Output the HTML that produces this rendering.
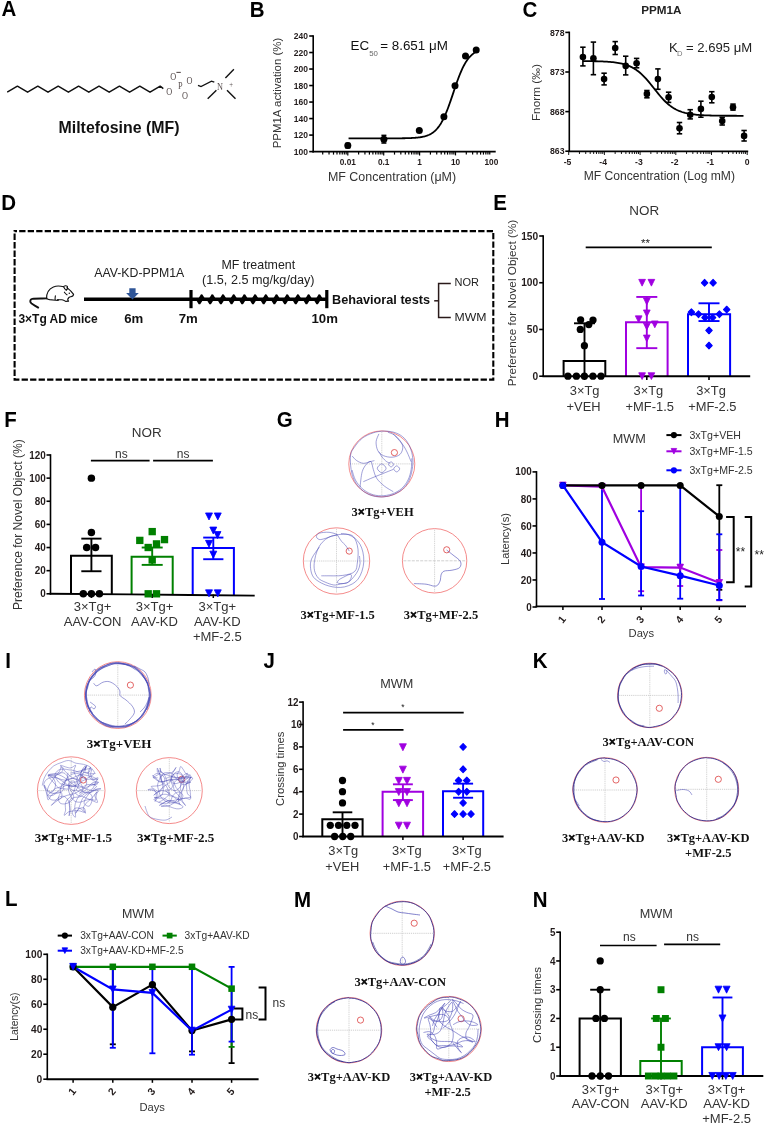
<!DOCTYPE html>
<html><head><meta charset="utf-8"><style>
html,body{margin:0;padding:0;background:#fff;width:765px;height:1124px;overflow:hidden}
svg{display:block;filter:blur(0.35px)}
</style></head><body>
<svg width="765" height="1124" viewBox="0 0 765 1124">
<rect width="765" height="1124" fill="#fff"/>
<text transform="translate(1.39 16.4) scale(0.92 1)" x="0" y="0" font-size="22.3" font-weight="bold" fill="#000" font-family='"Liberation Sans", sans-serif'>A</text>
<polyline points="7.2,92.2 17.4,86.2 27.6,92.2 37.8,86.2 48,92.2 58.2,86.2 68.4,92.2 78.6,86.2 88.8,92.2 99,86.2 109.2,92.2 119.4,86.2 129.6,92.2 139.8,86.2 150,92.2 160.2,86.2 163.3,88.6" stroke="#111" stroke-width="1.5" fill="none" stroke-linejoin="round"/>
<text transform="translate(169.2 94.6) scale(0.78 1)" x="0" y="0" font-size="10.6" font-weight="normal" text-anchor="middle" fill="#5a5050" font-family='"Liberation Serif", serif'>O</text>
<text transform="translate(173.2 79.8) scale(0.78 1)" x="0" y="0" font-size="10.6" font-weight="normal" text-anchor="middle" fill="#5a5050" font-family='"Liberation Serif", serif'>O</text>
<line x1="176.4" y1="72.4" x2="180.8" y2="72.4" stroke="#5a5050" stroke-width="1.1" />
<text transform="translate(180.2 88.8) scale(0.78 1)" x="0" y="0" font-size="10.6" font-weight="normal" text-anchor="middle" fill="#5a5050" font-family='"Liberation Serif", serif'>P</text>
<text transform="translate(189.4 83.9) scale(0.78 1)" x="0" y="0" font-size="10.6" font-weight="normal" text-anchor="middle" fill="#5a5050" font-family='"Liberation Serif", serif'>O</text>
<text transform="translate(185.1 98.6) scale(0.78 1)" x="0" y="0" font-size="10.6" font-weight="normal" text-anchor="middle" fill="#5a5050" font-family='"Liberation Serif", serif'>O</text>
<polyline points="198,85.3 201,86.6 211.5,81.2 214.3,82.2" stroke="#111" stroke-width="1.4" fill="none" />
<text transform="translate(220 89.6) scale(0.78 1)" x="0" y="0" font-size="10.6" font-weight="normal" text-anchor="middle" fill="#5a5050" font-family='"Liberation Serif", serif'>N</text>
<text transform="translate(231.2 86.5) scale(0.78 1)" x="0" y="0" font-size="8.5" font-weight="normal" text-anchor="middle" fill="#5a5050" font-family='"Liberation Serif", serif'>+</text>
<line x1="225.4" y1="78" x2="233.9" y2="69.3" stroke="#111" stroke-width="1.4" />
<line x1="216.4" y1="90.2" x2="207.7" y2="98.7" stroke="#111" stroke-width="1.4" />
<line x1="227" y1="90.2" x2="235.5" y2="98.7" stroke="#111" stroke-width="1.4" />
<text x="119" y="133.4" font-size="15.9" font-weight="bold" text-anchor="middle" fill="#111" font-family='"Liberation Sans", sans-serif' >Miltefosine (MF)</text>
<text transform="translate(249.63 17) scale(0.92 1)" x="0" y="0" font-size="22.3" font-weight="bold" fill="#000" font-family='"Liberation Sans", sans-serif'>B</text>
<line x1="313.2" y1="152.4" x2="313.2" y2="35.2" stroke="#000" stroke-width="1.6" />
<line x1="309.2" y1="151.6" x2="313.2" y2="151.6" stroke="#000" stroke-width="1.6" />
<text transform="translate(308 154.67) scale(0.9 1)" x="0" y="0" font-size="9.46" font-weight="bold" text-anchor="end" fill="#231c1c" font-family='"Liberation Sans", sans-serif'>100</text>
<line x1="309.2" y1="135.09" x2="313.2" y2="135.09" stroke="#000" stroke-width="1.6" />
<text transform="translate(308 138.16) scale(0.9 1)" x="0" y="0" font-size="9.46" font-weight="bold" text-anchor="end" fill="#231c1c" font-family='"Liberation Sans", sans-serif'>120</text>
<line x1="309.2" y1="118.57" x2="313.2" y2="118.57" stroke="#000" stroke-width="1.6" />
<text transform="translate(308 121.65) scale(0.9 1)" x="0" y="0" font-size="9.46" font-weight="bold" text-anchor="end" fill="#231c1c" font-family='"Liberation Sans", sans-serif'>140</text>
<line x1="309.2" y1="102.06" x2="313.2" y2="102.06" stroke="#000" stroke-width="1.6" />
<text transform="translate(308 105.13) scale(0.9 1)" x="0" y="0" font-size="9.46" font-weight="bold" text-anchor="end" fill="#231c1c" font-family='"Liberation Sans", sans-serif'>160</text>
<line x1="309.2" y1="85.54" x2="313.2" y2="85.54" stroke="#000" stroke-width="1.6" />
<text transform="translate(308 88.62) scale(0.9 1)" x="0" y="0" font-size="9.46" font-weight="bold" text-anchor="end" fill="#231c1c" font-family='"Liberation Sans", sans-serif'>180</text>
<line x1="309.2" y1="69.03" x2="313.2" y2="69.03" stroke="#000" stroke-width="1.6" />
<text transform="translate(308 72.1) scale(0.9 1)" x="0" y="0" font-size="9.46" font-weight="bold" text-anchor="end" fill="#231c1c" font-family='"Liberation Sans", sans-serif'>200</text>
<line x1="309.2" y1="52.52" x2="313.2" y2="52.52" stroke="#000" stroke-width="1.6" />
<text transform="translate(308 55.59) scale(0.9 1)" x="0" y="0" font-size="9.46" font-weight="bold" text-anchor="end" fill="#231c1c" font-family='"Liberation Sans", sans-serif'>220</text>
<line x1="309.2" y1="36" x2="313.2" y2="36" stroke="#000" stroke-width="1.6" />
<text transform="translate(308 39.08) scale(0.9 1)" x="0" y="0" font-size="9.46" font-weight="bold" text-anchor="end" fill="#231c1c" font-family='"Liberation Sans", sans-serif'>240</text>
<line x1="312.4" y1="151.6" x2="495.7" y2="151.6" stroke="#000" stroke-width="1.8" />
<line x1="322.71" y1="151.6" x2="322.71" y2="154.6" stroke="#000" stroke-width="1.2" />
<line x1="329.03" y1="151.6" x2="329.03" y2="154.6" stroke="#000" stroke-width="1.2" />
<line x1="333.51" y1="151.6" x2="333.51" y2="154.6" stroke="#000" stroke-width="1.2" />
<line x1="336.99" y1="151.6" x2="336.99" y2="154.6" stroke="#000" stroke-width="1.2" />
<line x1="339.84" y1="151.6" x2="339.84" y2="154.6" stroke="#000" stroke-width="1.2" />
<line x1="342.24" y1="151.6" x2="342.24" y2="154.6" stroke="#000" stroke-width="1.2" />
<line x1="344.32" y1="151.6" x2="344.32" y2="154.6" stroke="#000" stroke-width="1.2" />
<line x1="346.16" y1="151.6" x2="346.16" y2="154.6" stroke="#000" stroke-width="1.2" />
<line x1="347.8" y1="151.6" x2="347.8" y2="155.4" stroke="#000" stroke-width="1.2" />
<line x1="358.61" y1="151.6" x2="358.61" y2="154.6" stroke="#000" stroke-width="1.2" />
<line x1="364.93" y1="151.6" x2="364.93" y2="154.6" stroke="#000" stroke-width="1.2" />
<line x1="369.41" y1="151.6" x2="369.41" y2="154.6" stroke="#000" stroke-width="1.2" />
<line x1="372.89" y1="151.6" x2="372.89" y2="154.6" stroke="#000" stroke-width="1.2" />
<line x1="375.74" y1="151.6" x2="375.74" y2="154.6" stroke="#000" stroke-width="1.2" />
<line x1="378.14" y1="151.6" x2="378.14" y2="154.6" stroke="#000" stroke-width="1.2" />
<line x1="380.22" y1="151.6" x2="380.22" y2="154.6" stroke="#000" stroke-width="1.2" />
<line x1="382.06" y1="151.6" x2="382.06" y2="154.6" stroke="#000" stroke-width="1.2" />
<line x1="383.7" y1="151.6" x2="383.7" y2="155.4" stroke="#000" stroke-width="1.2" />
<line x1="394.51" y1="151.6" x2="394.51" y2="154.6" stroke="#000" stroke-width="1.2" />
<line x1="400.83" y1="151.6" x2="400.83" y2="154.6" stroke="#000" stroke-width="1.2" />
<line x1="405.31" y1="151.6" x2="405.31" y2="154.6" stroke="#000" stroke-width="1.2" />
<line x1="408.79" y1="151.6" x2="408.79" y2="154.6" stroke="#000" stroke-width="1.2" />
<line x1="411.64" y1="151.6" x2="411.64" y2="154.6" stroke="#000" stroke-width="1.2" />
<line x1="414.04" y1="151.6" x2="414.04" y2="154.6" stroke="#000" stroke-width="1.2" />
<line x1="416.12" y1="151.6" x2="416.12" y2="154.6" stroke="#000" stroke-width="1.2" />
<line x1="417.96" y1="151.6" x2="417.96" y2="154.6" stroke="#000" stroke-width="1.2" />
<line x1="419.6" y1="151.6" x2="419.6" y2="155.4" stroke="#000" stroke-width="1.2" />
<line x1="430.41" y1="151.6" x2="430.41" y2="154.6" stroke="#000" stroke-width="1.2" />
<line x1="436.73" y1="151.6" x2="436.73" y2="154.6" stroke="#000" stroke-width="1.2" />
<line x1="441.21" y1="151.6" x2="441.21" y2="154.6" stroke="#000" stroke-width="1.2" />
<line x1="444.69" y1="151.6" x2="444.69" y2="154.6" stroke="#000" stroke-width="1.2" />
<line x1="447.54" y1="151.6" x2="447.54" y2="154.6" stroke="#000" stroke-width="1.2" />
<line x1="449.94" y1="151.6" x2="449.94" y2="154.6" stroke="#000" stroke-width="1.2" />
<line x1="452.02" y1="151.6" x2="452.02" y2="154.6" stroke="#000" stroke-width="1.2" />
<line x1="453.86" y1="151.6" x2="453.86" y2="154.6" stroke="#000" stroke-width="1.2" />
<line x1="455.5" y1="151.6" x2="455.5" y2="155.4" stroke="#000" stroke-width="1.2" />
<line x1="466.31" y1="151.6" x2="466.31" y2="154.6" stroke="#000" stroke-width="1.2" />
<line x1="472.63" y1="151.6" x2="472.63" y2="154.6" stroke="#000" stroke-width="1.2" />
<line x1="477.11" y1="151.6" x2="477.11" y2="154.6" stroke="#000" stroke-width="1.2" />
<line x1="480.59" y1="151.6" x2="480.59" y2="154.6" stroke="#000" stroke-width="1.2" />
<line x1="483.44" y1="151.6" x2="483.44" y2="154.6" stroke="#000" stroke-width="1.2" />
<line x1="485.84" y1="151.6" x2="485.84" y2="154.6" stroke="#000" stroke-width="1.2" />
<line x1="487.92" y1="151.6" x2="487.92" y2="154.6" stroke="#000" stroke-width="1.2" />
<line x1="489.76" y1="151.6" x2="489.76" y2="154.6" stroke="#000" stroke-width="1.2" />
<text transform="translate(347.8 165.2) scale(0.9 1)" x="0" y="0" font-size="9.2" font-weight="bold" text-anchor="middle" fill="#231c1c" font-family='"Liberation Sans", sans-serif'>0.01</text>
<text transform="translate(383.7 165.2) scale(0.9 1)" x="0" y="0" font-size="9.2" font-weight="bold" text-anchor="middle" fill="#231c1c" font-family='"Liberation Sans", sans-serif'>0.1</text>
<text transform="translate(419.6 165.2) scale(0.9 1)" x="0" y="0" font-size="9.2" font-weight="bold" text-anchor="middle" fill="#231c1c" font-family='"Liberation Sans", sans-serif'>1</text>
<text transform="translate(455.5 165.2) scale(0.9 1)" x="0" y="0" font-size="9.2" font-weight="bold" text-anchor="middle" fill="#231c1c" font-family='"Liberation Sans", sans-serif'>10</text>
<text transform="translate(491.4 165.2) scale(0.9 1)" x="0" y="0" font-size="9.2" font-weight="bold" text-anchor="middle" fill="#231c1c" font-family='"Liberation Sans", sans-serif'>100</text>
<polyline points="348.56,138.39 349.32,138.39 350.08,138.39 350.84,138.39 351.6,138.39 352.36,138.39 353.12,138.39 353.89,138.39 354.65,138.39 355.41,138.39 356.17,138.39 356.93,138.39 357.69,138.39 358.45,138.39 359.21,138.39 359.97,138.39 360.73,138.39 361.49,138.39 362.25,138.39 363.01,138.39 363.77,138.39 364.54,138.39 365.3,138.39 366.06,138.39 366.82,138.39 367.58,138.39 368.34,138.39 369.1,138.39 369.86,138.39 370.62,138.39 371.38,138.39 372.14,138.39 372.9,138.39 373.66,138.39 374.42,138.39 375.19,138.39 375.95,138.39 376.71,138.38 377.47,138.38 378.23,138.38 378.99,138.38 379.75,138.38 380.51,138.38 381.27,138.38 382.03,138.38 382.79,138.38 383.55,138.38 384.31,138.38 385.07,138.38 385.83,138.38 386.6,138.37 387.36,138.37 388.12,138.37 388.88,138.37 389.64,138.37 390.4,138.37 391.16,138.36 391.92,138.36 392.68,138.36 393.44,138.35 394.2,138.35 394.96,138.35 395.72,138.34 396.48,138.34 397.25,138.33 398.01,138.33 398.77,138.32 399.53,138.31 400.29,138.3 401.05,138.29 401.81,138.28 402.57,138.27 403.33,138.26 404.09,138.25 404.85,138.23 405.61,138.22 406.37,138.2 407.13,138.18 407.89,138.16 408.66,138.13 409.42,138.1 410.18,138.07 410.94,138.04 411.7,138 412.46,137.96 413.22,137.92 413.98,137.87 414.74,137.82 415.5,137.76 416.26,137.69 417.02,137.62 417.78,137.54 418.54,137.45 419.31,137.35 420.07,137.25 420.83,137.13 421.59,137 422.35,136.85 423.11,136.69 423.87,136.52 424.63,136.33 425.39,136.11 426.15,135.88 426.91,135.63 427.67,135.34 428.43,135.04 429.19,134.7 429.96,134.33 430.72,133.92 431.48,133.48 432.24,132.99 433,132.46 433.76,131.88 434.52,131.25 435.28,130.56 436.04,129.82 436.8,129.01 437.56,128.13 438.32,127.19 439.08,126.17 439.84,125.07 440.6,123.9 441.37,122.64 442.13,121.29 442.89,119.86 443.65,118.34 444.41,116.73 445.17,115.04 445.93,113.26 446.69,111.41 447.45,109.47 448.21,107.47 448.97,105.39 449.73,103.27 450.49,101.09 451.25,98.87 452.02,96.63 452.78,94.36 453.54,92.09 454.3,89.83 455.06,87.57 455.82,85.35 456.58,83.16 457.34,81.02 458.1,78.94 458.86,76.92 459.62,74.97 460.38,73.09 461.14,71.3 461.9,69.59 462.67,67.96 463.43,66.42 464.19,64.97 464.95,63.61 465.71,62.33 466.47,61.13 467.23,60.02 467.99,58.98 468.75,58.02 469.51,57.13 470.27,56.31 471.03,55.55 471.79,54.85 472.55,54.2 473.31,53.61 474.08,53.07 474.84,52.58 475.6,52.12 476.36,51.71 477.12,51.33" stroke="#000" stroke-width="1.8" fill="none" />
<line x1="347.8" y1="143.4" x2="347.8" y2="147.8" stroke="#000" stroke-width="1.6" />
<line x1="345.3" y1="143.4" x2="350.3" y2="143.4" stroke="#000" stroke-width="1.6" />
<line x1="345.3" y1="147.8" x2="350.3" y2="147.8" stroke="#000" stroke-width="1.6" />
<circle cx="347.8" cy="145.6" r="3.5" fill="#000" stroke="none" stroke-width="0"/>
<line x1="383.9" y1="135.4" x2="383.9" y2="143" stroke="#000" stroke-width="1.6" />
<line x1="381.4" y1="135.4" x2="386.4" y2="135.4" stroke="#000" stroke-width="1.6" />
<line x1="381.4" y1="143" x2="386.4" y2="143" stroke="#000" stroke-width="1.6" />
<circle cx="383.9" cy="139.2" r="3.5" fill="#000" stroke="none" stroke-width="0"/>
<circle cx="419.3" cy="130.4" r="3.5" fill="#000" stroke="none" stroke-width="0"/>
<circle cx="443.9" cy="116.8" r="3.5" fill="#000" stroke="none" stroke-width="0"/>
<circle cx="455" cy="85.8" r="3.5" fill="#000" stroke="none" stroke-width="0"/>
<circle cx="465.5" cy="55.9" r="3.5" fill="#000" stroke="none" stroke-width="0"/>
<circle cx="476.2" cy="50.1" r="3.5" fill="#000" stroke="none" stroke-width="0"/>
<text transform="translate(276.5 93) rotate(-90)" x="0" y="4.01" font-size="11.45" font-weight="normal" text-anchor="middle" fill="#333" font-family='"Liberation Sans", sans-serif'>PPM1A activation (%)</text>
<text transform="translate(392 180.8) scale(1.03 1)" x="0" y="0" font-size="12.1" font-weight="normal" text-anchor="middle" fill="#333" font-family='"Liberation Sans", sans-serif'>MF Concentration (μM)</text>
<text x="350.6" y="50.4" font-size="13.4" font-weight="normal" text-anchor="start" fill="#111" font-family='"Liberation Sans", sans-serif' >EC</text>
<text x="369.2" y="55.8" font-size="7.8" font-weight="normal" text-anchor="start" fill="#666" font-family='"Liberation Sans", sans-serif' >50</text>
<text x="380.2" y="50.4" font-size="13.4" font-weight="normal" text-anchor="start" fill="#111" font-family='"Liberation Sans", sans-serif' >= 8.651 μM</text>
<text transform="translate(522.56 17.2) scale(0.92 1)" x="0" y="0" font-size="22.3" font-weight="bold" fill="#000" font-family='"Liberation Sans", sans-serif'>C</text>
<text x="661.3" y="14.2" font-size="11.7" font-weight="bold" text-anchor="middle" fill="#222" font-family='"Liberation Sans", sans-serif' >PPM1A</text>
<line x1="569.3" y1="152" x2="569.3" y2="31.6" stroke="#000" stroke-width="1.6" />
<line x1="565.3" y1="32.4" x2="569.3" y2="32.4" stroke="#000" stroke-width="1.6" />
<text transform="translate(564.5 35.55) scale(0.9 1)" x="0" y="0" font-size="9.68" font-weight="bold" text-anchor="end" fill="#231c1c" font-family='"Liberation Sans", sans-serif'>878</text>
<line x1="565.3" y1="72" x2="569.3" y2="72" stroke="#000" stroke-width="1.6" />
<text transform="translate(564.5 75.15) scale(0.9 1)" x="0" y="0" font-size="9.68" font-weight="bold" text-anchor="end" fill="#231c1c" font-family='"Liberation Sans", sans-serif'>873</text>
<line x1="565.3" y1="111.6" x2="569.3" y2="111.6" stroke="#000" stroke-width="1.6" />
<text transform="translate(564.5 114.75) scale(0.9 1)" x="0" y="0" font-size="9.68" font-weight="bold" text-anchor="end" fill="#231c1c" font-family='"Liberation Sans", sans-serif'>868</text>
<line x1="565.3" y1="151.2" x2="569.3" y2="151.2" stroke="#000" stroke-width="1.6" />
<text transform="translate(564.5 154.35) scale(0.9 1)" x="0" y="0" font-size="9.68" font-weight="bold" text-anchor="end" fill="#231c1c" font-family='"Liberation Sans", sans-serif'>863</text>
<line x1="568.5" y1="151.4" x2="748.2" y2="151.4" stroke="#000" stroke-width="1.8" />
<line x1="568.7" y1="151.4" x2="568.7" y2="155" stroke="#000" stroke-width="0.9" />
<line x1="579.45" y1="151.4" x2="579.45" y2="154" stroke="#000" stroke-width="0.9" />
<line x1="585.73" y1="151.4" x2="585.73" y2="154" stroke="#000" stroke-width="0.9" />
<line x1="590.19" y1="151.4" x2="590.19" y2="154" stroke="#000" stroke-width="0.9" />
<line x1="593.65" y1="151.4" x2="593.65" y2="154" stroke="#000" stroke-width="0.9" />
<line x1="596.48" y1="151.4" x2="596.48" y2="154" stroke="#000" stroke-width="0.9" />
<line x1="598.87" y1="151.4" x2="598.87" y2="154" stroke="#000" stroke-width="0.9" />
<line x1="600.94" y1="151.4" x2="600.94" y2="154" stroke="#000" stroke-width="0.9" />
<line x1="602.77" y1="151.4" x2="602.77" y2="154" stroke="#000" stroke-width="0.9" />
<line x1="604.4" y1="151.4" x2="604.4" y2="155" stroke="#000" stroke-width="0.9" />
<line x1="615.15" y1="151.4" x2="615.15" y2="154" stroke="#000" stroke-width="0.9" />
<line x1="621.43" y1="151.4" x2="621.43" y2="154" stroke="#000" stroke-width="0.9" />
<line x1="625.89" y1="151.4" x2="625.89" y2="154" stroke="#000" stroke-width="0.9" />
<line x1="629.35" y1="151.4" x2="629.35" y2="154" stroke="#000" stroke-width="0.9" />
<line x1="632.18" y1="151.4" x2="632.18" y2="154" stroke="#000" stroke-width="0.9" />
<line x1="634.57" y1="151.4" x2="634.57" y2="154" stroke="#000" stroke-width="0.9" />
<line x1="636.64" y1="151.4" x2="636.64" y2="154" stroke="#000" stroke-width="0.9" />
<line x1="638.47" y1="151.4" x2="638.47" y2="154" stroke="#000" stroke-width="0.9" />
<line x1="640.1" y1="151.4" x2="640.1" y2="155" stroke="#000" stroke-width="0.9" />
<line x1="650.85" y1="151.4" x2="650.85" y2="154" stroke="#000" stroke-width="0.9" />
<line x1="657.13" y1="151.4" x2="657.13" y2="154" stroke="#000" stroke-width="0.9" />
<line x1="661.59" y1="151.4" x2="661.59" y2="154" stroke="#000" stroke-width="0.9" />
<line x1="665.05" y1="151.4" x2="665.05" y2="154" stroke="#000" stroke-width="0.9" />
<line x1="667.88" y1="151.4" x2="667.88" y2="154" stroke="#000" stroke-width="0.9" />
<line x1="670.27" y1="151.4" x2="670.27" y2="154" stroke="#000" stroke-width="0.9" />
<line x1="672.34" y1="151.4" x2="672.34" y2="154" stroke="#000" stroke-width="0.9" />
<line x1="674.17" y1="151.4" x2="674.17" y2="154" stroke="#000" stroke-width="0.9" />
<line x1="675.8" y1="151.4" x2="675.8" y2="155" stroke="#000" stroke-width="0.9" />
<line x1="686.55" y1="151.4" x2="686.55" y2="154" stroke="#000" stroke-width="0.9" />
<line x1="692.83" y1="151.4" x2="692.83" y2="154" stroke="#000" stroke-width="0.9" />
<line x1="697.29" y1="151.4" x2="697.29" y2="154" stroke="#000" stroke-width="0.9" />
<line x1="700.75" y1="151.4" x2="700.75" y2="154" stroke="#000" stroke-width="0.9" />
<line x1="703.58" y1="151.4" x2="703.58" y2="154" stroke="#000" stroke-width="0.9" />
<line x1="705.97" y1="151.4" x2="705.97" y2="154" stroke="#000" stroke-width="0.9" />
<line x1="708.04" y1="151.4" x2="708.04" y2="154" stroke="#000" stroke-width="0.9" />
<line x1="709.87" y1="151.4" x2="709.87" y2="154" stroke="#000" stroke-width="0.9" />
<line x1="711.5" y1="151.4" x2="711.5" y2="155" stroke="#000" stroke-width="0.9" />
<line x1="722.25" y1="151.4" x2="722.25" y2="154" stroke="#000" stroke-width="0.9" />
<line x1="728.53" y1="151.4" x2="728.53" y2="154" stroke="#000" stroke-width="0.9" />
<line x1="732.99" y1="151.4" x2="732.99" y2="154" stroke="#000" stroke-width="0.9" />
<line x1="736.45" y1="151.4" x2="736.45" y2="154" stroke="#000" stroke-width="0.9" />
<line x1="739.28" y1="151.4" x2="739.28" y2="154" stroke="#000" stroke-width="0.9" />
<line x1="741.67" y1="151.4" x2="741.67" y2="154" stroke="#000" stroke-width="0.9" />
<line x1="743.74" y1="151.4" x2="743.74" y2="154" stroke="#000" stroke-width="0.9" />
<line x1="745.57" y1="151.4" x2="745.57" y2="154" stroke="#000" stroke-width="0.9" />
<line x1="747.2" y1="151.4" x2="747.2" y2="155" stroke="#000" stroke-width="0.9" />
<text transform="translate(567.5 164.6) scale(0.9 1)" x="0" y="0" font-size="9.6" font-weight="bold" text-anchor="middle" fill="#231c1c" font-family='"Liberation Sans", sans-serif'>-5</text>
<text transform="translate(603.2 164.6) scale(0.9 1)" x="0" y="0" font-size="9.6" font-weight="bold" text-anchor="middle" fill="#231c1c" font-family='"Liberation Sans", sans-serif'>-4</text>
<text transform="translate(638.9 164.6) scale(0.9 1)" x="0" y="0" font-size="9.6" font-weight="bold" text-anchor="middle" fill="#231c1c" font-family='"Liberation Sans", sans-serif'>-3</text>
<text transform="translate(674.6 164.6) scale(0.9 1)" x="0" y="0" font-size="9.6" font-weight="bold" text-anchor="middle" fill="#231c1c" font-family='"Liberation Sans", sans-serif'>-2</text>
<text transform="translate(710.3 164.6) scale(0.9 1)" x="0" y="0" font-size="9.6" font-weight="bold" text-anchor="middle" fill="#231c1c" font-family='"Liberation Sans", sans-serif'>-1</text>
<text transform="translate(747.2 164.6) scale(0.9 1)" x="0" y="0" font-size="9.6" font-weight="bold" text-anchor="middle" fill="#231c1c" font-family='"Liberation Sans", sans-serif'>0</text>
<polyline points="583,61.08 584.5,61.09 586,61.1 587.5,61.12 589,61.13 590.5,61.15 592,61.18 593.5,61.2 595,61.23 596.5,61.27 598,61.31 599.5,61.35 601,61.4 602.5,61.46 604,61.53 605.5,61.61 607,61.7 608.5,61.8 610,61.92 611.5,62.05 613,62.2 614.5,62.38 616,62.58 617.5,62.81 619,63.06 620.5,63.36 622,63.69 623.5,64.07 625,64.5 626.5,64.98 628,65.53 629.5,66.14 631,66.82 632.5,67.59 634,68.43 635.5,69.37 637,70.41 638.5,71.54 640,72.77 641.5,74.1 643,75.54 644.5,77.07 646,78.69 647.5,80.39 649,82.17 650.5,84 652,85.87 653.5,87.77 655,89.67 656.5,91.56 658,93.42 659.5,95.23 661,96.98 662.5,98.66 664,100.25 665.5,101.75 667,103.15 668.5,104.45 670,105.65 671.5,106.75 673,107.75 674.5,108.66 676,109.48 677.5,110.21 679,110.87 680.5,111.46 682,111.99 683.5,112.45 685,112.86 686.5,113.22 688,113.54 689.5,113.83 691,114.07 692.5,114.29 694,114.48 695.5,114.65 697,114.8 698.5,114.92 700,115.04 701.5,115.13 703,115.22 704.5,115.29 706,115.36 707.5,115.42 709,115.47 710.5,115.51 712,115.55 713.5,115.58 715,115.61 716.5,115.63 718,115.65 719.5,115.67 721,115.69 722.5,115.7 724,115.72 725.5,115.73 727,115.74 728.5,115.74 730,115.75 731.5,115.76 733,115.76 734.5,115.77 736,115.77 737.5,115.78 739,115.78 740.5,115.78 742,115.78 743.5,115.79" stroke="#000" stroke-width="1.8" fill="none" />
<line x1="582.9" y1="47.2" x2="582.9" y2="65.9" stroke="#000" stroke-width="1.6" />
<line x1="580.2" y1="47.2" x2="585.6" y2="47.2" stroke="#000" stroke-width="1.6" />
<line x1="580.2" y1="65.9" x2="585.6" y2="65.9" stroke="#000" stroke-width="1.6" />
<circle cx="582.9" cy="57" r="3.3" fill="#000" stroke="none" stroke-width="0"/>
<line x1="593.4" y1="42.1" x2="593.4" y2="74.7" stroke="#000" stroke-width="1.6" />
<line x1="590.7" y1="42.1" x2="596.1" y2="42.1" stroke="#000" stroke-width="1.6" />
<line x1="590.7" y1="74.7" x2="596.1" y2="74.7" stroke="#000" stroke-width="1.6" />
<circle cx="593.4" cy="58.2" r="3.3" fill="#000" stroke="none" stroke-width="0"/>
<line x1="604.1" y1="73.2" x2="604.1" y2="84.9" stroke="#000" stroke-width="1.6" />
<line x1="601.4" y1="73.2" x2="606.8" y2="73.2" stroke="#000" stroke-width="1.6" />
<line x1="601.4" y1="84.9" x2="606.8" y2="84.9" stroke="#000" stroke-width="1.6" />
<circle cx="604.1" cy="79.1" r="3.3" fill="#000" stroke="none" stroke-width="0"/>
<line x1="615.2" y1="41.6" x2="615.2" y2="54.5" stroke="#000" stroke-width="1.6" />
<line x1="612.5" y1="41.6" x2="617.9" y2="41.6" stroke="#000" stroke-width="1.6" />
<line x1="612.5" y1="54.5" x2="617.9" y2="54.5" stroke="#000" stroke-width="1.6" />
<circle cx="615.2" cy="48" r="3.3" fill="#000" stroke="none" stroke-width="0"/>
<line x1="625.7" y1="56.2" x2="625.7" y2="74.9" stroke="#000" stroke-width="1.6" />
<line x1="623" y1="56.2" x2="628.4" y2="56.2" stroke="#000" stroke-width="1.6" />
<line x1="623" y1="74.9" x2="628.4" y2="74.9" stroke="#000" stroke-width="1.6" />
<circle cx="625.7" cy="65.9" r="3.3" fill="#000" stroke="none" stroke-width="0"/>
<line x1="636.6" y1="58.4" x2="636.6" y2="67.8" stroke="#000" stroke-width="1.6" />
<line x1="633.9" y1="58.4" x2="639.3" y2="58.4" stroke="#000" stroke-width="1.6" />
<line x1="633.9" y1="67.8" x2="639.3" y2="67.8" stroke="#000" stroke-width="1.6" />
<circle cx="636.6" cy="63.3" r="3.3" fill="#000" stroke="none" stroke-width="0"/>
<line x1="646.9" y1="90.5" x2="646.9" y2="97.8" stroke="#000" stroke-width="1.6" />
<line x1="644.2" y1="90.5" x2="649.6" y2="90.5" stroke="#000" stroke-width="1.6" />
<line x1="644.2" y1="97.8" x2="649.6" y2="97.8" stroke="#000" stroke-width="1.6" />
<circle cx="646.9" cy="93.9" r="3.3" fill="#000" stroke="none" stroke-width="0"/>
<line x1="657.9" y1="68.9" x2="657.9" y2="89.3" stroke="#000" stroke-width="1.6" />
<line x1="655.2" y1="68.9" x2="660.6" y2="68.9" stroke="#000" stroke-width="1.6" />
<line x1="655.2" y1="89.3" x2="660.6" y2="89.3" stroke="#000" stroke-width="1.6" />
<circle cx="657.9" cy="79.1" r="3.3" fill="#000" stroke="none" stroke-width="0"/>
<line x1="668.6" y1="92.2" x2="668.6" y2="102.4" stroke="#000" stroke-width="1.6" />
<line x1="665.9" y1="92.2" x2="671.3" y2="92.2" stroke="#000" stroke-width="1.6" />
<line x1="665.9" y1="102.4" x2="671.3" y2="102.4" stroke="#000" stroke-width="1.6" />
<circle cx="668.6" cy="97.3" r="3.3" fill="#000" stroke="none" stroke-width="0"/>
<line x1="679.5" y1="122.5" x2="679.5" y2="133.8" stroke="#000" stroke-width="1.6" />
<line x1="676.8" y1="122.5" x2="682.2" y2="122.5" stroke="#000" stroke-width="1.6" />
<line x1="676.8" y1="133.8" x2="682.2" y2="133.8" stroke="#000" stroke-width="1.6" />
<circle cx="679.5" cy="128.2" r="3.3" fill="#000" stroke="none" stroke-width="0"/>
<line x1="690.2" y1="109.7" x2="690.2" y2="118.9" stroke="#000" stroke-width="1.6" />
<line x1="687.5" y1="109.7" x2="692.9" y2="109.7" stroke="#000" stroke-width="1.6" />
<line x1="687.5" y1="118.9" x2="692.9" y2="118.9" stroke="#000" stroke-width="1.6" />
<circle cx="690.2" cy="114.8" r="3.3" fill="#000" stroke="none" stroke-width="0"/>
<line x1="700.9" y1="101.2" x2="700.9" y2="117.2" stroke="#000" stroke-width="1.6" />
<line x1="698.2" y1="101.2" x2="703.6" y2="101.2" stroke="#000" stroke-width="1.6" />
<line x1="698.2" y1="117.2" x2="703.6" y2="117.2" stroke="#000" stroke-width="1.6" />
<circle cx="700.9" cy="108.9" r="3.3" fill="#000" stroke="none" stroke-width="0"/>
<line x1="711.8" y1="91.7" x2="711.8" y2="102.8" stroke="#000" stroke-width="1.6" />
<line x1="709.1" y1="91.7" x2="714.5" y2="91.7" stroke="#000" stroke-width="1.6" />
<line x1="709.1" y1="102.8" x2="714.5" y2="102.8" stroke="#000" stroke-width="1.6" />
<circle cx="711.8" cy="97" r="3.3" fill="#000" stroke="none" stroke-width="0"/>
<line x1="722.2" y1="117.2" x2="722.2" y2="125" stroke="#000" stroke-width="1.6" />
<line x1="719.5" y1="117.2" x2="724.9" y2="117.2" stroke="#000" stroke-width="1.6" />
<line x1="719.5" y1="125" x2="724.9" y2="125" stroke="#000" stroke-width="1.6" />
<circle cx="722.2" cy="121.1" r="3.3" fill="#000" stroke="none" stroke-width="0"/>
<line x1="733" y1="104.1" x2="733" y2="110.1" stroke="#000" stroke-width="1.6" />
<line x1="730.3" y1="104.1" x2="735.7" y2="104.1" stroke="#000" stroke-width="1.6" />
<line x1="730.3" y1="110.1" x2="735.7" y2="110.1" stroke="#000" stroke-width="1.6" />
<circle cx="733" cy="107.2" r="3.3" fill="#000" stroke="none" stroke-width="0"/>
<line x1="744.1" y1="130.5" x2="744.1" y2="141" stroke="#000" stroke-width="1.6" />
<line x1="741.4" y1="130.5" x2="746.8" y2="130.5" stroke="#000" stroke-width="1.6" />
<line x1="741.4" y1="141" x2="746.8" y2="141" stroke="#000" stroke-width="1.6" />
<circle cx="744.1" cy="135.9" r="3.3" fill="#000" stroke="none" stroke-width="0"/>
<text transform="translate(536.3 92.6) rotate(-90)" x="0" y="4.13" font-size="11.8" font-weight="normal" text-anchor="middle" fill="#333" font-family='"Liberation Sans", sans-serif'>Fnorm (‰)</text>
<text transform="translate(659.3 180.4) scale(1 1)" x="0" y="0" font-size="12.1" font-weight="normal" text-anchor="middle" fill="#333" font-family='"Liberation Sans", sans-serif'>MF Concentration (Log mM)</text>
<text x="668.9" y="51.9" font-size="13.1" font-weight="normal" text-anchor="start" fill="#222" font-family='"Liberation Sans", sans-serif' >K</text>
<text x="677.1" y="56" font-size="7.6" font-weight="normal" text-anchor="start" fill="#777" font-family='"Liberation Sans", sans-serif' >D</text>
<text x="686" y="51.9" font-size="13.1" font-weight="normal" text-anchor="start" fill="#222" font-family='"Liberation Sans", sans-serif' >= 2.695 μM</text>
<text transform="translate(1.23 210.1) scale(0.92 1)" x="0" y="0" font-size="22.3" font-weight="bold" fill="#000" font-family='"Liberation Sans", sans-serif'>D</text>
<rect x="14.6" y="231.1" width="478.7" height="148.5" fill="none" stroke="#000" stroke-width="2.1" stroke-dasharray="6.3 2.2" stroke-dashoffset="3.9"/>
<path d="M46.6 298.4 C42 298.6 36 298.2 32.2 298.9 C29.6 299.6 29.8 302.2 31.6 303.6 C33.8 305.2 36.2 306.2 38.2 307.6" fill="none" stroke="#111" stroke-width="1.9" stroke-linecap="round"/>
<g fill="none" stroke="#111" stroke-width="1.1" stroke-linejoin="round" stroke-linecap="round"><path d="M46.6 298.6 C46.4 293.5 48.6 289 53.4 286.9 C56.5 285.7 60 285.8 63.6 286.8"/><path d="M63.6 286.8 C64.2 285.6 66.2 285.4 67.4 286.4 C67.8 287.4 67.2 289.4 66.2 290.4 C65.2 289.8 64.4 288.4 63.6 286.8"/><path d="M67.0 287.6 C69.5 289.6 72 292 73.6 294.4 C73.4 296 72 296.6 70.6 296.8 C69.6 297 68.8 297.4 68.4 298.2"/><path d="M68.4 298.2 C67.6 299.2 67.6 300.4 68.6 301.2 L65.6 301.4 C64.4 300.6 63.4 300 62.0 299.8 C60 299.6 58.6 300 57.6 299.6"/><path d="M55.4 295.8 C55.2 297.6 54.6 299.2 55.4 300.2 L58.2 300.4 M55.4 300.2 L49.6 299.6 C48.2 299.4 47.2 299 46.6 298.6"/><path d="M64.4 292.2 C65.2 293.4 66 294.2 67 294.8"/></g>
<circle cx="69.3" cy="293.2" r="0.75" fill="#111" stroke="none" stroke-width="0"/>
<text x="18.4" y="323.2" font-size="12" font-weight="bold" text-anchor="start" fill="#111" font-family='"Liberation Sans", sans-serif' >3×Tg AD mice</text>
<line x1="84" y1="299.2" x2="327" y2="299.2" stroke="#000" stroke-width="3.5" />
<path d="M129.3 288.3 L135.6 288.3 L135.6 293.1 L138.8 293.1 L132.5 299.6 L126.1 293.1 L129.3 293.1 Z" fill="#2f5597"/>
<text x="139.2" y="277.2" font-size="12.3" font-weight="normal" text-anchor="middle" fill="#222" font-family='"Liberation Sans", sans-serif' >AAV-KD-PPM1A</text>
<line x1="191" y1="290" x2="191" y2="308.2" stroke="#000" stroke-width="3.2" />
<line x1="326.8" y1="290" x2="326.8" y2="308.2" stroke="#000" stroke-width="3.2" />
<path d="M198.7 298 L201 294.2 L202.4 294.4 L204.6 298 Z M196.4 300.6 L202.6 300.6 L200.2 304.3 L198.7 304.2 Z M209.4 298 L211.7 294.2 L213.1 294.4 L215.3 298 Z M207.1 300.6 L213.3 300.6 L210.9 304.3 L209.4 304.2 Z M220.1 298 L222.4 294.2 L223.8 294.4 L226 298 Z M217.8 300.6 L224 300.6 L221.6 304.3 L220.1 304.2 Z M230.8 298 L233.1 294.2 L234.5 294.4 L236.7 298 Z M228.5 300.6 L234.7 300.6 L232.3 304.3 L230.8 304.2 Z M241.5 298 L243.8 294.2 L245.2 294.4 L247.4 298 Z M239.2 300.6 L245.4 300.6 L243 304.3 L241.5 304.2 Z M252.2 298 L254.5 294.2 L255.9 294.4 L258.1 298 Z M249.9 300.6 L256.1 300.6 L253.7 304.3 L252.2 304.2 Z M262.9 298 L265.2 294.2 L266.6 294.4 L268.8 298 Z M260.6 300.6 L266.8 300.6 L264.4 304.3 L262.9 304.2 Z M273.6 298 L275.9 294.2 L277.3 294.4 L279.5 298 Z M271.3 300.6 L277.5 300.6 L275.1 304.3 L273.6 304.2 Z M284.3 298 L286.6 294.2 L288 294.4 L290.2 298 Z M282 300.6 L288.2 300.6 L285.8 304.3 L284.3 304.2 Z M295 298 L297.3 294.2 L298.7 294.4 L300.9 298 Z M292.7 300.6 L298.9 300.6 L296.5 304.3 L295 304.2 Z M305.7 298 L308 294.2 L309.4 294.4 L311.6 298 Z M303.4 300.6 L309.6 300.6 L307.2 304.3 L305.7 304.2 Z M316.4 298 L318.7 294.2 L320.1 294.4 L322.3 298 Z M314.1 300.6 L320.3 300.6 L317.9 304.3 L316.4 304.2 Z" fill="#000"/>
<text x="258.3" y="268.9" font-size="12.4" font-weight="normal" text-anchor="middle" fill="#222" font-family='"Liberation Sans", sans-serif' >MF treatment</text>
<text x="258.3" y="283.9" font-size="12.65" font-weight="normal" text-anchor="middle" fill="#222" font-family='"Liberation Sans", sans-serif' >(1.5, 2.5 mg/kg/day)</text>
<text x="133.8" y="323" font-size="13.2" font-weight="bold" text-anchor="middle" fill="#111" font-family='"Liberation Sans", sans-serif' >6m</text>
<text x="188.2" y="323" font-size="13.2" font-weight="bold" text-anchor="middle" fill="#111" font-family='"Liberation Sans", sans-serif' >7m</text>
<text x="324.7" y="323" font-size="13.2" font-weight="bold" text-anchor="middle" fill="#111" font-family='"Liberation Sans", sans-serif' >10m</text>
<text x="332" y="304.3" font-size="12.7" font-weight="bold" text-anchor="start" fill="#111" font-family='"Liberation Sans", sans-serif' >Behavioral tests</text>
<polyline points="450.8,283.6 438.6,283.6 438.6,317.4 450.8,317.4" stroke="#2a1a1a" stroke-width="1.5" fill="none" />
<line x1="434.2" y1="300.8" x2="438.6" y2="300.8" stroke="#2a1a1a" stroke-width="1.5" />
<text x="454.6" y="286.2" font-size="11" font-weight="normal" text-anchor="start" fill="#222" font-family='"Liberation Sans", sans-serif' >NOR</text>
<text x="454.6" y="321.2" font-size="11" font-weight="normal" text-anchor="start" fill="#222" font-family='"Liberation Sans", sans-serif' textLength="32" lengthAdjust="spacingAndGlyphs">MWM</text>
<text transform="translate(493.23 210.2) scale(0.92 1)" x="0" y="0" font-size="22.3" font-weight="bold" fill="#000" font-family='"Liberation Sans", sans-serif'>E</text>
<text x="644.25" y="215.4" font-size="12.4" font-weight="normal" text-anchor="middle" fill="#333" font-family='"Liberation Sans", sans-serif' textLength="29.9" lengthAdjust="spacingAndGlyphs">NOR</text>
<text transform="translate(511.8 303) rotate(-90)" x="0" y="4.11" font-size="11.75" font-weight="normal" text-anchor="middle" fill="#333" font-family='"Liberation Sans", sans-serif'>Preference for Novel Object (%)</text>
<polyline points="563.6,376.2 563.6,361.06 605.3,361.06 605.3,376.2" stroke="#000" stroke-width="2" fill="none" stroke-linejoin="miter"/>
<polyline points="626,376.2 626,322.17 667.6,322.17 667.6,376.2" stroke="#a000e0" stroke-width="2" fill="none" stroke-linejoin="miter"/>
<polyline points="688,376.2 688,314.23 730.1,314.23 730.1,376.2" stroke="#0000ff" stroke-width="2" fill="none" stroke-linejoin="miter"/>
<line x1="584.5" y1="323.3" x2="584.5" y2="361.06" stroke="#000" stroke-width="1.9" />
<line x1="574" y1="323.3" x2="595" y2="323.3" stroke="#000" stroke-width="1.9" />
<line x1="584.5" y1="361.06" x2="584.5" y2="376.2" stroke="#000" stroke-width="1.9" />
<line x1="646.8" y1="296.94" x2="646.8" y2="348.16" stroke="#a000e0" stroke-width="1.9" />
<line x1="636.3" y1="296.94" x2="657.3" y2="296.94" stroke="#a000e0" stroke-width="1.9" />
<line x1="636.3" y1="348.16" x2="657.3" y2="348.16" stroke="#a000e0" stroke-width="1.9" />
<line x1="709" y1="303.29" x2="709" y2="321.05" stroke="#0000ff" stroke-width="1.9" />
<line x1="698.5" y1="303.29" x2="719.5" y2="303.29" stroke="#0000ff" stroke-width="1.9" />
<line x1="698.5" y1="321.05" x2="719.5" y2="321.05" stroke="#0000ff" stroke-width="1.9" />
<line x1="543.2" y1="377" x2="543.2" y2="235.19" stroke="#000" stroke-width="1.6" />
<line x1="539.2" y1="376.2" x2="543.2" y2="376.2" stroke="#000" stroke-width="1.6" />
<text transform="translate(538.2 379.88) scale(0.9 1)" x="0" y="0" font-size="11.33" font-weight="bold" text-anchor="end" fill="#231c1c" font-family='"Liberation Sans", sans-serif'>0</text>
<line x1="539.2" y1="329.46" x2="543.2" y2="329.46" stroke="#000" stroke-width="1.6" />
<text transform="translate(538.2 333.15) scale(0.9 1)" x="0" y="0" font-size="11.33" font-weight="bold" text-anchor="end" fill="#231c1c" font-family='"Liberation Sans", sans-serif'>50</text>
<line x1="539.2" y1="282.73" x2="543.2" y2="282.73" stroke="#000" stroke-width="1.6" />
<text transform="translate(538.2 286.41) scale(0.9 1)" x="0" y="0" font-size="11.33" font-weight="bold" text-anchor="end" fill="#231c1c" font-family='"Liberation Sans", sans-serif'>100</text>
<line x1="539.2" y1="236" x2="543.2" y2="236" stroke="#000" stroke-width="1.6" />
<text transform="translate(538.2 239.68) scale(0.9 1)" x="0" y="0" font-size="11.33" font-weight="bold" text-anchor="end" fill="#231c1c" font-family='"Liberation Sans", sans-serif'>150</text>
<line x1="542.4" y1="376.2" x2="750.2" y2="376.2" stroke="#000" stroke-width="1.9" />
<line x1="584.5" y1="376.2" x2="584.5" y2="380" stroke="#000" stroke-width="1.6" />
<line x1="646.8" y1="376.2" x2="646.8" y2="380" stroke="#000" stroke-width="1.6" />
<line x1="709" y1="376.2" x2="709" y2="380" stroke="#000" stroke-width="1.6" />
<circle cx="567.9" cy="376.2" r="3.63" fill="#000" stroke="none" stroke-width="0"/>
<circle cx="576.4" cy="376.2" r="3.63" fill="#000" stroke="none" stroke-width="0"/>
<circle cx="584.4" cy="376.2" r="3.63" fill="#000" stroke="none" stroke-width="0"/>
<circle cx="592.9" cy="376.2" r="3.63" fill="#000" stroke="none" stroke-width="0"/>
<circle cx="601" cy="376.2" r="3.63" fill="#000" stroke="none" stroke-width="0"/>
<circle cx="584.4" cy="345.64" r="3.63" fill="#000" stroke="none" stroke-width="0"/>
<circle cx="580.3" cy="329.46" r="3.63" fill="#000" stroke="none" stroke-width="0"/>
<circle cx="580.6" cy="319.84" r="3.63" fill="#000" stroke="none" stroke-width="0"/>
<circle cx="588.8" cy="324.6" r="3.63" fill="#000" stroke="none" stroke-width="0"/>
<circle cx="593" cy="320.12" r="3.63" fill="#000" stroke="none" stroke-width="0"/>
<path d="M638.74 372.76L645.46 372.76L642.1 379.54Z" fill="#a000e0" stroke="#a000e0" stroke-width="0.8" stroke-linejoin="round"/>
<path d="M648.04 372.76L654.76 372.76L651.4 379.54Z" fill="#a000e0" stroke="#a000e0" stroke-width="0.8" stroke-linejoin="round"/>
<path d="M638.74 279.36L645.46 279.36L642.1 286.14Z" fill="#a000e0" stroke="#a000e0" stroke-width="0.8" stroke-linejoin="round"/>
<path d="M648.04 279.36L654.76 279.36L651.4 286.14Z" fill="#a000e0" stroke="#a000e0" stroke-width="0.8" stroke-linejoin="round"/>
<path d="M643.44 298.06L650.16 298.06L646.8 304.84Z" fill="#a000e0" stroke="#a000e0" stroke-width="0.8" stroke-linejoin="round"/>
<path d="M643.44 309.96L650.16 309.96L646.8 316.74Z" fill="#a000e0" stroke="#a000e0" stroke-width="0.8" stroke-linejoin="round"/>
<path d="M635.34 315.86L642.06 315.86L638.7 322.64Z" fill="#a000e0" stroke="#a000e0" stroke-width="0.8" stroke-linejoin="round"/>
<path d="M651.44 320.96L658.16 320.96L654.8 327.74Z" fill="#a000e0" stroke="#a000e0" stroke-width="0.8" stroke-linejoin="round"/>
<path d="M643.44 323.16L650.16 323.16L646.8 329.94Z" fill="#a000e0" stroke="#a000e0" stroke-width="0.8" stroke-linejoin="round"/>
<path d="M643.44 335.06L650.16 335.06L646.8 341.84Z" fill="#a000e0" stroke="#a000e0" stroke-width="0.8" stroke-linejoin="round"/>
<path d="M704.6 279.41L707.82 282.8L704.6 286.19L701.38 282.8Z" fill="#0000ff" stroke="#0000ff" stroke-width="1.1" stroke-linejoin="round"/>
<path d="M713.1 279.41L716.32 282.8L713.1 286.19L709.88 282.8Z" fill="#0000ff" stroke="#0000ff" stroke-width="1.1" stroke-linejoin="round"/>
<path d="M691.4 308.81L694.62 312.2L691.4 315.59L688.18 312.2Z" fill="#0000ff" stroke="#0000ff" stroke-width="1.1" stroke-linejoin="round"/>
<path d="M698.5 310.81L701.72 314.2L698.5 317.59L695.28 314.2Z" fill="#0000ff" stroke="#0000ff" stroke-width="1.1" stroke-linejoin="round"/>
<path d="M705 314.21L708.22 317.6L705 320.99L701.78 317.6Z" fill="#0000ff" stroke="#0000ff" stroke-width="1.1" stroke-linejoin="round"/>
<path d="M712.6 314.21L715.82 317.6L712.6 320.99L709.38 317.6Z" fill="#0000ff" stroke="#0000ff" stroke-width="1.1" stroke-linejoin="round"/>
<path d="M719.4 310.81L722.62 314.2L719.4 317.59L716.18 314.2Z" fill="#0000ff" stroke="#0000ff" stroke-width="1.1" stroke-linejoin="round"/>
<path d="M726.7 306.21L729.92 309.6L726.7 312.99L723.48 309.6Z" fill="#0000ff" stroke="#0000ff" stroke-width="1.1" stroke-linejoin="round"/>
<path d="M709 327.01L712.22 330.4L709 333.79L705.78 330.4Z" fill="#0000ff" stroke="#0000ff" stroke-width="1.1" stroke-linejoin="round"/>
<path d="M709 342.21L712.22 345.6L709 348.99L705.78 345.6Z" fill="#0000ff" stroke="#0000ff" stroke-width="1.1" stroke-linejoin="round"/>
<line x1="585.7" y1="247.4" x2="711.8" y2="247.4" stroke="#000" stroke-width="1.6" />
<text x="645.5" y="246.8" font-size="11.5" font-weight="normal" text-anchor="middle" fill="#222" font-family='"Liberation Sans", sans-serif' >**</text>
<text transform="translate(584.6 394.7) scale(1.04 1)" x="0" y="0" font-size="12.4" font-weight="normal" text-anchor="middle" fill="#333" font-family='"Liberation Sans", sans-serif'>3×Tg</text>
<text transform="translate(583.6 410.8) scale(1.04 1)" x="0" y="0" font-size="12.4" font-weight="normal" text-anchor="middle" fill="#333" font-family='"Liberation Sans", sans-serif'>+VEH</text>
<text transform="translate(648.4 394.7) scale(1.04 1)" x="0" y="0" font-size="12.4" font-weight="normal" text-anchor="middle" fill="#333" font-family='"Liberation Sans", sans-serif'>3×Tg</text>
<text transform="translate(649.7 410.8) scale(1.04 1)" x="0" y="0" font-size="12.4" font-weight="normal" text-anchor="middle" fill="#333" font-family='"Liberation Sans", sans-serif'>+MF-1.5</text>
<text transform="translate(711 394.7) scale(1.04 1)" x="0" y="0" font-size="12.4" font-weight="normal" text-anchor="middle" fill="#333" font-family='"Liberation Sans", sans-serif'>3×Tg</text>
<text transform="translate(712.3 410.8) scale(1.04 1)" x="0" y="0" font-size="12.4" font-weight="normal" text-anchor="middle" fill="#333" font-family='"Liberation Sans", sans-serif'>+MF-2.5</text>
<text transform="translate(4.13 427.2) scale(0.92 1)" x="0" y="0" font-size="22.3" font-weight="bold" fill="#000" font-family='"Liberation Sans", sans-serif'>F</text>
<text x="146.7" y="437" font-size="12.4" font-weight="normal" text-anchor="middle" fill="#333" font-family='"Liberation Sans", sans-serif' textLength="29.9" lengthAdjust="spacingAndGlyphs">NOR</text>
<text transform="translate(17.5 524.7) rotate(-90)" x="0" y="4.22" font-size="12.05" font-weight="normal" text-anchor="middle" fill="#333" font-family='"Liberation Sans", sans-serif'>Preference for Novel Object (%)</text>
<polyline points="71,594 71,555.63 111.8,555.63 111.8,594" stroke="#000" stroke-width="2" fill="none" stroke-linejoin="miter"/>
<polyline points="131.6,594.6 131.6,556.79 172.7,556.79 172.7,594.6" stroke="#008000" stroke-width="2" fill="none" stroke-linejoin="miter"/>
<polyline points="192.7,595.2 192.7,548.11 233.9,548.11 233.9,595.2" stroke="#0000ff" stroke-width="2" fill="none" stroke-linejoin="miter"/>
<line x1="91.4" y1="538.63" x2="91.4" y2="571.24" stroke="#000" stroke-width="1.9" />
<line x1="81.3" y1="538.63" x2="101.5" y2="538.63" stroke="#000" stroke-width="1.9" />
<line x1="81.3" y1="571.24" x2="101.5" y2="571.24" stroke="#000" stroke-width="1.9" />
<line x1="152.2" y1="547.53" x2="152.2" y2="564.88" stroke="#008000" stroke-width="1.9" />
<line x1="141.7" y1="547.53" x2="162.7" y2="547.53" stroke="#008000" stroke-width="1.9" />
<line x1="141.7" y1="564.88" x2="162.7" y2="564.88" stroke="#008000" stroke-width="1.9" />
<line x1="213.3" y1="537.58" x2="213.3" y2="559.21" stroke="#0000ff" stroke-width="1.9" />
<line x1="203.2" y1="537.58" x2="223.4" y2="537.58" stroke="#0000ff" stroke-width="1.9" />
<line x1="203.2" y1="559.21" x2="223.4" y2="559.21" stroke="#0000ff" stroke-width="1.9" />
<line x1="50.5" y1="594.6" x2="50.5" y2="454.2" stroke="#000" stroke-width="1.6" />
<line x1="46.5" y1="593.8" x2="50.5" y2="593.8" stroke="#000" stroke-width="1.6" />
<text transform="translate(45.7 597.38) scale(0.9 1)" x="0" y="0" font-size="11" font-weight="bold" text-anchor="end" fill="#231c1c" font-family='"Liberation Sans", sans-serif'>0</text>
<line x1="46.5" y1="570.67" x2="50.5" y2="570.67" stroke="#000" stroke-width="1.6" />
<text transform="translate(45.7 574.24) scale(0.9 1)" x="0" y="0" font-size="11" font-weight="bold" text-anchor="end" fill="#231c1c" font-family='"Liberation Sans", sans-serif'>20</text>
<line x1="46.5" y1="547.53" x2="50.5" y2="547.53" stroke="#000" stroke-width="1.6" />
<text transform="translate(45.7 551.11) scale(0.9 1)" x="0" y="0" font-size="11" font-weight="bold" text-anchor="end" fill="#231c1c" font-family='"Liberation Sans", sans-serif'>40</text>
<line x1="46.5" y1="524.4" x2="50.5" y2="524.4" stroke="#000" stroke-width="1.6" />
<text transform="translate(45.7 527.97) scale(0.9 1)" x="0" y="0" font-size="11" font-weight="bold" text-anchor="end" fill="#231c1c" font-family='"Liberation Sans", sans-serif'>60</text>
<line x1="46.5" y1="501.26" x2="50.5" y2="501.26" stroke="#000" stroke-width="1.6" />
<text transform="translate(45.7 504.84) scale(0.9 1)" x="0" y="0" font-size="11" font-weight="bold" text-anchor="end" fill="#231c1c" font-family='"Liberation Sans", sans-serif'>80</text>
<line x1="46.5" y1="478.13" x2="50.5" y2="478.13" stroke="#000" stroke-width="1.6" />
<text transform="translate(45.7 481.7) scale(0.9 1)" x="0" y="0" font-size="11" font-weight="bold" text-anchor="end" fill="#231c1c" font-family='"Liberation Sans", sans-serif'>100</text>
<line x1="46.5" y1="455" x2="50.5" y2="455" stroke="#000" stroke-width="1.6" />
<text transform="translate(45.7 458.57) scale(0.9 1)" x="0" y="0" font-size="11" font-weight="bold" text-anchor="end" fill="#231c1c" font-family='"Liberation Sans", sans-serif'>120</text>
<polyline points="49.7,593.8 130,594.4 190,595 254.7,595.6" stroke="#000" stroke-width="1.9" fill="none" />
<line x1="91.4" y1="594.5" x2="91.4" y2="598" stroke="#000" stroke-width="1.5" />
<line x1="152.2" y1="594.5" x2="152.2" y2="598" stroke="#000" stroke-width="1.5" />
<line x1="213.3" y1="594.5" x2="213.3" y2="598" stroke="#000" stroke-width="1.5" />
<circle cx="91.4" cy="478.13" r="3.74" fill="#000" stroke="none" stroke-width="0"/>
<circle cx="91.4" cy="532.49" r="3.74" fill="#000" stroke="none" stroke-width="0"/>
<circle cx="86.7" cy="547.53" r="3.74" fill="#000" stroke="none" stroke-width="0"/>
<circle cx="95.5" cy="547.53" r="3.74" fill="#000" stroke="none" stroke-width="0"/>
<circle cx="83.3" cy="593.8" r="3.74" fill="#000" stroke="none" stroke-width="0"/>
<circle cx="91.4" cy="593.8" r="3.74" fill="#000" stroke="none" stroke-width="0"/>
<circle cx="99.4" cy="593.8" r="3.74" fill="#000" stroke="none" stroke-width="0"/>
<rect x="148.53" y="527.93" width="7.34" height="7.34" fill="#008000"/>
<rect x="136.13" y="536.73" width="7.34" height="7.34" fill="#008000"/>
<rect x="160.83" y="535.93" width="7.34" height="7.34" fill="#008000"/>
<rect x="152.83" y="540.23" width="7.34" height="7.34" fill="#008000"/>
<rect x="144.53" y="543.83" width="7.34" height="7.34" fill="#008000"/>
<rect x="148.53" y="556.33" width="7.34" height="7.34" fill="#008000"/>
<rect x="144.53" y="590.13" width="7.34" height="7.34" fill="#008000"/>
<rect x="152.83" y="590.13" width="7.34" height="7.34" fill="#008000"/>
<path d="M205.52 512.95L212.48 512.95L209 519.95Z" fill="#0000ff" stroke="#0000ff" stroke-width="0.8" stroke-linejoin="round"/>
<path d="M214.32 512.95L221.28 512.95L217.8 519.95Z" fill="#0000ff" stroke="#0000ff" stroke-width="0.8" stroke-linejoin="round"/>
<path d="M209.82 527.05L216.78 527.05L213.3 534.05Z" fill="#0000ff" stroke="#0000ff" stroke-width="0.8" stroke-linejoin="round"/>
<path d="M214.02 531.55L220.98 531.55L217.5 538.55Z" fill="#0000ff" stroke="#0000ff" stroke-width="0.8" stroke-linejoin="round"/>
<path d="M205.52 540.35L212.48 540.35L209 547.35Z" fill="#0000ff" stroke="#0000ff" stroke-width="0.8" stroke-linejoin="round"/>
<path d="M209.82 551.15L216.78 551.15L213.3 558.15Z" fill="#0000ff" stroke="#0000ff" stroke-width="0.8" stroke-linejoin="round"/>
<path d="M205.52 589.85L212.48 589.85L209 596.85Z" fill="#0000ff" stroke="#0000ff" stroke-width="0.8" stroke-linejoin="round"/>
<path d="M214.32 589.85L221.28 589.85L217.8 596.85Z" fill="#0000ff" stroke="#0000ff" stroke-width="0.8" stroke-linejoin="round"/>
<line x1="90.9" y1="460.6" x2="149.6" y2="460.6" stroke="#000" stroke-width="1.6" />
<line x1="153.1" y1="460.6" x2="212.9" y2="460.6" stroke="#000" stroke-width="1.6" />
<text x="121.4" y="458" font-size="12" font-weight="normal" text-anchor="middle" fill="#333" font-family='"Liberation Sans", sans-serif' >ns</text>
<text x="183.1" y="458" font-size="12" font-weight="normal" text-anchor="middle" fill="#333" font-family='"Liberation Sans", sans-serif' >ns</text>
<text transform="translate(92.6 610.9) scale(1.06 1)" x="0" y="0" font-size="12.3" font-weight="normal" text-anchor="middle" fill="#333" font-family='"Liberation Sans", sans-serif'>3×Tg+</text>
<text transform="translate(92.6 625.8) scale(1.06 1)" x="0" y="0" font-size="12.3" font-weight="normal" text-anchor="middle" fill="#333" font-family='"Liberation Sans", sans-serif'>AAV-CON</text>
<text transform="translate(154.5 610.9) scale(1.06 1)" x="0" y="0" font-size="12.3" font-weight="normal" text-anchor="middle" fill="#333" font-family='"Liberation Sans", sans-serif'>3×Tg+</text>
<text transform="translate(154.5 625.8) scale(1.06 1)" x="0" y="0" font-size="12.3" font-weight="normal" text-anchor="middle" fill="#333" font-family='"Liberation Sans", sans-serif'>AAV-KD</text>
<text transform="translate(217.3 610.9) scale(1.06 1)" x="0" y="0" font-size="12.3" font-weight="normal" text-anchor="middle" fill="#333" font-family='"Liberation Sans", sans-serif'>3×Tg+</text>
<text transform="translate(217.3 625.8) scale(1.06 1)" x="0" y="0" font-size="12.3" font-weight="normal" text-anchor="middle" fill="#333" font-family='"Liberation Sans", sans-serif'>AAV-KD</text>
<text transform="translate(217.3 640.7) scale(1.06 1)" x="0" y="0" font-size="12.3" font-weight="normal" text-anchor="middle" fill="#333" font-family='"Liberation Sans", sans-serif'>+MF-2.5</text>
<text transform="translate(276.76 427.3) scale(0.92 1)" x="0" y="0" font-size="22.3" font-weight="bold" fill="#000" font-family='"Liberation Sans", sans-serif'>G</text>
<g>
<line x1="349.8" y1="463.9" x2="413.8" y2="463.9" stroke="#bcbcbc" stroke-width="0.7" stroke-dasharray="1.2 0.9"/>
<line x1="381.8" y1="431.9" x2="381.8" y2="495.9" stroke="#c4c4c4" stroke-width="0.7" stroke-dasharray="1.4 0.8"/>
<circle cx="381.8" cy="463.9" r="33" fill="none" stroke="#f06464" stroke-width="0.75"/>
<circle cx="394.4" cy="452.6" r="3.1" fill="none" stroke="#dc4040" stroke-width="0.8"/>
<path d="M350.6 455 C350.05 458.7 350.47 465.13 351.1 469.4 C351.73 473.67 352.73 477.27 354.4 480.6 C356.07 483.93 358.5 487 361.1 489.4 C363.7 491.8 366.67 493.73 370 495 C373.33 496.27 377.4 497 381.1 497 C384.8 497 388.68 496.27 392.2 495 C395.72 493.73 399.42 491.8 402.2 489.4 C404.98 487 407.23 483.93 408.9 480.6 C410.57 477.27 411.55 473.12 412.2 469.4 C412.85 465.68 413.17 462 412.8 458.3 C412.43 454.6 411.4 450.53 410 447.2 C408.6 443.87 406.8 440.7 404.4 438.3 C402 435.9 398.93 434 395.6 432.8 C392.27 431.6 388.12 431.1 384.4 431.1 C380.68 431.1 377 431.6 373.3 432.8 C369.6 434 365.35 435.9 362.2 438.3 C359.05 440.7 356.33 444.42 354.4 447.2 C352.47 449.98 351.15 451.3 350.6 455Z" fill="none" stroke="#4646b4" stroke-width="0.6" stroke-opacity="0.85"/>
<path d="M352 470 C352.57 471.67 353.73 476.93 355.4 480 C357.07 483.07 359.4 486.07 362 488.4 C364.6 490.73 367.82 492.77 371 494 C374.18 495.23 377.6 495.8 381.1 495.8 C384.6 495.8 388.6 495.2 392 494 C395.4 492.8 398.83 490.93 401.5 488.6 C404.17 486.27 406.38 483.2 408 480 C409.62 476.8 410.57 473.02 411.2 469.4 C411.83 465.78 411.7 460.15 411.8 458.3" fill="none" stroke="#4646b4" stroke-width="0.6" stroke-opacity="0.85"/>
<path d="M378.9 433.9 C378.43 435.2 376.28 438.92 376.1 441.7 C375.92 444.48 376.6 448.28 377.8 450.6 C379 452.92 380.9 454.5 383.3 455.6 C385.7 456.7 389.42 457.4 392.2 457.2 C394.98 457 398.23 456.07 400 454.4 C401.77 452.73 402.8 449.5 402.8 447.2 C402.8 444.9 401.4 442.63 400 440.6 C398.6 438.57 396.43 436.4 394.4 435 C392.37 433.6 388.9 432.67 387.8 432.2" fill="none" stroke="#4646b4" stroke-width="0.6" stroke-opacity="0.85"/>
<path d="M393.3 433.9 C394.78 435.57 399.92 440.88 402.2 443.9 C404.48 446.92 405.52 449.03 407 452 C408.48 454.97 410.42 460.08 411.1 461.7" fill="none" stroke="#4646b4" stroke-width="0.6" stroke-opacity="0.85"/>
<path d="M352.2 456.1 C352.95 456.85 354.85 459.4 356.7 460.6 C358.55 461.8 361.08 463.12 363.3 463.3 C365.52 463.48 368.15 462.15 370 461.7 C371.85 461.25 373.67 460.78 374.4 460.6" fill="none" stroke="#4646b4" stroke-width="0.6" stroke-opacity="0.85"/>
<path d="M381.7 463.9 C383.17 463.9 386.1 466.83 386.1 468.3 C386.1 469.77 383.17 472.7 381.7 472.7 C380.23 472.7 377.3 469.77 377.3 468.3 C377.3 466.83 380.23 463.9 381.7 463.9Z" fill="none" stroke="#4646b4" stroke-width="0.6" stroke-opacity="0.85"/>
<path d="M391.1 461.9 C391.93 461.9 393.6 463.57 393.6 464.4 C393.6 465.23 391.93 466.9 391.1 466.9 C390.27 466.9 388.6 465.23 388.6 464.4 C388.6 463.57 390.27 461.9 391.1 461.9Z" fill="none" stroke="#4646b4" stroke-width="0.6" stroke-opacity="0.85"/>
<path d="M396.7 465.9 C397.7 465.9 399.7 467.9 399.7 468.9 C399.7 469.9 397.7 471.9 396.7 471.9 C395.7 471.9 393.7 469.9 393.7 468.9 C393.7 467.9 395.7 465.9 396.7 465.9Z" fill="none" stroke="#4646b4" stroke-width="0.6" stroke-opacity="0.85"/>
<path d="M363.3 481.7 C364.92 481 369.72 478.87 373 477.5 C376.28 476.13 379.62 474.85 383 473.5 C386.38 472.15 391.58 470.08 393.3 469.4" fill="none" stroke="#4646b4" stroke-width="0.6" stroke-opacity="0.85"/>
<path d="M360 487.2 C360.37 484.62 361.08 475.58 362.2 471.7 C363.32 467.82 365.22 465.57 366.7 463.9 C368.18 462.23 370 460.78 371.1 461.7 C372.2 462.62 372.37 466.63 373.3 469.4 C374.23 472.17 374.85 475.52 376.7 478.3 C378.55 481.08 381.63 483.87 384.4 486.1 C387.17 488.33 391.82 490.77 393.3 491.7" fill="none" stroke="#4646b4" stroke-width="0.6" stroke-opacity="0.85"/>
<path d="M378.9 451.7 C379.45 452.62 380.9 455.53 382.2 457.2 C383.5 458.87 385.4 460.77 386.7 461.7 C388 462.63 389.45 462.62 390 462.8" fill="none" stroke="#4646b4" stroke-width="0.6" stroke-opacity="0.85"/>
</g>
<text x="382.6" y="516.4" font-size="12.5" font-weight="bold" text-anchor="middle" fill="#111" font-family='"Liberation Serif", serif' >3<tspan stroke="#111" stroke-width="0.9">×</tspan>Tg+VEH</text>
<g>
<line x1="304.3" y1="561" x2="368.7" y2="561" stroke="#bcbcbc" stroke-width="0.7" stroke-dasharray="1.2 0.9"/>
<line x1="336.5" y1="528.8" x2="336.5" y2="593.2" stroke="#c4c4c4" stroke-width="0.7" stroke-dasharray="1.4 0.8"/>
<circle cx="336.5" cy="561" r="33.2" fill="none" stroke="#f06464" stroke-width="0.75"/>
<circle cx="349.2" cy="551.1" r="3.1" fill="none" stroke="#dc4040" stroke-width="0.8"/>
<path d="M337.2 534.7 C336.72 534.07 331.98 532.55 329 532.3 C326.02 532.05 321.4 532.48 319.3 533.2 C317.2 533.92 316.4 535.55 316.4 536.6 C316.4 537.65 317.85 539.18 319.3 539.5 C320.75 539.82 323 539.07 325.1 538.5 C327.2 537.93 329.88 536.73 331.9 536.1 C333.92 535.47 337.68 535.33 337.2 534.7Z" fill="none" stroke="#4646b4" stroke-width="0.6" stroke-opacity="0.85"/>
<path d="M337.2 534.7 C337.93 535.82 340.22 539.63 341.6 541.4 C342.98 543.17 344.22 543.68 345.5 545.3 C346.78 546.92 348.67 550.13 349.3 551.1" fill="none" stroke="#4646b4" stroke-width="0.6" stroke-opacity="0.85"/>
<path d="M337.2 534.7 C338.58 534.62 343 534.05 345.5 534.2 C348 534.35 350.43 534.4 352.2 535.6 C353.97 536.8 355.13 539.13 356.1 541.4 C357.07 543.67 357.68 546.62 358 549.2 C358.32 551.78 358.15 554.32 358 556.9 C357.85 559.48 357.42 562.6 357.1 564.7 C356.78 566.8 356.83 568.13 356.1 569.5 C355.37 570.87 354.32 572.02 352.7 572.9 C351.08 573.78 348.73 574.32 346.4 574.8 C344.07 575.28 341.6 575.63 338.7 575.8 C335.8 575.97 331.9 575.8 329 575.8 C326.1 575.8 322.58 575.8 321.3 575.8" fill="none" stroke="#4646b4" stroke-width="0.6" stroke-opacity="0.85"/>
<path d="M337.2 534.7 C335.83 535.1 331.5 535.82 329 537.1 C326.5 538.38 324.13 540.23 322.2 542.4 C320.27 544.57 318.68 547.03 317.4 550.1 C316.12 553.17 314.98 557.4 314.5 560.8 C314.02 564.2 313.85 567.6 314.5 570.5 C315.15 573.4 316.63 576.27 318.4 578.2 C320.17 580.13 322.53 580.97 325.1 582.1 C327.67 583.23 331.22 584.68 333.8 585 C336.38 585.32 338.17 584.48 340.6 584 C343.03 583.52 346.13 583.38 348.4 582.1 C350.67 580.82 352.6 578.23 354.2 576.3 C355.8 574.37 357.03 572.6 358 570.5 C358.97 568.4 359.75 566.12 360 563.7 C360.25 561.28 359.58 557.28 359.5 556" fill="none" stroke="#4646b4" stroke-width="0.6" stroke-opacity="0.85"/>
<path d="M319.3 547.2 C318.02 549.13 313.05 555.25 311.6 558.8 C310.15 562.35 310.28 565.43 310.6 568.5 C310.92 571.57 311.72 574.78 313.5 577.2 C315.28 579.62 318.72 581.53 321.3 583 C323.88 584.47 326.42 585.27 329 586 C331.58 586.73 334.22 587.25 336.8 587.4 C339.38 587.55 341.93 587.47 344.5 586.9 C347.07 586.33 349.95 585.28 352.2 584 C354.45 582.72 356.38 581.3 358 579.2 C359.62 577.1 360.93 574.3 361.9 571.4 C362.87 568.5 363.63 565.02 363.8 561.8 C363.97 558.58 363.53 555.02 362.9 552.1 C362.27 549.18 361.3 546.57 360 544.3 C358.7 542.03 357.03 540.1 355.1 538.5 C353.17 536.9 350.75 535.52 348.4 534.7 C346.05 533.88 342.23 533.78 341 533.6" fill="none" stroke="#4646b4" stroke-width="0.6" stroke-opacity="0.85"/>
<path d="M337.7 583 C336.9 582.43 337.73 581.07 338.7 580.1 C339.67 579.13 341.57 578.17 343.5 577.2 C345.43 576.23 349 574.3 350.3 574.3 C351.6 574.3 351.62 575.9 351.3 577.2 C350.98 578.5 349.7 581.05 348.4 582.1 C347.1 583.15 345.28 583.35 343.5 583.5 C341.72 583.65 338.5 583.57 337.7 583Z" fill="none" stroke="#4646b4" stroke-width="0.6" stroke-opacity="0.85"/>
</g>
<text x="337.6" y="618.6" font-size="12.5" font-weight="bold" text-anchor="middle" fill="#111" font-family='"Liberation Serif", serif' >3<tspan stroke="#111" stroke-width="0.9">×</tspan>Tg+MF-1.5</text>
<g>
<line x1="403.4" y1="560.8" x2="465.8" y2="560.8" stroke="#bcbcbc" stroke-width="0.7" stroke-dasharray="3 1.2"/>
<line x1="434.6" y1="529.6" x2="434.6" y2="592" stroke="#c4c4c4" stroke-width="0.7" stroke-dasharray="1.4 0.8"/>
<circle cx="434.6" cy="560.8" r="32.2" fill="none" stroke="#f06464" stroke-width="0.75"/>
<circle cx="446.7" cy="549.8" r="3.1" fill="none" stroke="#dc4040" stroke-width="0.8"/>
<path d="M446.6 550 C447.67 550.83 450.7 553.1 453 555 C455.3 556.9 459.3 559.3 460.4 561.4 C461.5 563.5 461 566.13 459.6 567.6 C458.2 569.07 454.62 569.6 452 570.2 C449.38 570.8 445.73 570.4 443.9 571.2 C442.07 572 441.58 573.53 441 575 C440.42 576.47 440.93 578.33 440.4 580 C439.87 581.67 438.88 583.98 437.8 585 C436.72 586.02 435.85 586.23 433.9 586.1 C431.95 585.97 429.43 584.62 426.1 584.2 C422.77 583.78 415.93 583.7 413.9 583.6" fill="none" stroke="#4646b4" stroke-width="0.7" stroke-opacity="0.85"/>
</g>
<text x="441" y="618.6" font-size="12.5" font-weight="bold" text-anchor="middle" fill="#111" font-family='"Liberation Serif", serif' >3<tspan stroke="#111" stroke-width="0.9">×</tspan>Tg+MF-2.5</text>
<text transform="translate(494.63 427.4) scale(0.92 1)" x="0" y="0" font-size="22.3" font-weight="bold" fill="#000" font-family='"Liberation Sans", sans-serif'>H</text>
<text x="629.2" y="442.6" font-size="12.4" font-weight="normal" text-anchor="middle" fill="#333" font-family='"Liberation Sans", sans-serif' textLength="33" lengthAdjust="spacingAndGlyphs">MWM</text>
<text transform="translate(504.8 539) rotate(-90)" x="0" y="3.88" font-size="11.1" font-weight="normal" text-anchor="middle" fill="#333" font-family='"Liberation Sans", sans-serif'>Latency(s)</text>
<line x1="536.5" y1="607.4" x2="536.5" y2="471.1" stroke="#000" stroke-width="1.6" />
<line x1="532.5" y1="607" x2="536.5" y2="607" stroke="#000" stroke-width="1.6" />
<text transform="translate(531.7 610.58) scale(0.9 1)" x="0" y="0" font-size="11" font-weight="bold" text-anchor="end" fill="#231c1c" font-family='"Liberation Sans", sans-serif'>0</text>
<line x1="532.5" y1="579.98" x2="536.5" y2="579.98" stroke="#000" stroke-width="1.6" />
<text transform="translate(531.7 583.56) scale(0.9 1)" x="0" y="0" font-size="11" font-weight="bold" text-anchor="end" fill="#231c1c" font-family='"Liberation Sans", sans-serif'>20</text>
<line x1="532.5" y1="552.96" x2="536.5" y2="552.96" stroke="#000" stroke-width="1.6" />
<text transform="translate(531.7 556.54) scale(0.9 1)" x="0" y="0" font-size="11" font-weight="bold" text-anchor="end" fill="#231c1c" font-family='"Liberation Sans", sans-serif'>40</text>
<line x1="532.5" y1="525.94" x2="536.5" y2="525.94" stroke="#000" stroke-width="1.6" />
<text transform="translate(531.7 529.52) scale(0.9 1)" x="0" y="0" font-size="11" font-weight="bold" text-anchor="end" fill="#231c1c" font-family='"Liberation Sans", sans-serif'>60</text>
<line x1="532.5" y1="498.92" x2="536.5" y2="498.92" stroke="#000" stroke-width="1.6" />
<text transform="translate(531.7 502.5) scale(0.9 1)" x="0" y="0" font-size="11" font-weight="bold" text-anchor="end" fill="#231c1c" font-family='"Liberation Sans", sans-serif'>80</text>
<line x1="532.5" y1="471.9" x2="536.5" y2="471.9" stroke="#000" stroke-width="1.6" />
<text transform="translate(531.7 475.47) scale(0.9 1)" x="0" y="0" font-size="11" font-weight="bold" text-anchor="end" fill="#231c1c" font-family='"Liberation Sans", sans-serif'>100</text>
<line x1="535.7" y1="606.4" x2="746" y2="606.4" stroke="#000" stroke-width="1.9" />
<line x1="562.9" y1="606.4" x2="562.9" y2="610" stroke="#000" stroke-width="1.5" />
<line x1="602" y1="606.4" x2="602" y2="610" stroke="#000" stroke-width="1.5" />
<line x1="641.1" y1="606.4" x2="641.1" y2="610" stroke="#000" stroke-width="1.5" />
<line x1="680.2" y1="606.4" x2="680.2" y2="610" stroke="#000" stroke-width="1.5" />
<line x1="719.3" y1="606.4" x2="719.3" y2="610" stroke="#000" stroke-width="1.5" />
<text transform="translate(561.9 619.4) rotate(-50)" x="0" y="3.64" font-size="10.4" font-weight="bold" text-anchor="middle" fill="#231c1c" font-family='"Liberation Sans", sans-serif'>1</text>
<text transform="translate(601 619.4) rotate(-50)" x="0" y="3.64" font-size="10.4" font-weight="bold" text-anchor="middle" fill="#231c1c" font-family='"Liberation Sans", sans-serif'>2</text>
<text transform="translate(640.1 619.4) rotate(-50)" x="0" y="3.64" font-size="10.4" font-weight="bold" text-anchor="middle" fill="#231c1c" font-family='"Liberation Sans", sans-serif'>3</text>
<text transform="translate(679.2 619.4) rotate(-50)" x="0" y="3.64" font-size="10.4" font-weight="bold" text-anchor="middle" fill="#231c1c" font-family='"Liberation Sans", sans-serif'>4</text>
<text transform="translate(718.3 619.4) rotate(-50)" x="0" y="3.64" font-size="10.4" font-weight="bold" text-anchor="middle" fill="#231c1c" font-family='"Liberation Sans", sans-serif'>5</text>
<text x="641.3" y="637" font-size="11.2" font-weight="normal" text-anchor="middle" fill="#333" font-family='"Liberation Sans", sans-serif' >Days</text>
<line x1="719.3" y1="485.2" x2="719.3" y2="589.8" stroke="#000" stroke-width="1.8" />
<line x1="716.3" y1="485.2" x2="722.3" y2="485.2" stroke="#000" stroke-width="1.8" />
<line x1="716.3" y1="589.8" x2="722.3" y2="589.8" stroke="#000" stroke-width="1.8" />
<line x1="641.1" y1="485.4" x2="641.1" y2="591.2" stroke="#a000e0" stroke-width="1.8" />
<line x1="638.1" y1="591.2" x2="644.1" y2="591.2" stroke="#a000e0" stroke-width="1.8" />
<line x1="680.2" y1="564.8" x2="680.2" y2="586" stroke="#a000e0" stroke-width="1.8" />
<line x1="677.2" y1="564.8" x2="683.2" y2="564.8" stroke="#a000e0" stroke-width="1.8" />
<line x1="677.2" y1="586" x2="683.2" y2="586" stroke="#a000e0" stroke-width="1.8" />
<line x1="719.3" y1="550" x2="719.3" y2="600.3" stroke="#a000e0" stroke-width="1.8" />
<line x1="716.3" y1="550" x2="722.3" y2="550" stroke="#a000e0" stroke-width="1.8" />
<line x1="716.3" y1="600.3" x2="722.3" y2="600.3" stroke="#a000e0" stroke-width="1.8" />
<line x1="602" y1="485.4" x2="602" y2="599" stroke="#0000ff" stroke-width="1.8" />
<line x1="599" y1="599" x2="605" y2="599" stroke="#0000ff" stroke-width="1.8" />
<line x1="641.1" y1="511.2" x2="641.1" y2="595.5" stroke="#0000ff" stroke-width="1.8" />
<line x1="638.1" y1="511.2" x2="644.1" y2="511.2" stroke="#0000ff" stroke-width="1.8" />
<line x1="638.1" y1="595.5" x2="644.1" y2="595.5" stroke="#0000ff" stroke-width="1.8" />
<line x1="680.2" y1="485.4" x2="680.2" y2="598.7" stroke="#0000ff" stroke-width="1.8" />
<line x1="677.2" y1="598.7" x2="683.2" y2="598.7" stroke="#0000ff" stroke-width="1.8" />
<line x1="719.3" y1="534.3" x2="719.3" y2="599.9" stroke="#0000ff" stroke-width="1.8" />
<line x1="716.3" y1="534.3" x2="722.3" y2="534.3" stroke="#0000ff" stroke-width="1.8" />
<line x1="716.3" y1="599.9" x2="722.3" y2="599.9" stroke="#0000ff" stroke-width="1.8" />
<polyline points="562.9,485.41 602,486.76 641.1,567.15 680.2,567.55 719.3,582.82" stroke="#a000e0" stroke-width="2.2" fill="none" />
<path d="M559.65 482.09L566.15 482.09L562.9 488.63Z" fill="#a000e0" stroke="#a000e0" stroke-width="0.8" stroke-linejoin="round"/>
<path d="M598.75 483.44L605.25 483.44L602 489.98Z" fill="#a000e0" stroke="#a000e0" stroke-width="0.8" stroke-linejoin="round"/>
<path d="M637.85 563.82L644.35 563.82L641.1 570.37Z" fill="#a000e0" stroke="#a000e0" stroke-width="0.8" stroke-linejoin="round"/>
<path d="M676.95 564.23L683.45 564.23L680.2 570.77Z" fill="#a000e0" stroke="#a000e0" stroke-width="0.8" stroke-linejoin="round"/>
<path d="M716.05 579.5L722.55 579.5L719.3 586.04Z" fill="#a000e0" stroke="#a000e0" stroke-width="0.8" stroke-linejoin="round"/>
<polyline points="562.9,485.41 602,485.41 641.1,485.41 680.2,485.41 719.3,516.48" stroke="#000" stroke-width="2.2" fill="none" />
<circle cx="562.9" cy="485.41" r="3.52" fill="#000" stroke="none" stroke-width="0"/>
<circle cx="602" cy="485.41" r="3.52" fill="#000" stroke="none" stroke-width="0"/>
<circle cx="641.1" cy="485.41" r="3.52" fill="#000" stroke="none" stroke-width="0"/>
<circle cx="680.2" cy="485.41" r="3.52" fill="#000" stroke="none" stroke-width="0"/>
<circle cx="719.3" cy="516.48" r="3.52" fill="#000" stroke="none" stroke-width="0"/>
<polyline points="562.9,485.41 602,542.15 641.1,566.47 680.2,575.66 719.3,585.52" stroke="#0000ff" stroke-width="2.2" fill="none" />
<circle cx="562.9" cy="485.41" r="3.52" fill="#0000ff" stroke="none" stroke-width="0"/>
<circle cx="602" cy="542.15" r="3.52" fill="#0000ff" stroke="none" stroke-width="0"/>
<circle cx="641.1" cy="566.47" r="3.52" fill="#0000ff" stroke="none" stroke-width="0"/>
<circle cx="680.2" cy="575.66" r="3.52" fill="#0000ff" stroke="none" stroke-width="0"/>
<circle cx="719.3" cy="585.52" r="3.52" fill="#0000ff" stroke="none" stroke-width="0"/>
<polyline points="726.1,516.9 733.7,516.9 733.7,582.3 726.1,582.3" stroke="#000" stroke-width="2" fill="none" />
<polyline points="744.7,516.9 751.2,516.9 751.2,586.6 744.7,586.6" stroke="#000" stroke-width="2" fill="none" />
<text x="740.4" y="556.4" font-size="12" font-weight="normal" text-anchor="middle" fill="#222" font-family='"Liberation Sans", sans-serif' >**</text>
<text x="759.2" y="558.6" font-size="12" font-weight="normal" text-anchor="middle" fill="#222" font-family='"Liberation Sans", sans-serif' >**</text>
<line x1="666.4" y1="435.1" x2="681.5" y2="435.1" stroke="#000" stroke-width="2" />
<circle cx="673.9" cy="435.1" r="3.08" fill="#000" stroke="none" stroke-width="0"/>
<text x="689.4" y="438.8" font-size="10.6" font-weight="normal" text-anchor="start" fill="#333" font-family='"Liberation Sans", sans-serif' >3xTg+VEH</text>
<line x1="666.4" y1="451.3" x2="681.5" y2="451.3" stroke="#a000e0" stroke-width="2" />
<path d="M671.11 448.44L676.69 448.44L673.9 454.06Z" fill="#a000e0" stroke="#a000e0" stroke-width="0.8" stroke-linejoin="round"/>
<text x="689.4" y="455" font-size="10.6" font-weight="normal" text-anchor="start" fill="#333" font-family='"Liberation Sans", sans-serif' >3xTg+MF-1.5</text>
<line x1="666.4" y1="470.3" x2="681.5" y2="470.3" stroke="#0000ff" stroke-width="2" />
<circle cx="673.9" cy="470.3" r="3.08" fill="#0000ff" stroke="none" stroke-width="0"/>
<text x="689.4" y="474" font-size="10.6" font-weight="normal" text-anchor="start" fill="#333" font-family='"Liberation Sans", sans-serif' >3xTg+MF-2.5</text>
<text transform="translate(5.13 667.9) scale(0.92 1)" x="0" y="0" font-size="22.3" font-weight="bold" fill="#000" font-family='"Liberation Sans", sans-serif'>I</text>
<g>
<line x1="85.4" y1="695.1" x2="150.2" y2="695.1" stroke="#bcbcbc" stroke-width="0.7" stroke-dasharray="1.2 0.9"/>
<line x1="117.8" y1="662.7" x2="117.8" y2="727.5" stroke="#c4c4c4" stroke-width="0.7" stroke-dasharray="1.4 0.8"/>
<circle cx="117.8" cy="695.1" r="33.4" fill="none" stroke="#f06464" stroke-width="0.75"/>
<circle cx="130.4" cy="685.1" r="3.1" fill="none" stroke="#dc4040" stroke-width="0.8"/>
<path d="M117.8 662.93 C118.92 663.02 122.3 663.13 124.52 663.5 C126.74 663.88 129.08 664.26 131.12 665.19 C133.15 666.12 134.95 667.67 136.72 669.06 C138.49 670.45 140.25 671.88 141.76 673.53 C143.27 675.17 144.75 676.98 145.8 678.93 C146.86 680.89 147.42 683.12 148.09 685.26 C148.77 687.39 149.55 689.52 149.87 691.73 C150.19 693.93 150.19 696.25 150.01 698.49 C149.83 700.73 149.58 703.09 148.79 705.17 C148 707.25 146.49 709.08 145.29 710.97 C144.09 712.86 143.05 714.87 141.58 716.51 C140.1 718.14 138.21 719.38 136.46 720.78 C134.7 722.17 133.05 723.87 131.06 724.88 C129.08 725.9 126.76 726.54 124.55 726.85 C122.34 727.17 120.06 726.72 117.8 726.78 C115.54 726.84 113.2 727.48 110.98 727.19 C108.76 726.91 106.5 726.03 104.46 725.05 C102.42 724.08 100.53 722.71 98.75 721.33 C96.96 719.94 95.16 718.48 93.74 716.76 C92.33 715.04 91.25 712.99 90.24 711.01 C89.24 709.03 88.46 706.97 87.7 704.88 C86.95 702.79 85.95 700.65 85.71 698.47 C85.47 696.29 85.97 693.99 86.27 691.79 C86.57 689.58 86.85 687.36 87.5 685.26 C88.15 683.15 89.03 681.03 90.16 679.14 C91.28 677.25 92.81 675.59 94.27 673.91 C95.72 672.23 97.14 670.42 98.88 669.06 C100.62 667.69 103.75 666.28 104.72 665.72" fill="none" stroke="#4646b4" stroke-width="0.6" stroke-opacity="0.9"/>
<path d="M141.38 673.11 C142 674.04 143.99 676.77 145.1 678.69 C146.22 680.62 147.34 682.59 148.06 684.68 C148.77 686.77 149.12 689.02 149.39 691.22 C149.67 693.42 149.9 695.7 149.7 697.89 C149.5 700.09 148.91 702.31 148.19 704.39 C147.47 706.48 146.39 708.4 145.41 710.4 C144.42 712.4 143.62 714.61 142.27 716.38 C140.93 718.14 139.12 719.67 137.31 721 C135.51 722.32 133.47 723.43 131.42 724.32 C129.38 725.21 127.2 725.96 125.02 726.36 C122.84 726.76 120.56 726.76 118.35 726.7 C116.15 726.65 113.94 726.45 111.79 726.03 C109.64 725.6 107.45 725.05 105.46 724.17 C103.47 723.29 101.7 721.94 99.84 720.75 C97.98 719.56 95.82 718.58 94.29 717.03 C92.75 715.47 91.78 713.34 90.62 711.43 C89.46 709.53 88.02 707.68 87.31 705.6 C86.6 703.52 86.64 701.18 86.34 698.96 C86.05 696.74 85.44 694.49 85.54 692.28 C85.65 690.06 86.14 687.72 86.96 685.67 C87.79 683.62 89.31 681.83 90.49 679.96 C91.67 678.09 92.73 676.23 94.04 674.45 C95.35 672.67 96.63 670.65 98.35 669.29 C100.07 667.93 102.34 667.25 104.36 666.28 C106.39 665.32 108.36 664 110.51 663.52 C112.66 663.04 115.04 663.26 117.25 663.4 C119.46 663.54 121.6 663.98 123.78 664.36 C125.95 664.74 129.21 665.44 130.3 665.66" fill="none" stroke="#4646b4" stroke-width="0.6" stroke-opacity="0.9"/>
<path d="M149.49 697.32 C149.2 698.38 148.47 701.64 147.75 703.69 C147.02 705.74 146.12 707.71 145.11 709.62 C144.11 711.54 142.99 713.39 141.72 715.17 C140.45 716.95 139.16 718.9 137.49 720.31 C135.83 721.72 133.75 722.82 131.71 723.63 C129.68 724.43 127.43 724.72 125.29 725.15 C123.15 725.58 121.03 726.13 118.89 726.21 C116.74 726.28 114.54 725.99 112.43 725.58 C110.32 725.17 108.29 724.44 106.22 723.75 C104.16 723.06 101.82 722.63 100.03 721.45 C98.23 720.27 96.96 718.27 95.47 716.66 C93.98 715.05 92.28 713.6 91.09 711.79 C89.9 709.99 89 707.89 88.33 705.83 C87.65 703.77 87.4 701.58 87.04 699.42 C86.69 697.27 86.01 695.03 86.17 692.89 C86.33 690.74 87.39 688.66 88.01 686.56 C88.64 684.46 88.89 682.16 89.9 680.26 C90.91 678.37 92.64 676.84 94.08 675.19 C95.51 673.55 96.83 671.75 98.51 670.41 C100.19 669.07 102.21 668.08 104.17 667.16 C106.13 666.24 108.18 665.55 110.26 664.87 C112.35 664.2 114.51 663.3 116.68 663.12 C118.86 662.94 121.19 663.28 123.32 663.79 C125.45 664.3 127.43 665.37 129.49 666.18 C131.54 666.99 133.86 667.44 135.63 668.66 C137.41 669.88 138.71 671.87 140.16 673.51 C141.61 675.15 143.08 676.73 144.35 678.51 C145.61 680.29 147.17 683.26 147.73 684.2" fill="none" stroke="#4646b4" stroke-width="0.6" stroke-opacity="0.9"/>
<path d="M138.19 720.28 C137.19 720.8 134.2 722.3 132.21 723.39 C130.23 724.48 128.42 726.21 126.29 726.8 C124.17 727.39 121.72 726.97 119.47 726.94 C117.22 726.92 115.03 726.89 112.8 726.65 C110.58 726.41 108.21 726.28 106.13 725.5 C104.06 724.71 102.18 723.26 100.36 721.96 C98.53 720.66 96.71 719.31 95.18 717.72 C93.66 716.12 92.37 714.25 91.2 712.37 C90.03 710.5 89.06 708.51 88.17 706.47 C87.28 704.44 86.24 702.33 85.87 700.16 C85.49 697.98 85.81 695.67 85.92 693.43 C86.04 691.19 86 688.88 86.55 686.73 C87.1 684.58 88.18 682.52 89.22 680.54 C90.26 678.56 91.47 676.67 92.8 674.85 C94.12 673.03 95.44 671.03 97.17 669.62 C98.9 668.21 101.13 667.36 103.18 666.4 C105.22 665.44 107.28 664.54 109.43 663.88 C111.59 663.23 113.87 662.51 116.09 662.47 C118.31 662.43 120.6 663.15 122.78 663.64 C124.97 664.13 127.06 664.73 129.2 665.4 C131.34 666.07 133.68 666.55 135.62 667.66 C137.56 668.76 139.37 670.36 140.86 672.04 C142.35 673.71 143.47 675.77 144.58 677.71 C145.69 679.65 146.65 681.63 147.54 683.68 C148.43 685.73 149.42 687.82 149.92 690.01 C150.41 692.2 150.74 694.59 150.52 696.81 C150.29 699.04 149.17 701.15 148.58 703.35 C147.99 705.54 147.26 708.87 147 709.98" fill="none" stroke="#4646b4" stroke-width="0.6" stroke-opacity="0.9"/>
<path d="M113.31 727.08 C112.23 726.75 108.92 725.97 106.87 725.13 C104.82 724.28 102.79 723.26 100.98 722.01 C99.17 720.77 97.54 719.22 96.02 717.65 C94.5 716.08 93.25 714.33 91.87 712.59 C90.5 710.85 88.62 709.23 87.77 707.23 C86.92 705.23 87.1 702.78 86.76 700.57 C86.43 698.36 85.67 696.16 85.74 693.98 C85.82 691.8 86.68 689.64 87.2 687.47 C87.72 685.3 87.94 682.98 88.84 680.98 C89.75 678.97 91.18 677.11 92.63 675.43 C94.07 673.75 95.76 672.26 97.5 670.91 C99.24 669.56 101.13 668.45 103.04 667.34 C104.95 666.23 106.86 664.83 108.95 664.25 C111.05 663.67 113.41 663.92 115.62 663.86 C117.82 663.81 120 663.69 122.18 663.9 C124.37 664.11 126.59 664.48 128.71 665.12 C130.83 665.76 133.01 666.58 134.89 667.75 C136.77 668.91 138.49 670.49 140.01 672.1 C141.52 673.72 142.67 675.63 143.97 677.45 C145.26 679.26 146.97 680.96 147.78 682.99 C148.58 685.02 148.59 687.43 148.8 689.63 C149 691.83 149.09 694.01 149.03 696.19 C148.97 698.37 148.86 700.59 148.42 702.73 C147.97 704.87 147.34 707.09 146.35 709.02 C145.36 710.96 143.86 712.68 142.47 714.37 C141.08 716.06 139.64 717.74 138.01 719.19 C136.38 720.63 134.57 721.97 132.67 723.07 C130.77 724.16 127.61 725.33 126.6 725.78" fill="none" stroke="#4646b4" stroke-width="0.6" stroke-opacity="0.9"/>
<path d="M92.42 712.87 C91.85 711.95 90.01 709.26 89.02 707.32 C88.03 705.37 87.02 703.32 86.49 701.19 C85.95 699.06 85.71 696.74 85.8 694.54 C85.88 692.34 86.44 690.12 86.99 687.99 C87.54 685.85 88.17 683.7 89.11 681.72 C90.04 679.74 91.23 677.79 92.62 676.12 C94.01 674.46 95.76 673.04 97.46 671.71 C99.17 670.37 100.95 669.12 102.83 668.1 C104.72 667.08 106.75 666.4 108.78 665.6 C110.81 664.8 112.87 663.62 115.02 663.3 C117.16 662.98 119.46 663.41 121.66 663.67 C123.86 663.92 126.21 664.03 128.21 664.86 C130.22 665.69 131.84 667.46 133.69 668.65 C135.55 669.84 137.71 670.59 139.35 671.99 C140.99 673.4 142.25 675.3 143.53 677.09 C144.8 678.87 146.17 680.7 146.99 682.71 C147.8 684.72 147.97 686.99 148.44 689.14 C148.91 691.3 149.91 693.51 149.82 695.66 C149.74 697.81 148.51 699.93 147.93 702.06 C147.34 704.18 147.13 706.38 146.33 708.41 C145.54 710.43 144.39 712.39 143.13 714.19 C141.86 715.98 140.39 717.74 138.74 719.18 C137.08 720.63 135.12 721.8 133.18 722.84 C131.23 723.87 129.16 724.74 127.06 725.39 C124.96 726.04 122.76 726.53 120.57 726.76 C118.38 726.99 116.07 727.14 113.91 726.79 C111.75 726.44 109.69 725.41 107.63 724.65 C105.56 723.89 102.52 722.63 101.5 722.23" fill="none" stroke="#4646b4" stroke-width="0.6" stroke-opacity="0.9"/>
<path d="M93.6 683.2 C94.12 683.63 95.13 685.97 96.7 685.8 C98.27 685.63 100.9 682.88 103 682.2 C105.1 681.52 107.2 681.18 109.3 681.7 C111.4 682.22 113.87 683.82 115.6 685.3 C117.33 686.78 118.92 688.85 119.7 690.6 C120.48 692.35 119.25 694.23 120.3 695.8 C121.35 697.37 124 698.27 126 700 C128 701.73 130.9 704.12 132.3 706.2 C133.7 708.28 134.75 710.4 134.4 712.5 C134.05 714.6 131.77 716.88 130.2 718.8 C128.63 720.72 125.87 723.13 125 724" fill="none" stroke="#4646b4" stroke-width="0.6" stroke-opacity="0.9"/>
<path d="M90 702 C90.58 702.42 92.58 703.75 93.5 704.5 C94.42 705.25 95.42 705.75 95.5 706.5 C95.58 707.25 94.75 708.92 94 709 C93.25 709.08 91.83 706.5 91 707 C90.17 707.5 89.33 711.17 89 712" fill="none" stroke="#4646b4" stroke-width="0.6" stroke-opacity="0.9"/>
<path d="M134 666 C135 666.5 138.17 668 140 669 C141.83 670 143.67 670.5 145 672 C146.33 673.5 147.33 676 148 678 C148.67 680 148.83 683 149 684" fill="none" stroke="#4646b4" stroke-width="0.6" stroke-opacity="0.9"/>
<path d="M90 680 C90.67 679.5 93 678.17 94 677 C95 675.83 95.83 674.33 96 673 C96.17 671.67 95.67 669.17 95 669 C94.33 668.83 92.5 671.5 92 672" fill="none" stroke="#4646b4" stroke-width="0.6" stroke-opacity="0.9"/>
<path d="M140 712 C140.67 711.33 142.83 709.5 144 708 C145.17 706.5 146.17 704.83 147 703 C147.83 701.17 148.67 698 149 697" fill="none" stroke="#4646b4" stroke-width="0.6" stroke-opacity="0.9"/>
</g>
<text x="119" y="748" font-size="13" font-weight="bold" text-anchor="middle" fill="#111" font-family='"Liberation Serif", serif' >3<tspan stroke="#111" stroke-width="0.9">×</tspan>Tg+VEH</text>
<g>
<line x1="38.4" y1="790.6" x2="104" y2="790.6" stroke="#bcbcbc" stroke-width="0.7" stroke-dasharray="1.2 0.9"/>
<line x1="71.2" y1="757.8" x2="71.2" y2="823.4" stroke="#c4c4c4" stroke-width="0.7" stroke-dasharray="1.4 0.8"/>
<circle cx="71.2" cy="790.6" r="33.8" fill="none" stroke="#f06464" stroke-width="0.75"/>
<circle cx="83.3" cy="780" r="3.1" fill="none" stroke="#dc4040" stroke-width="0.8"/>
<path d="M42.25 785.49 C42.58 784.25 43.25 780.39 44.26 778.04 C45.28 775.69 46.72 773.44 48.32 771.4 C49.92 769.36 51.72 767.26 53.84 765.81 C55.96 764.35 58.58 763.56 61.04 762.68 C63.49 761.79 66.07 760.41 68.57 760.5 C71.07 760.6 73.55 762.59 76.03 763.23 C78.51 763.87 81.01 763.64 83.45 764.34 C85.88 765.04 88.67 765.85 90.66 767.41 C92.64 768.97 94.56 772.65 95.34 773.7" fill="none" stroke="#4646b4" stroke-width="0.5" stroke-opacity="0.85"/>
<path d="M77.72 780.12 C76.89 779.78 74.26 778.97 72.72 778.07 C71.17 777.17 69.8 775.93 68.46 774.73 C67.13 773.53 65.84 772.24 64.69 770.85 C63.55 769.47 62.45 766.34 61.57 766.44 C60.7 766.53 60.39 769.89 59.45 771.41 C58.52 772.93 57.07 774.13 55.98 775.56 C54.88 776.98 53.92 778.52 52.87 779.98 C51.82 781.45 50.56 782.79 49.67 784.34 C48.78 785.9 47.97 787.58 47.52 789.31 C47.07 791.03 46.85 792.91 46.97 794.69 C47.1 796.46 47.55 799.82 48.26 799.94 C48.97 800.06 49.97 796.65 51.23 795.42 C52.5 794.19 54.16 793.06 55.83 792.57 C57.5 792.08 60.32 791.58 61.24 792.47 C62.16 793.35 62.16 796.63 61.34 797.87 C60.53 799.12 58.07 799.64 56.34 799.93 C54.61 800.21 52.42 800.33 50.94 799.58 C49.47 798.83 48.37 796.96 47.5 795.41 C46.63 793.86 46.24 792.03 45.72 790.3 C45.19 788.58 44.13 785.16 44.35 785.07 C44.58 784.98 45.82 788.55 47.07 789.74 C48.33 790.94 50.55 792.56 51.87 792.24 C53.19 791.92 54.44 789.47 55.02 787.84 C55.59 786.21 55.73 784.13 55.34 782.44 C54.95 780.76 53.91 778.98 52.7 777.73 C51.48 776.47 47.95 775.54 48.07 774.93 C48.18 774.32 51.62 774.09 53.4 774.06 C55.19 774.02 57.06 774.23 58.77 774.73 C60.47 775.24 62.09 776.17 63.64 777.09 C65.19 778 66.62 779.11 68.05 780.21 C69.48 781.3 70.76 782.61 72.22 783.66 C73.68 784.71 75.14 785.95 76.8 786.53 C78.46 787.11 80.47 787.43 82.18 787.13 C83.88 786.83 85.31 785.16 87.02 784.72 C88.72 784.29 90.63 784.72 92.42 784.54 C94.21 784.36 97.74 783.56 97.76 783.65 C97.78 783.74 94.26 784.55 92.54 785.08 C90.82 785.6 89.06 786.09 87.42 786.82 C85.78 787.56 83.5 789.04 82.71 789.48" fill="none" stroke="#4646b4" stroke-width="0.5" stroke-opacity="0.85"/>
<path d="M85.3 771.3 C85.3 770.39 85.88 766.08 85.33 765.89 C84.78 765.7 82.81 768.58 82 770.15 C81.19 771.73 80.89 773.59 80.45 775.33 C80.01 777.08 79.68 778.86 79.35 780.63 C79.02 782.4 79.13 784.33 78.47 785.96 C77.81 787.59 76.74 789.95 75.37 790.4 C74 790.85 71.3 789.84 70.25 788.68 C69.19 787.52 68.43 784.7 69.03 783.41 C69.63 782.12 72.79 780.49 73.84 780.95 C74.89 781.41 75.36 784.43 75.32 786.15 C75.28 787.87 74.28 789.61 73.61 791.28 C72.93 792.95 72.35 794.76 71.27 796.15 C70.19 797.55 68.13 798.21 67.13 799.64 C66.12 801.06 65.49 802.96 65.24 804.7 C64.99 806.44 65.78 808.32 65.62 810.1 C65.46 811.87 63.79 815.02 64.27 815.33 C64.74 815.64 66.9 812.69 68.48 811.94 C70.07 811.2 72 811.05 73.78 810.86 C75.56 810.68 77.42 810.56 79.19 810.81 C80.95 811.06 84.16 812.73 84.37 812.36 C84.58 812 82.01 809.31 80.45 808.63 C78.9 807.96 76.43 807.61 75.06 808.32 C73.68 809.03 72.13 811.41 72.18 812.9 C72.23 814.39 74.85 817.45 75.36 817.28 C75.86 817.11 75.33 813.67 75.23 811.87 C75.13 810.07 74.64 808.26 74.78 806.48 C74.92 804.71 75.42 802.89 76.08 801.23 C76.75 799.58 77.65 797.92 78.77 796.54 C79.89 795.16 81.26 793.67 82.83 792.96 C84.4 792.26 86.68 791.79 88.2 792.33 C89.72 792.88 91.38 794.67 91.97 796.21 C92.55 797.76 92.21 799.94 91.71 801.62 C91.22 803.29 90.22 805.94 88.97 806.28 C87.73 806.61 84.81 804.93 84.26 803.62 C83.72 802.31 84.95 800.02 85.71 798.41 C86.48 796.81 87.72 795.41 88.85 794.01 C89.98 792.61 91.19 791.25 92.47 789.99 C93.74 788.72 96.63 787.46 96.52 786.41 C96.42 785.36 92.62 784.16 91.83 783.71" fill="none" stroke="#4646b4" stroke-width="0.5" stroke-opacity="0.85"/>
<path d="M75.87 789.84 C76.68 790.23 79.1 792.16 80.73 792.2 C82.37 792.24 84.31 791.12 85.7 790.07 C87.1 789.02 87.85 787.14 89.13 785.88 C90.4 784.62 91.75 783.08 93.35 782.5 C94.96 781.93 98.71 782.71 98.76 782.42 C98.8 782.13 95.15 781.63 93.61 780.76 C92.07 779.89 90.42 778.68 89.53 777.22 C88.63 775.75 88.09 773.65 88.25 771.96 C88.42 770.26 90.38 767 90.51 767.05 C90.65 767.1 90.2 771.34 89.06 772.26 C87.92 773.17 85.09 771.75 83.66 772.53 C82.23 773.3 81.51 775.42 80.48 776.9 C79.44 778.37 78.83 780.4 77.46 781.38 C76.09 782.37 73.73 781.91 72.24 782.8 C70.76 783.7 69.09 785.2 68.55 786.76 C68.01 788.31 68.55 790.43 69 792.15 C69.45 793.86 70.29 795.55 71.26 797.06 C72.22 798.56 73.3 800.32 74.77 801.17 C76.24 802.03 78.34 802.31 80.08 802.19 C81.82 802.06 83.46 800.9 85.19 800.42 C86.93 799.94 88.71 799.38 90.49 799.33 C92.26 799.27 95.11 800.84 95.84 800.08 C96.58 799.32 94.43 796.29 94.89 794.75 C95.36 793.22 98.92 791.55 98.65 790.86 C98.37 790.17 95.03 790.82 93.25 790.61 C91.46 790.4 89.64 790.15 87.93 789.6 C86.23 789.04 84.66 788.09 83.04 787.29 C81.43 786.49 79.3 786.08 78.24 784.79 C77.19 783.51 76.55 781.27 76.71 779.61 C76.87 777.95 78.26 776.34 79.2 774.81 C80.15 773.28 81.14 771.73 82.37 770.43 C83.59 769.13 86.6 767.06 86.56 767.01 C86.52 766.96 83.06 768.73 82.14 770.13 C81.22 771.53 80.52 773.98 81.05 775.43 C81.57 776.87 83.76 778.62 85.28 778.8 C86.79 778.97 88.59 777.35 90.15 776.45 C91.71 775.56 94.8 773.88 94.65 773.45 C94.5 773.03 91.01 774.11 89.26 773.91 C87.5 773.7 84.97 772.51 84.11 772.23" fill="none" stroke="#4646b4" stroke-width="0.5" stroke-opacity="0.85"/>
<path d="M81.53 780.58 C81.7 779.69 82.08 777 82.55 775.27 C83.02 773.53 83.64 771.82 84.36 770.17 C85.07 768.52 86.82 765.35 86.82 765.36 C86.83 765.36 85.62 769.04 84.38 770.18 C83.14 771.32 81.06 772.15 79.37 772.21 C77.67 772.27 75.97 770.96 74.22 770.56 C72.47 770.17 70.64 770.1 68.86 769.84 C67.07 769.59 65.28 768.96 63.51 769.04 C61.74 769.11 59.67 769.38 58.25 770.31 C56.84 771.24 55.24 773.06 55 774.63 C54.76 776.2 55.92 778.21 56.83 779.72 C57.75 781.23 59.01 782.84 60.5 783.7 C61.99 784.56 64.05 784.37 65.77 784.88 C67.5 785.39 69.14 786.73 70.84 786.77 C72.54 786.8 74.78 786.19 75.97 785.06 C77.16 783.94 78.51 781.14 77.98 780.04 C77.45 778.95 74.55 778.59 72.8 778.5 C71.05 778.4 69.11 778.8 67.48 779.48 C65.86 780.16 64.17 781.26 63.06 782.59 C61.95 783.93 61.23 785.79 60.8 787.51 C60.36 789.22 60.84 791.17 60.43 792.9 C60.02 794.63 58.41 796.2 58.34 797.89 C58.27 799.58 58.83 802.04 60 803.04 C61.16 804.03 63.63 804.08 65.34 803.85 C67.06 803.62 68.9 802.74 70.29 801.67 C71.68 800.6 73.4 799.01 73.68 797.46 C73.96 795.9 72.72 793.95 71.96 792.33 C71.2 790.71 69.58 789.4 69.1 787.74 C68.62 786.07 69.31 784.1 69.08 782.33 C68.85 780.56 68.55 778.64 67.72 777.1 C66.89 775.55 65.62 773.74 64.11 773.06 C62.61 772.39 60.49 772.87 58.71 773.04 C56.92 773.22 55.17 773.73 53.4 774.11 C51.64 774.48 48.5 774.35 48.13 775.29 C47.75 776.24 50.05 778.35 51.15 779.77 C52.25 781.2 53.51 782.5 54.72 783.84 C55.92 785.18 56.9 786.97 58.4 787.8 C59.9 788.64 61.92 788.63 63.71 788.85 C65.49 789.08 68.2 789.11 69.1 789.16" fill="none" stroke="#4646b4" stroke-width="0.5" stroke-opacity="0.85"/>
<path d="M63.22 789.4 C63.38 788.51 63.59 785.77 64.13 784.07 C64.67 782.37 65.46 780.66 66.47 779.19 C67.48 777.73 68.74 776.25 70.21 775.28 C71.68 774.32 73.55 773.52 75.28 773.4 C77 773.27 78.98 773.77 80.57 774.51 C82.16 775.26 83.79 776.46 84.81 777.86 C85.83 779.27 86.79 781.28 86.7 782.93 C86.62 784.58 85.48 786.53 84.3 787.78 C83.11 789.02 81.1 789.46 79.57 790.4 C78.04 791.35 76.72 792.73 75.1 793.45 C73.48 794.16 71.57 794.21 69.83 794.67 C68.09 795.14 66.3 795.52 64.65 796.21 C62.99 796.9 61.43 797.85 59.9 798.81 C58.38 799.76 56.92 800.83 55.49 801.93 C54.06 803.03 51.41 805.47 51.33 805.39 C51.25 805.3 53.77 802.74 54.99 801.41 C56.21 800.08 57.14 798.25 58.63 797.41 C60.12 796.56 62.38 795.9 63.93 796.34 C65.48 796.77 66.94 798.54 67.91 799.99 C68.88 801.45 69.47 803.33 69.76 805.08 C70.04 806.82 69.73 808.68 69.62 810.48 C69.51 812.28 68.99 815.85 69.08 815.86 C69.18 815.88 70.16 812.34 70.2 810.57 C70.25 808.8 69.38 807.02 69.34 805.23 C69.31 803.45 69.08 801.17 69.99 799.87 C70.9 798.56 73.1 797.89 74.8 797.38 C76.49 796.86 78.54 797.4 80.17 796.78 C81.81 796.17 83.08 794.64 84.6 793.68 C86.13 792.73 87.86 792.08 89.33 791.05 C90.79 790.02 92.38 788.92 93.4 787.49 C94.42 786.07 94.69 784.12 95.46 782.49 C96.23 780.87 98.45 778.25 98.01 777.73 C97.58 777.2 94.08 779.9 92.85 779.34 C91.63 778.79 90.9 776.11 90.67 774.4 C90.43 772.68 92.22 769.91 91.45 769.05 C90.68 768.18 87.81 768.93 86.05 769.21 C84.28 769.5 82.6 770.29 80.86 770.75 C79.12 771.21 77.35 771.59 75.59 771.97 C73.83 772.34 71.17 772.81 70.28 772.98" fill="none" stroke="#4646b4" stroke-width="0.5" stroke-opacity="0.85"/>
<path d="M79.24 793.96 C79.84 793.29 82.46 791.46 82.82 789.91 C83.19 788.36 82.1 786.34 81.41 784.69 C80.73 783.04 79.7 781.51 78.72 780 C77.75 778.48 76.39 777.18 75.59 775.59 C74.79 774 73.95 772.15 73.95 770.44 C73.95 768.72 76.12 765.71 75.61 765.29 C75.09 764.87 72.56 767.65 70.88 767.93 C69.21 768.2 67.32 767.35 65.57 766.92 C63.82 766.49 60.85 764.81 60.39 765.36 C59.93 765.91 63.04 768.77 62.8 770.2 C62.55 771.64 60.42 773.04 58.94 773.99 C57.45 774.94 55.62 775.67 53.88 775.91 C52.14 776.16 48.49 775.43 48.49 775.46 C48.49 775.48 52.2 775.5 53.87 776.05 C55.54 776.61 56.99 777.86 58.53 778.8 C60.07 779.74 61.61 780.68 63.11 781.67 C64.61 782.66 65.94 783.99 67.55 784.76 C69.15 785.53 71 786.25 72.74 786.28 C74.48 786.32 76.47 785.82 77.98 784.97 C79.5 784.12 80.36 782.12 81.85 781.19 C83.35 780.27 85.21 779.75 86.96 779.42 C88.72 779.09 90.57 779.19 92.37 779.22 C94.17 779.26 97.65 780.01 97.76 779.64 C97.87 779.28 94.68 777.71 93.01 777.06 C91.35 776.4 89.54 776.07 87.78 775.69 C86.02 775.3 84.23 774.72 82.46 774.74 C80.68 774.76 78.85 775.25 77.16 775.83 C75.47 776.4 73.96 777.51 72.31 778.22 C70.65 778.93 68.98 779.85 67.23 780.08 C65.49 780.32 63.6 779.98 61.84 779.62 C60.09 779.26 58.47 778.26 56.71 777.92 C54.96 777.57 53.04 777.26 51.31 777.56 C49.59 777.86 47.61 778.56 46.35 779.71 C45.09 780.86 43.85 782.82 43.75 784.45 C43.65 786.08 44.7 788.09 45.74 789.48 C46.79 790.87 48.42 792.13 50.03 792.78 C51.64 793.43 53.62 793.44 55.4 793.36 C57.18 793.29 59.17 793.11 60.71 792.32 C62.25 791.52 63.98 789.22 64.64 788.6" fill="none" stroke="#4646b4" stroke-width="0.5" stroke-opacity="0.85"/>
<path d="M74.18 790.47 C74.68 791.22 75.82 793.97 77.19 794.96 C78.56 795.95 80.71 795.8 82.4 796.4 C84.1 797 85.7 797.86 87.36 798.56 C89.02 799.27 90.66 800.01 92.35 800.64 C94.04 801.27 96.87 802.91 97.49 802.33 C98.1 801.74 96.11 798.87 96.04 797.12 C95.97 795.36 97.48 792 97.08 791.81 C96.67 791.62 94.82 794.63 93.64 795.99 C92.45 797.34 91.26 798.71 89.96 799.95 C88.66 801.19 86.93 802.06 85.83 803.44 C84.73 804.83 83.44 806.62 83.37 808.26 C83.31 809.89 85.32 813.3 85.44 813.25 C85.57 813.21 85.23 808.74 84.13 808.01 C83.02 807.28 80.21 808.02 78.79 808.9 C77.38 809.78 75.68 813.32 75.63 813.29 C75.59 813.26 77.7 810.31 78.51 808.71 C79.31 807.11 79.81 805.35 80.47 803.67 C81.13 801.99 81.54 800.15 82.49 798.65 C83.44 797.16 84.77 795.8 86.17 794.69 C87.56 793.57 89.27 792.85 90.84 791.97 C92.42 791.09 93.92 789.94 95.61 789.41 C97.3 788.88 100.97 788.75 100.98 788.79 C100.98 788.83 97.3 789.04 95.64 789.66 C93.99 790.29 92.73 792.03 91.06 792.54 C89.4 793.05 87.35 793.12 85.66 792.73 C83.96 792.34 82.39 791.17 80.89 790.18 C79.39 789.2 78.24 787.57 76.66 786.81 C75.08 786.05 73.16 785.85 71.38 785.63 C69.6 785.41 67.67 785.08 65.98 785.49 C64.28 785.89 62.64 786.98 61.22 788.06 C59.8 789.13 58.8 790.75 57.45 791.94 C56.11 793.13 54.75 794.59 53.13 795.19 C51.51 795.78 47.99 796.09 47.73 795.51 C47.47 794.93 50.25 792.92 51.59 791.72 C52.93 790.52 54.22 789.13 55.78 788.3 C57.34 787.47 59.45 787.64 60.96 786.74 C62.46 785.85 63.78 784.39 64.81 782.95 C65.84 781.5 66.62 779.78 67.15 778.07 C67.68 776.37 67.84 773.62 67.98 772.73" fill="none" stroke="#4646b4" stroke-width="0.5" stroke-opacity="0.85"/>
</g>
<text x="73.3" y="841.8" font-size="13" font-weight="bold" text-anchor="middle" fill="#111" font-family='"Liberation Serif", serif' >3<tspan stroke="#111" stroke-width="0.9">×</tspan>Tg+MF-1.5</text>
<g>
<line x1="137.3" y1="790.6" x2="201.3" y2="790.6" stroke="#bcbcbc" stroke-width="0.7" stroke-dasharray="1.2 0.9"/>
<line x1="169.3" y1="758.6" x2="169.3" y2="822.6" stroke="#c4c4c4" stroke-width="0.7" stroke-dasharray="1.4 0.8"/>
<circle cx="169.3" cy="790.6" r="33" fill="none" stroke="#f06464" stroke-width="0.75"/>
<circle cx="181.7" cy="779.3" r="3.1" fill="none" stroke="#dc4040" stroke-width="0.8"/>
<path d="M181.79 798.97 C182.54 798.79 184.77 798.18 186.28 797.88 C187.79 797.58 190.63 797.84 190.84 797.18 C191.06 796.51 188.26 795.21 187.58 793.9 C186.91 792.6 186.95 790.88 186.78 789.35 C186.61 787.83 186.37 786.24 186.57 784.74 C186.78 783.23 187.18 781.59 187.99 780.34 C188.79 779.09 191.59 777.59 191.41 777.24 C191.23 776.88 188.42 778.04 186.9 778.22 C185.37 778.4 183.81 778.17 182.28 778.3 C180.75 778.43 179.24 778.83 177.71 779.01 C176.18 779.19 174.64 779.21 173.11 779.39 C171.58 779.56 170.04 779.73 168.54 780.06 C167.04 780.4 165.62 781.17 164.11 781.38 C162.6 781.6 160.94 781.73 159.49 781.36 C158.04 781 156.55 780.17 155.41 779.19 C154.27 778.22 152.52 775.61 152.66 775.48 C152.79 775.35 155.12 777.35 156.23 778.42 C157.33 779.48 158.02 781.36 159.29 781.87 C160.57 782.38 162.39 781.76 163.9 781.47 C165.4 781.18 166.81 780.37 168.32 780.13 C169.83 779.89 171.4 780.15 172.94 780.04 C174.47 779.93 176.06 779.24 177.52 779.47 C178.99 779.7 180.3 781.41 181.71 781.43 C183.11 781.45 184.73 780.48 185.96 779.61 C187.18 778.74 189.31 776.66 189.06 776.19 C188.82 775.73 186 776.53 184.49 776.82 C182.97 777.1 181.51 777.82 180 777.92 C178.49 778.02 176.66 778.1 175.41 777.42 C174.16 776.74 173.73 774.63 172.5 773.83 C171.27 773.03 169.54 772.71 168.04 772.63 C166.53 772.55 164.61 772.55 163.47 773.34 C162.34 774.13 161.39 775.95 161.21 777.37 C161.04 778.78 161.69 780.54 162.43 781.82 C163.18 783.11 164.81 783.85 165.71 785.08 C166.6 786.31 167.22 787.78 167.79 789.21 C168.37 790.63 169.38 792.27 169.15 793.62 C168.92 794.98 167.48 796.26 166.41 797.34 C165.33 798.42 164 799.27 162.7 800.1 C161.41 800.92 159.31 801.92 158.63 802.28" fill="none" stroke="#4646b4" stroke-width="0.5" stroke-opacity="0.85"/>
<path d="M165.46 778.73 C166.17 778.43 168.24 777.22 169.72 776.94 C171.2 776.67 172.8 776.99 174.34 777.11 C175.87 777.22 177.39 777.52 178.92 777.66 C180.46 777.79 182.01 778.02 183.54 777.94 C185.06 777.87 186.58 777.18 188.1 777.2 C189.61 777.21 192.36 777.27 192.64 778.02 C192.92 778.76 191.03 780.98 189.79 781.65 C188.55 782.32 186.72 781.99 185.19 782.06 C183.65 782.13 182.06 781.8 180.57 782.05 C179.07 782.31 177.68 783.53 176.21 783.6 C174.74 783.66 172.62 783.39 171.74 782.44 C170.86 781.49 170.61 779.25 170.95 777.89 C171.29 776.52 172.56 774.96 173.8 774.25 C175.03 773.54 176.91 773.41 178.38 773.62 C179.84 773.83 181.82 774.43 182.59 775.51 C183.37 776.59 183.19 778.61 183.02 780.11 C182.85 781.61 182.26 783.14 181.58 784.5 C180.91 785.87 180.06 787.27 178.96 788.31 C177.87 789.34 176.38 790.64 175.02 790.72 C173.67 790.8 172.01 789.72 170.82 788.8 C169.64 787.88 168.62 786.55 167.92 785.21 C167.21 783.87 167.05 782.25 166.61 780.78 C166.17 779.3 165.94 777.71 165.26 776.36 C164.58 775 163.68 773.56 162.52 772.64 C161.35 771.72 158.63 770.44 158.27 770.83 C157.9 771.21 159.85 773.51 160.33 774.96 C160.81 776.41 160.8 778.01 161.17 779.51 C161.53 781 162.32 782.41 162.53 783.92 C162.73 785.43 162.98 787.26 162.38 788.54 C161.78 789.82 160.17 791.44 158.91 791.59 C157.65 791.75 156.11 790.29 154.81 789.46 C153.52 788.63 151.01 787.2 151.17 786.63 C151.32 786.05 154.22 786.22 155.74 786.01 C157.27 785.79 158.93 785.91 160.32 785.34 C161.7 784.78 163.34 783.83 164.04 782.61 C164.73 781.38 164.94 779.33 164.48 778.01 C164.02 776.69 162.56 775.43 161.28 774.68 C160 773.93 158.2 773.28 156.81 773.5 C155.42 773.72 153.58 775.59 152.93 776.01" fill="none" stroke="#4646b4" stroke-width="0.5" stroke-opacity="0.85"/>
<path d="M157.62 777.76 C156.85 777.74 153.11 778.1 153 777.69 C152.89 777.28 155.67 776.15 156.95 775.29 C158.23 774.43 160.16 773.76 160.67 772.54 C161.17 771.33 159.85 768 159.97 767.98 C160.09 767.95 160.45 771.29 161.37 772.38 C162.28 773.47 164.03 773.98 165.46 774.53 C166.88 775.09 168.45 775.26 169.92 775.73 C171.38 776.2 172.88 776.66 174.24 777.36 C175.6 778.06 177.02 778.86 178.08 779.93 C179.14 781.01 180.24 782.39 180.61 783.8 C180.97 785.21 180.1 786.91 180.29 788.41 C180.48 789.91 181.6 791.3 181.74 792.8 C181.88 794.29 181.7 795.99 181.15 797.38 C180.61 798.77 179.65 800.26 178.49 801.15 C177.32 802.04 175.64 802.44 174.15 802.73 C172.65 803.03 170.99 803.21 169.53 802.91 C168.06 802.6 166.67 801.72 165.36 800.93 C164.04 800.13 162.61 799.3 161.67 798.14 C160.72 796.99 160.22 795.41 159.67 793.98 C159.12 792.54 158.72 791.04 158.37 789.54 C158.02 788.05 157.46 786.48 157.56 785 C157.67 783.51 158.47 782.05 159.01 780.61 C159.54 779.16 159.78 777.37 160.78 776.34 C161.78 775.31 163.54 774.95 164.99 774.44 C166.43 773.92 168 773.75 169.45 773.23 C170.89 772.71 172.55 772.29 173.65 771.32 C174.75 770.34 176.07 767.38 176.04 767.36 C176.02 767.35 174.25 769.88 173.52 771.23 C172.78 772.58 172.05 773.98 171.63 775.45 C171.21 776.91 171.6 778.67 171.01 780.03 C170.42 781.38 169.21 782.57 168.09 783.6 C166.96 784.62 165.47 785.24 164.25 786.18 C163.03 787.11 161.9 788.17 160.75 789.2 C159.61 790.22 158.54 791.35 157.38 792.35 C156.21 793.35 153.74 795.19 153.74 795.2 C153.75 795.21 156.09 793.17 157.41 792.39 C158.73 791.62 160.19 790.71 161.65 790.56 C163.11 790.41 164.74 790.99 166.17 791.52 C167.6 792.04 169.55 793.36 170.23 793.73" fill="none" stroke="#4646b4" stroke-width="0.5" stroke-opacity="0.85"/>
<path d="M165.78 790.34 C166.29 790.92 167.66 792.84 168.84 793.81 C170.01 794.78 171.54 795.29 172.81 796.16 C174.08 797.02 175.09 798.39 176.46 799 C177.82 799.61 179.93 800.4 181 799.83 C182.07 799.27 183.06 796.9 182.87 795.61 C182.68 794.32 181.11 792.51 179.86 792.1 C178.61 791.7 176.63 792.43 175.36 793.18 C174.1 793.93 173.06 795.31 172.27 796.61 C171.48 797.9 171.52 799.75 170.63 800.92 C169.73 802.09 168.27 803.21 166.87 803.62 C165.48 804.03 163.76 803.66 162.26 803.37 C160.76 803.08 159.26 802.55 157.89 801.88 C156.51 801.21 154.02 800.21 154.01 799.36 C154 798.51 157.39 797.94 157.83 796.76 C158.27 795.58 157.55 793.37 156.66 792.29 C155.77 791.21 153.96 790.71 152.5 790.29 C151.04 789.88 147.91 790 147.9 789.8 C147.9 789.6 151.15 788.68 152.47 789.09 C153.78 789.51 155.17 791 155.8 792.3 C156.43 793.6 156.38 795.38 156.27 796.89 C156.15 798.4 154.84 801.24 155.09 801.36 C155.35 801.48 156.74 798.71 157.8 797.62 C158.87 796.53 160.1 795.38 161.48 794.82 C162.86 794.26 164.58 794.11 166.07 794.28 C167.56 794.45 168.95 795.37 170.42 795.83 C171.89 796.29 173.44 796.5 174.88 797.04 C176.31 797.57 177.75 798.22 179.04 799.05 C180.32 799.87 181.51 800.91 182.59 802 C183.67 803.08 185.49 805.6 185.53 805.57 C185.56 805.54 183.59 803.15 182.82 801.82 C182.05 800.5 181.78 798.85 180.9 797.62 C180.02 796.39 178.59 795.57 177.55 794.44 C176.5 793.32 175.28 792.22 174.61 790.88 C173.94 789.53 173.51 787.88 173.51 786.39 C173.52 784.89 173.8 783.05 174.65 781.91 C175.5 780.77 177.22 779.68 178.61 779.52 C180 779.37 182.15 779.96 183 780.97 C183.84 781.97 183.7 784.02 183.65 785.54 C183.61 787.06 182.88 789.31 182.72 790.07" fill="none" stroke="#4646b4" stroke-width="0.5" stroke-opacity="0.85"/>
<path d="M184.88 777.05 C185.34 776.43 187.89 773.65 187.65 773.35 C187.41 773.06 184.51 774.28 183.45 775.28 C182.38 776.28 181.58 777.9 181.26 779.35 C180.94 780.8 180.73 783.13 181.54 783.96 C182.36 784.79 184.94 784.91 186.15 784.35 C187.35 783.78 187.98 781.86 188.78 780.55 C189.58 779.23 190.82 776.41 190.94 776.46 C191.05 776.51 189.76 779.34 189.46 780.84 C189.16 782.34 189.08 783.92 189.16 785.45 C189.24 786.98 189.72 788.48 189.94 790 C190.16 791.53 190.42 793.06 190.47 794.59 C190.52 796.13 191.04 798.6 190.25 799.21 C189.46 799.81 187.25 798.29 185.73 798.23 C184.22 798.17 182.67 798.6 181.16 798.86 C179.64 799.11 178.13 799.43 176.62 799.75 C175.12 800.07 173.64 800.58 172.12 800.78 C170.6 800.97 168.94 800.52 167.5 800.92 C166.06 801.32 164.81 802.41 163.46 803.16 C162.11 803.91 159.46 805.47 159.42 805.4 C159.38 805.34 161.88 803.53 163.22 802.77 C164.55 802.01 165.95 801.18 167.43 800.86 C168.9 800.55 170.55 800.6 172.05 800.87 C173.54 801.14 174.96 801.88 176.37 802.49 C177.78 803.1 180.56 804.43 180.51 804.55 C180.46 804.67 177.57 803.61 176.09 803.21 C174.6 802.81 173.05 802.62 171.59 802.14 C170.14 801.66 168.72 801.01 167.35 800.32 C165.97 799.64 164.77 798.38 163.33 798.04 C161.89 797.7 160.24 798.39 158.72 798.29 C157.19 798.19 154.16 797.62 154.17 797.44 C154.19 797.27 157.43 797.77 158.79 797.24 C160.14 796.7 161.55 795.49 162.3 794.23 C163.06 792.98 163.05 791.24 163.32 789.73 C163.59 788.21 164.26 786.55 163.94 785.15 C163.62 783.74 162 782.69 161.39 781.3 C160.78 779.91 160.67 778.3 160.28 776.81 C159.9 775.32 159.58 773.8 159.09 772.35 C158.59 770.89 157.59 768.02 157.31 768.08 C157.04 768.14 157.4 771.93 157.42 772.7" fill="none" stroke="#4646b4" stroke-width="0.5" stroke-opacity="0.85"/>
<path d="M172 779.46 C172.38 780.13 173.57 782.11 174.26 783.49 C174.96 784.86 175.33 786.43 176.16 787.7 C177 788.97 178.64 789.79 179.27 791.12 C179.89 792.45 180.21 794.28 179.92 795.7 C179.63 797.12 178.5 798.48 177.52 799.65 C176.55 800.81 175.28 801.77 174.06 802.71 C172.84 803.64 171.59 804.64 170.21 805.25 C168.82 805.87 167.25 806.23 165.73 806.4 C164.21 806.56 161.13 806.42 161.11 806.24 C161.1 806.07 164.16 805.26 165.65 805.35 C167.13 805.44 168.58 806.28 170.04 806.77 C171.5 807.26 172.91 807.96 174.4 808.31 C175.89 808.66 177.52 809.1 178.98 808.87 C180.45 808.63 183.06 807.73 183.17 806.91 C183.28 806.09 180.45 805.16 179.64 803.92 C178.84 802.69 178.47 801 178.34 799.49 C178.21 797.99 178.27 796.24 178.87 794.9 C179.48 793.56 181.15 792.75 181.96 791.46 C182.76 790.17 182.92 788.49 183.7 787.18 C184.48 785.87 185.42 784.47 186.63 783.61 C187.84 782.75 190.96 782.01 190.96 782 C190.95 781.99 187.88 783.81 186.6 783.53 C185.32 783.25 183.34 781.45 183.28 780.32 C183.21 779.19 184.98 777.59 186.2 776.74 C187.42 775.9 190.58 775.73 190.57 775.25 C190.57 774.78 187.32 774.77 186.16 773.9 C185 773.03 184.52 771.28 183.61 770.04 C182.7 768.81 181.41 766.34 180.68 766.47 C179.95 766.61 179.83 769.45 179.23 770.86 C178.63 772.27 177 773.62 177.06 774.94 C177.12 776.27 178.71 778.79 179.58 778.81 C180.46 778.84 182.41 776.24 182.31 775.08 C182.21 773.92 180.29 772.18 179 771.86 C177.71 771.53 175.69 772.25 174.56 773.12 C173.43 774 172.82 775.7 172.22 777.1 C171.62 778.51 170.89 780.08 170.95 781.55 C171 783.01 172.7 784.51 172.54 785.88 C172.39 787.25 171.21 789.12 170.02 789.76 C168.83 790.39 166.17 789.72 165.4 789.71" fill="none" stroke="#4646b4" stroke-width="0.5" stroke-opacity="0.85"/>
<path d="M145 806 C145.33 807 146.17 810.17 147 812 C147.83 813.83 148.17 815.75 150 817 C151.83 818.25 155.33 819 158 819.5 C160.67 820 163.67 820.42 166 820 C168.33 819.58 171 817.5 172 817" fill="none" stroke="#4646b4" stroke-width="0.5" stroke-opacity="0.85"/>
</g>
<text x="175.7" y="841.8" font-size="13" font-weight="bold" text-anchor="middle" fill="#111" font-family='"Liberation Serif", serif' >3<tspan stroke="#111" stroke-width="0.9">×</tspan>Tg+MF-2.5</text>
<text transform="translate(263.59 667.7) scale(0.92 1)" x="0" y="0" font-size="22.3" font-weight="bold" fill="#000" font-family='"Liberation Sans", sans-serif'>J</text>
<text x="396.7" y="687.6" font-size="12.4" font-weight="normal" text-anchor="middle" fill="#333" font-family='"Liberation Sans", sans-serif' textLength="33" lengthAdjust="spacingAndGlyphs">MWM</text>
<text transform="translate(280.3 768.8) rotate(-90)" x="0" y="3.93" font-size="11.24" font-weight="normal" text-anchor="middle" fill="#333" font-family='"Liberation Sans", sans-serif'>Crossing times</text>
<polyline points="322.3,836.5 322.3,819.14 362.6,819.14 362.6,836.5" stroke="#000" stroke-width="2" fill="none" stroke-linejoin="miter"/>
<polyline points="382.6,836.5 382.6,791.7 423.1,791.7 423.1,836.5" stroke="#a000e0" stroke-width="2" fill="none" stroke-linejoin="miter"/>
<polyline points="443,836.5 443,791.14 483.2,791.14 483.2,836.5" stroke="#0000ff" stroke-width="2" fill="none" stroke-linejoin="miter"/>
<line x1="342.5" y1="812.31" x2="342.5" y2="819.14" stroke="#000" stroke-width="1.9" />
<line x1="332.7" y1="812.31" x2="352.3" y2="812.31" stroke="#000" stroke-width="1.9" />
<line x1="342.5" y1="819.14" x2="342.5" y2="836.5" stroke="#000" stroke-width="1.9" />
<line x1="402.9" y1="784.31" x2="402.9" y2="800.1" stroke="#a000e0" stroke-width="1.9" />
<line x1="392.95" y1="784.31" x2="412.85" y2="784.31" stroke="#a000e0" stroke-width="1.9" />
<line x1="392.95" y1="800.1" x2="412.85" y2="800.1" stroke="#a000e0" stroke-width="1.9" />
<line x1="463.1" y1="783.64" x2="463.1" y2="797.75" stroke="#0000ff" stroke-width="1.9" />
<line x1="453.1" y1="783.64" x2="473.1" y2="783.64" stroke="#0000ff" stroke-width="1.9" />
<line x1="453.1" y1="797.75" x2="473.1" y2="797.75" stroke="#0000ff" stroke-width="1.9" />
<line x1="303.1" y1="837.3" x2="303.1" y2="701.3" stroke="#000" stroke-width="1.6" />
<line x1="299.1" y1="836.5" x2="303.1" y2="836.5" stroke="#000" stroke-width="1.6" />
<text transform="translate(298.5 840.08) scale(0.9 1)" x="0" y="0" font-size="11" font-weight="bold" text-anchor="end" fill="#231c1c" font-family='"Liberation Sans", sans-serif'>0</text>
<line x1="299.1" y1="814.1" x2="303.1" y2="814.1" stroke="#000" stroke-width="1.6" />
<text transform="translate(298.5 817.68) scale(0.9 1)" x="0" y="0" font-size="11" font-weight="bold" text-anchor="end" fill="#231c1c" font-family='"Liberation Sans", sans-serif'>2</text>
<line x1="299.1" y1="791.7" x2="303.1" y2="791.7" stroke="#000" stroke-width="1.6" />
<text transform="translate(298.5 795.28) scale(0.9 1)" x="0" y="0" font-size="11" font-weight="bold" text-anchor="end" fill="#231c1c" font-family='"Liberation Sans", sans-serif'>4</text>
<line x1="299.1" y1="769.3" x2="303.1" y2="769.3" stroke="#000" stroke-width="1.6" />
<text transform="translate(298.5 772.88) scale(0.9 1)" x="0" y="0" font-size="11" font-weight="bold" text-anchor="end" fill="#231c1c" font-family='"Liberation Sans", sans-serif'>6</text>
<line x1="299.1" y1="746.9" x2="303.1" y2="746.9" stroke="#000" stroke-width="1.6" />
<text transform="translate(298.5 750.48) scale(0.9 1)" x="0" y="0" font-size="11" font-weight="bold" text-anchor="end" fill="#231c1c" font-family='"Liberation Sans", sans-serif'>8</text>
<line x1="299.1" y1="724.5" x2="303.1" y2="724.5" stroke="#000" stroke-width="1.6" />
<text transform="translate(301.9 728.08) scale(0.9 1)" x="0" y="0" font-size="11" font-weight="bold" text-anchor="end" fill="#231c1c" font-family='"Liberation Sans", sans-serif'>10</text>
<line x1="299.1" y1="702.1" x2="303.1" y2="702.1" stroke="#000" stroke-width="1.6" />
<text transform="translate(298.5 705.68) scale(0.9 1)" x="0" y="0" font-size="11" font-weight="bold" text-anchor="end" fill="#231c1c" font-family='"Liberation Sans", sans-serif'>12</text>
<line x1="302.3" y1="836.5" x2="503.6" y2="836.5" stroke="#000" stroke-width="1.9" />
<line x1="342.5" y1="836.5" x2="342.5" y2="840" stroke="#000" stroke-width="1.5" />
<line x1="402.9" y1="836.5" x2="402.9" y2="840" stroke="#000" stroke-width="1.5" />
<line x1="463.1" y1="836.5" x2="463.1" y2="840" stroke="#000" stroke-width="1.5" />
<circle cx="342.5" cy="780.5" r="3.63" fill="#000" stroke="none" stroke-width="0"/>
<circle cx="342.5" cy="791.7" r="3.63" fill="#000" stroke="none" stroke-width="0"/>
<circle cx="342.5" cy="802.9" r="3.63" fill="#000" stroke="none" stroke-width="0"/>
<circle cx="330.3" cy="825.3" r="3.63" fill="#000" stroke="none" stroke-width="0"/>
<circle cx="338.5" cy="825.3" r="3.63" fill="#000" stroke="none" stroke-width="0"/>
<circle cx="346.8" cy="825.3" r="3.63" fill="#000" stroke="none" stroke-width="0"/>
<circle cx="355" cy="825.3" r="3.63" fill="#000" stroke="none" stroke-width="0"/>
<circle cx="334.6" cy="836.5" r="3.63" fill="#000" stroke="none" stroke-width="0"/>
<circle cx="342.7" cy="836.5" r="3.63" fill="#000" stroke="none" stroke-width="0"/>
<circle cx="350.7" cy="836.5" r="3.63" fill="#000" stroke="none" stroke-width="0"/>
<path d="M399.42 743.75L406.38 743.75L402.9 750.75Z" fill="#a000e0" stroke="#a000e0" stroke-width="0.8" stroke-linejoin="round"/>
<path d="M399.42 766.15L406.38 766.15L402.9 773.15Z" fill="#a000e0" stroke="#a000e0" stroke-width="0.8" stroke-linejoin="round"/>
<path d="M395.32 777.35L402.28 777.35L398.8 784.35Z" fill="#a000e0" stroke="#a000e0" stroke-width="0.8" stroke-linejoin="round"/>
<path d="M403.52 777.35L410.48 777.35L407 784.35Z" fill="#a000e0" stroke="#a000e0" stroke-width="0.8" stroke-linejoin="round"/>
<path d="M395.32 788.55L402.28 788.55L398.8 795.55Z" fill="#a000e0" stroke="#a000e0" stroke-width="0.8" stroke-linejoin="round"/>
<path d="M403.52 788.55L410.48 788.55L407 795.55Z" fill="#a000e0" stroke="#a000e0" stroke-width="0.8" stroke-linejoin="round"/>
<path d="M395.32 799.75L402.28 799.75L398.8 806.75Z" fill="#a000e0" stroke="#a000e0" stroke-width="0.8" stroke-linejoin="round"/>
<path d="M403.52 799.75L410.48 799.75L407 806.75Z" fill="#a000e0" stroke="#a000e0" stroke-width="0.8" stroke-linejoin="round"/>
<path d="M395.32 822.15L402.28 822.15L398.8 829.15Z" fill="#a000e0" stroke="#a000e0" stroke-width="0.8" stroke-linejoin="round"/>
<path d="M403.52 822.15L410.48 822.15L407 829.15Z" fill="#a000e0" stroke="#a000e0" stroke-width="0.8" stroke-linejoin="round"/>
<path d="M463.1 743.51L466.32 746.9L463.1 750.29L459.88 746.9Z" fill="#0000ff" stroke="#0000ff" stroke-width="1.1" stroke-linejoin="round"/>
<path d="M463.1 765.91L466.32 769.3L463.1 772.69L459.88 769.3Z" fill="#0000ff" stroke="#0000ff" stroke-width="1.1" stroke-linejoin="round"/>
<path d="M458.6 777.11L461.82 780.5L458.6 783.89L455.38 780.5Z" fill="#0000ff" stroke="#0000ff" stroke-width="1.1" stroke-linejoin="round"/>
<path d="M466.8 777.11L470.02 780.5L466.8 783.89L463.58 780.5Z" fill="#0000ff" stroke="#0000ff" stroke-width="1.1" stroke-linejoin="round"/>
<path d="M458.6 788.31L461.82 791.7L458.6 795.09L455.38 791.7Z" fill="#0000ff" stroke="#0000ff" stroke-width="1.1" stroke-linejoin="round"/>
<path d="M466.8 788.31L470.02 791.7L466.8 795.09L463.58 791.7Z" fill="#0000ff" stroke="#0000ff" stroke-width="1.1" stroke-linejoin="round"/>
<path d="M463.1 799.51L466.32 802.9L463.1 806.29L459.88 802.9Z" fill="#0000ff" stroke="#0000ff" stroke-width="1.1" stroke-linejoin="round"/>
<path d="M454.5 810.71L457.72 814.1L454.5 817.49L451.28 814.1Z" fill="#0000ff" stroke="#0000ff" stroke-width="1.1" stroke-linejoin="round"/>
<path d="M463.1 810.71L466.32 814.1L463.1 817.49L459.88 814.1Z" fill="#0000ff" stroke="#0000ff" stroke-width="1.1" stroke-linejoin="round"/>
<path d="M471 810.71L474.22 814.1L471 817.49L467.78 814.1Z" fill="#0000ff" stroke="#0000ff" stroke-width="1.1" stroke-linejoin="round"/>
<line x1="343.1" y1="712.6" x2="463.7" y2="712.6" stroke="#000" stroke-width="1.6" />
<line x1="343.1" y1="729.9" x2="403.5" y2="729.9" stroke="#000" stroke-width="1.6" />
<text x="403" y="710.4" font-size="8.5" font-weight="normal" text-anchor="middle" fill="#222" font-family='"Liberation Sans", sans-serif' >*</text>
<text x="372.8" y="728.4" font-size="8.5" font-weight="normal" text-anchor="middle" fill="#222" font-family='"Liberation Sans", sans-serif' >*</text>
<text transform="translate(343.2 855.2) scale(1.04 1)" x="0" y="0" font-size="12.4" font-weight="normal" text-anchor="middle" fill="#333" font-family='"Liberation Sans", sans-serif'>3×Tg</text>
<text transform="translate(342.2 870.6) scale(1.04 1)" x="0" y="0" font-size="12.4" font-weight="normal" text-anchor="middle" fill="#333" font-family='"Liberation Sans", sans-serif'>+VEH</text>
<text transform="translate(406.8 855.2) scale(1.04 1)" x="0" y="0" font-size="12.4" font-weight="normal" text-anchor="middle" fill="#333" font-family='"Liberation Sans", sans-serif'>3×Tg</text>
<text transform="translate(406.8 870.6) scale(1.04 1)" x="0" y="0" font-size="12.4" font-weight="normal" text-anchor="middle" fill="#333" font-family='"Liberation Sans", sans-serif'>+MF-1.5</text>
<text transform="translate(466.8 855.2) scale(1.04 1)" x="0" y="0" font-size="12.4" font-weight="normal" text-anchor="middle" fill="#333" font-family='"Liberation Sans", sans-serif'>3×Tg</text>
<text transform="translate(466.8 870.6) scale(1.04 1)" x="0" y="0" font-size="12.4" font-weight="normal" text-anchor="middle" fill="#333" font-family='"Liberation Sans", sans-serif'>+MF-2.5</text>
<text transform="translate(532.73 668) scale(0.92 1)" x="0" y="0" font-size="22.3" font-weight="bold" fill="#000" font-family='"Liberation Sans", sans-serif'>K</text>
<g>
<line x1="618.5" y1="695.4" x2="681.1" y2="695.4" stroke="#bcbcbc" stroke-width="0.7" stroke-dasharray="1.2 0.9"/>
<line x1="649.8" y1="664.1" x2="649.8" y2="726.7" stroke="#c4c4c4" stroke-width="0.7" stroke-dasharray="1.4 0.8"/>
<circle cx="649.8" cy="695.4" r="32.3" fill="none" stroke="#f06464" stroke-width="0.75"/>
<circle cx="659.3" cy="708.3" r="3.1" fill="none" stroke="#dc4040" stroke-width="0.8"/>
<path d="M649.8 663.76 C650.72 663.79 653.52 663.69 655.34 663.97 C657.16 664.25 658.98 664.79 660.71 665.44 C662.43 666.09 664.13 666.91 665.7 667.86 C667.28 668.81 668.73 669.97 670.16 671.14 C671.59 672.31 673.07 673.47 674.29 674.85 C675.51 676.23 676.59 677.8 677.49 679.41 C678.39 681.02 679.1 682.77 679.7 684.52 C680.31 686.26 680.84 688.06 681.13 689.87 C681.43 691.69 681.52 693.57 681.48 695.4 C681.44 697.23 681.19 699.07 680.88 700.88 C680.57 702.69 680.22 704.52 679.63 706.26 C679.05 708 678.33 709.76 677.39 711.33 C676.45 712.9 675.18 714.28 674 715.71 C672.83 717.13 671.74 718.7 670.35 719.89 C668.95 721.08 667.26 721.95 665.64 722.83 C664.02 723.71 662.36 724.56 660.63 725.17 C658.91 725.78 657.09 726.11 655.28 726.5 C653.48 726.88 651.64 727.41 649.8 727.47 C647.96 727.53 646.08 727.19 644.25 726.85 C642.43 726.52 640.58 726.12 638.85 725.48 C637.12 724.84 635.42 723.99 633.86 723 C632.3 722.02 630.9 720.79 629.5 719.59 C628.11 718.39 626.7 717.17 625.5 715.79 C624.29 714.41 623.15 712.9 622.25 711.31 C621.35 709.71 620.76 707.94 620.09 706.21 C619.42 704.49 618.58 702.77 618.24 700.97 C617.9 699.16 617.98 697.24 618.05 695.4 C618.12 693.56 618.36 691.73 618.64 689.91 C618.93 688.08 619.12 686.18 619.75 684.46 C620.38 682.74 621.5 681.2 622.41 679.59 C623.33 677.98 624.1 676.23 625.26 674.81 C626.42 673.38 627.93 672.21 629.36 671.05 C630.8 669.88 632.28 668.73 633.88 667.82 C635.48 666.91 637.21 666.2 638.95 665.58 C640.68 664.95 642.47 664.38 644.28 664.08 C646.09 663.77 648.88 663.8 649.8 663.75" fill="none" stroke="#26268c" stroke-width="0.9" stroke-opacity="0.95"/>
<path d="M644.41 725.96 C643.34 725.75 639.98 725.46 637.97 724.67 C635.97 723.88 634.18 722.46 632.38 721.23 C630.57 720 628.63 718.85 627.13 717.29 C625.63 715.74 624.57 713.75 623.39 711.9 C622.21 710.06 620.89 708.24 620.07 706.22 C619.26 704.2 618.8 701.97 618.52 699.8 C618.24 697.63 618.21 695.38 618.38 693.2 C618.55 691.02 618.9 688.81 619.52 686.72 C620.14 684.63 621.06 682.59 622.09 680.67 C623.12 678.74 624.26 676.79 625.69 675.17 C627.11 673.54 628.93 672.22 630.66 670.9 C632.39 669.58 634.15 668.27 636.07 667.25 C637.99 666.24 640.06 665.29 642.17 664.79 C644.28 664.3 646.53 664.37 648.71 664.28 C650.9 664.19 653.14 663.97 655.29 664.28 C657.44 664.58 660.57 665.81 661.63 666.12" fill="none" stroke="#26268c" stroke-width="0.7" stroke-opacity="0.8"/>
<path d="M631.5 670.5 C632.25 670.17 634.42 669.05 636 668.5 C637.58 667.95 639.17 667.55 641 667.2 C642.83 666.85 644.83 666.57 647 666.4 C649.17 666.23 652.83 666.23 654 666.2" fill="none" stroke="#4646b4" stroke-width="0.6" stroke-opacity="0.85"/>
<path d="M666.2 670 C667.08 671 669.95 674.17 671.5 676 C673.05 677.83 674.55 679.1 675.5 681 C676.45 682.9 676.77 685.07 677.2 687.4 C677.63 689.73 677.95 692.4 678.1 695 C678.25 697.6 678.1 701.67 678.1 703" fill="none" stroke="#4646b4" stroke-width="0.6" stroke-opacity="0.85"/>
<path d="M665 669.4 C665.4 669.4 666.67 671 666.8 671.8 C666.93 672.6 666.2 674.2 665.8 674.2 C665.4 674.2 664.53 672.6 664.4 671.8 C664.27 671 664.6 669.4 665 669.4Z" fill="none" stroke="#4646b4" stroke-width="0.6" stroke-opacity="0.85"/>
</g>
<text x="648.3" y="745.8" font-size="12.5" font-weight="bold" text-anchor="middle" fill="#111" font-family='"Liberation Serif", serif' >3<tspan stroke="#111" stroke-width="0.9">×</tspan>Tg+AAV-CON</text>
<g>
<line x1="573.7" y1="790" x2="636.3" y2="790" stroke="#bcbcbc" stroke-width="0.7" stroke-dasharray="1.2 0.9"/>
<line x1="605" y1="758.7" x2="605" y2="821.3" stroke="#c4c4c4" stroke-width="0.7" stroke-dasharray="1.4 0.8"/>
<circle cx="605" cy="790" r="32.3" fill="none" stroke="#f06464" stroke-width="0.75"/>
<circle cx="616" cy="780" r="3.1" fill="none" stroke="#dc4040" stroke-width="0.8"/>
<path d="M605 758.23 C605.92 758.32 608.7 758.42 610.51 758.74 C612.32 759.05 614.15 759.5 615.87 760.13 C617.6 760.75 619.25 761.61 620.88 762.5 C622.5 763.38 624.21 764.25 625.61 765.43 C627.02 766.61 628.21 768.12 629.33 769.59 C630.45 771.05 631.45 772.61 632.34 774.21 C633.24 775.82 634.02 777.48 634.7 779.19 C635.38 780.9 636.05 782.65 636.44 784.46 C636.84 786.26 637.09 788.16 637.07 790 C637.05 791.84 636.69 793.71 636.33 795.52 C635.97 797.34 635.52 799.15 634.89 800.88 C634.27 802.61 633.48 804.31 632.58 805.92 C631.67 807.53 630.67 809.14 629.47 810.53 C628.27 811.92 626.78 813.08 625.36 814.26 C623.94 815.44 622.51 816.66 620.94 817.6 C619.36 818.55 617.62 819.29 615.89 819.92 C614.16 820.56 612.35 821.11 610.54 821.39 C608.72 821.68 606.84 821.69 605 821.65 C603.16 821.61 601.31 821.47 599.5 821.16 C597.7 820.86 595.9 820.39 594.15 819.82 C592.39 819.25 590.57 818.66 588.98 817.74 C587.39 816.83 586 815.52 584.6 814.31 C583.2 813.1 581.77 811.89 580.59 810.48 C579.41 809.07 578.42 807.47 577.53 805.86 C576.65 804.25 575.9 802.54 575.3 800.81 C574.69 799.08 574.27 797.29 573.89 795.49 C573.51 793.68 573.08 791.84 573.02 790 C572.96 788.16 573.17 786.26 573.53 784.45 C573.88 782.64 574.52 780.87 575.16 779.14 C575.8 777.41 576.47 775.65 577.36 774.04 C578.26 772.44 579.38 770.92 580.56 769.49 C581.73 768.06 583.01 766.68 584.42 765.47 C585.82 764.26 587.35 763.13 588.97 762.24 C590.59 761.35 592.39 760.79 594.13 760.15 C595.88 759.51 597.62 758.79 599.43 758.42 C601.24 758.05 604.07 758.02 605 757.95" fill="none" stroke="#26268c" stroke-width="0.9" stroke-opacity="0.95"/>
<path d="M599.55 820.91 C598.49 820.64 595.18 820.1 593.17 819.28 C591.16 818.46 589.26 817.23 587.48 815.97 C585.71 814.71 584.01 813.28 582.52 811.71 C581.03 810.13 579.77 808.33 578.57 806.52 C577.37 804.7 576.06 802.83 575.33 800.8 C574.6 798.77 574.41 796.49 574.19 794.33 C573.97 792.17 573.94 790 574.02 787.83 C574.11 785.66 574.17 783.41 574.69 781.31 C575.22 779.21 576.13 777.11 577.18 775.21 C578.23 773.3 579.61 771.55 581.01 769.87 C582.41 768.19 583.85 766.43 585.58 765.14 C587.31 763.84 589.41 763 591.39 762.1 C593.37 761.2 596.45 760.14 597.46 759.75" fill="none" stroke="#26268c" stroke-width="0.7" stroke-opacity="0.8"/>
<path d="M601 759.5 C601.5 759.83 603 761.28 604 761.5 C605 761.72 606 760.65 607 760.8 C608 760.95 609.5 762.13 610 762.4" fill="none" stroke="#4646b4" stroke-width="0.6" stroke-opacity="0.85"/>
<path d="M575.5 800 C575.83 800.5 576.85 802 577.5 803 C578.15 804 579.08 805.5 579.4 806" fill="none" stroke="#4646b4" stroke-width="0.6" stroke-opacity="0.85"/>
</g>
<text x="603.3" y="842.4" font-size="12.5" font-weight="bold" text-anchor="middle" fill="#111" font-family='"Liberation Serif", serif' >3<tspan stroke="#111" stroke-width="0.9">×</tspan>Tg+AAV-KD</text>
<g>
<line x1="675.7" y1="789.3" x2="737.7" y2="789.3" stroke="#bcbcbc" stroke-width="0.7" stroke-dasharray="1.2 0.9"/>
<line x1="706.7" y1="758.3" x2="706.7" y2="820.3" stroke="#c4c4c4" stroke-width="0.7" stroke-dasharray="1.4 0.8"/>
<circle cx="706.7" cy="789.3" r="32" fill="none" stroke="#f06464" stroke-width="0.75"/>
<circle cx="718.3" cy="779.3" r="3.1" fill="none" stroke="#dc4040" stroke-width="0.8"/>
<path d="M706.7 757.89 C707.61 757.96 710.38 757.97 712.17 758.3 C713.95 758.62 715.73 759.19 717.42 759.84 C719.12 760.49 720.77 761.3 722.35 762.19 C723.93 763.09 725.47 764.1 726.91 765.22 C728.35 766.34 729.78 767.54 731 768.91 C732.22 770.27 733.31 771.82 734.21 773.42 C735.12 775.01 735.85 776.74 736.44 778.48 C737.02 780.21 737.45 782.02 737.73 783.83 C738.01 785.63 738.05 787.47 738.09 789.3 C738.13 791.13 738.27 793.02 737.97 794.81 C737.68 796.61 736.98 798.37 736.33 800.08 C735.69 801.8 735.04 803.57 734.1 805.12 C733.15 806.67 731.87 808.04 730.66 809.41 C729.46 810.77 728.22 812.11 726.87 813.33 C725.51 814.56 724.1 815.79 722.55 816.75 C720.99 817.7 719.26 818.43 717.53 819.06 C715.81 819.69 714.01 820.23 712.21 820.53 C710.4 820.84 708.53 820.91 706.7 820.87 C704.87 820.83 703.03 820.62 701.23 820.3 C699.43 819.98 697.64 819.55 695.91 818.96 C694.17 818.37 692.42 817.68 690.85 816.75 C689.28 815.82 687.89 814.57 686.5 813.37 C685.12 812.17 683.71 810.97 682.54 809.57 C681.37 808.18 680.43 806.58 679.5 805 C678.57 803.43 677.55 801.84 676.95 800.13 C676.35 798.42 676.22 796.53 675.91 794.73 C675.59 792.93 675.16 791.12 675.09 789.3 C675.01 787.48 675.06 785.57 675.43 783.79 C675.8 782 676.65 780.31 677.31 778.6 C677.97 776.89 678.5 775.12 679.36 773.52 C680.23 771.91 681.34 770.41 682.5 768.99 C683.66 767.58 684.92 766.19 686.32 765.02 C687.73 763.85 689.31 762.84 690.92 761.97 C692.52 761.1 694.24 760.41 695.96 759.8 C697.68 759.19 699.45 758.68 701.24 758.31 C703.02 757.93 705.79 757.67 706.7 757.55" fill="none" stroke="#26268c" stroke-width="0.9" stroke-opacity="0.95"/>
<path d="M722.35 762.19 C723.18 762.9 725.77 764.9 727.31 766.41 C728.85 767.91 730.35 769.48 731.6 771.21 C732.85 772.94 733.96 774.83 734.82 776.78 C735.68 778.73 736.28 780.82 736.76 782.91 C737.25 785 737.69 787.17 737.71 789.3 C737.72 791.43 737.24 793.59 736.84 795.71 C736.43 797.83 736.1 800.04 735.27 802.02 C734.45 804 733.22 805.91 731.89 807.6 C730.57 809.3 728.92 810.76 727.31 812.19 C725.7 813.62 724.07 815.12 722.23 816.2 C720.39 817.29 717.25 818.3 716.26 818.71" fill="none" stroke="#26268c" stroke-width="0.7" stroke-opacity="0.8"/>
<path d="M676.5 790.5 C677.58 790.33 680.92 789.42 683 789.5 C685.08 789.58 687.5 790.08 689 791 C690.5 791.92 691.5 794.33 692 795" fill="none" stroke="#4646b4" stroke-width="0.6" stroke-opacity="0.85"/>
</g>
<text x="708.3" y="842.4" font-size="12.5" font-weight="bold" text-anchor="middle" fill="#111" font-family='"Liberation Serif", serif' >3<tspan stroke="#111" stroke-width="0.9">×</tspan>Tg+AAV-KD</text>
<text x="708.3" y="857.4" font-size="12.5" font-weight="bold" text-anchor="middle" fill="#111" font-family='"Liberation Serif", serif' >+MF-2.5</text>
<text transform="translate(4.88 906.4) scale(0.92 1)" x="0" y="0" font-size="22.3" font-weight="bold" fill="#000" font-family='"Liberation Sans", sans-serif'>L</text>
<text x="138.1" y="918.3" font-size="12.4" font-weight="normal" text-anchor="middle" fill="#333" font-family='"Liberation Sans", sans-serif' textLength="32.4" lengthAdjust="spacingAndGlyphs">MWM</text>
<text transform="translate(14.4 1016.6) rotate(-90)" x="0" y="3.62" font-size="10.35" font-weight="normal" text-anchor="middle" fill="#333" font-family='"Liberation Sans", sans-serif'>Latency(s)</text>
<line x1="47.3" y1="1080" x2="47.3" y2="953.5" stroke="#000" stroke-width="1.6" />
<line x1="43.3" y1="1079.2" x2="47.3" y2="1079.2" stroke="#000" stroke-width="1.6" />
<text transform="translate(42.3 1082.88) scale(0.9 1)" x="0" y="0" font-size="11.33" font-weight="bold" text-anchor="end" fill="#231c1c" font-family='"Liberation Sans", sans-serif'>0</text>
<line x1="43.3" y1="1054.22" x2="47.3" y2="1054.22" stroke="#000" stroke-width="1.6" />
<text transform="translate(42.3 1057.9) scale(0.9 1)" x="0" y="0" font-size="11.33" font-weight="bold" text-anchor="end" fill="#231c1c" font-family='"Liberation Sans", sans-serif'>20</text>
<line x1="43.3" y1="1029.24" x2="47.3" y2="1029.24" stroke="#000" stroke-width="1.6" />
<text transform="translate(42.3 1032.92) scale(0.9 1)" x="0" y="0" font-size="11.33" font-weight="bold" text-anchor="end" fill="#231c1c" font-family='"Liberation Sans", sans-serif'>40</text>
<line x1="43.3" y1="1004.26" x2="47.3" y2="1004.26" stroke="#000" stroke-width="1.6" />
<text transform="translate(42.3 1007.94) scale(0.9 1)" x="0" y="0" font-size="11.33" font-weight="bold" text-anchor="end" fill="#231c1c" font-family='"Liberation Sans", sans-serif'>60</text>
<line x1="43.3" y1="979.28" x2="47.3" y2="979.28" stroke="#000" stroke-width="1.6" />
<text transform="translate(42.3 982.96) scale(0.9 1)" x="0" y="0" font-size="11.33" font-weight="bold" text-anchor="end" fill="#231c1c" font-family='"Liberation Sans", sans-serif'>80</text>
<line x1="43.3" y1="954.3" x2="47.3" y2="954.3" stroke="#000" stroke-width="1.6" />
<text transform="translate(42.3 957.98) scale(0.9 1)" x="0" y="0" font-size="11.33" font-weight="bold" text-anchor="end" fill="#231c1c" font-family='"Liberation Sans", sans-serif'>100</text>
<line x1="46.5" y1="1079.2" x2="258.6" y2="1079.2" stroke="#000" stroke-width="1.9" />
<line x1="73.1" y1="1079.2" x2="73.1" y2="1082.8" stroke="#000" stroke-width="1.5" />
<line x1="112.8" y1="1079.2" x2="112.8" y2="1082.8" stroke="#000" stroke-width="1.5" />
<line x1="152.4" y1="1079.2" x2="152.4" y2="1082.8" stroke="#000" stroke-width="1.5" />
<line x1="192" y1="1079.2" x2="192" y2="1082.8" stroke="#000" stroke-width="1.5" />
<line x1="231.6" y1="1079.2" x2="231.6" y2="1082.8" stroke="#000" stroke-width="1.5" />
<text transform="translate(72.1 1091.4) rotate(-50)" x="0" y="3.64" font-size="10.4" font-weight="bold" text-anchor="middle" fill="#231c1c" font-family='"Liberation Sans", sans-serif'>1</text>
<text transform="translate(111.8 1091.4) rotate(-50)" x="0" y="3.64" font-size="10.4" font-weight="bold" text-anchor="middle" fill="#231c1c" font-family='"Liberation Sans", sans-serif'>2</text>
<text transform="translate(151.4 1091.4) rotate(-50)" x="0" y="3.64" font-size="10.4" font-weight="bold" text-anchor="middle" fill="#231c1c" font-family='"Liberation Sans", sans-serif'>3</text>
<text transform="translate(191 1091.4) rotate(-50)" x="0" y="3.64" font-size="10.4" font-weight="bold" text-anchor="middle" fill="#231c1c" font-family='"Liberation Sans", sans-serif'>4</text>
<text transform="translate(230.6 1091.4) rotate(-50)" x="0" y="3.64" font-size="10.4" font-weight="bold" text-anchor="middle" fill="#231c1c" font-family='"Liberation Sans", sans-serif'>5</text>
<text x="152.2" y="1111.4" font-size="11.2" font-weight="normal" text-anchor="middle" fill="#333" font-family='"Liberation Sans", sans-serif' >Days</text>
<line x1="112.8" y1="966.8" x2="112.8" y2="1044.3" stroke="#000" stroke-width="1.8" />
<line x1="109.8" y1="1044.3" x2="115.8" y2="1044.3" stroke="#000" stroke-width="1.8" />
<line x1="112.8" y1="966.8" x2="112.8" y2="1047.8" stroke="#0000ff" stroke-width="1.8" />
<line x1="109.8" y1="1047.8" x2="115.8" y2="1047.8" stroke="#0000ff" stroke-width="1.8" />
<line x1="152.4" y1="966.8" x2="152.4" y2="1053.3" stroke="#0000ff" stroke-width="1.8" />
<line x1="149.4" y1="1053.3" x2="155.4" y2="1053.3" stroke="#0000ff" stroke-width="1.8" />
<line x1="192" y1="1030.6" x2="192" y2="1051.4" stroke="#000" stroke-width="1.8" />
<line x1="189" y1="1051.4" x2="195" y2="1051.4" stroke="#000" stroke-width="1.8" />
<line x1="192" y1="966.8" x2="192" y2="1054.7" stroke="#0000ff" stroke-width="1.8" />
<line x1="189" y1="1054.7" x2="195" y2="1054.7" stroke="#0000ff" stroke-width="1.8" />
<line x1="231.6" y1="1019.4" x2="231.6" y2="1063.1" stroke="#000" stroke-width="1.8" />
<line x1="228.6" y1="1063.1" x2="234.6" y2="1063.1" stroke="#000" stroke-width="1.8" />
<line x1="231.6" y1="988.6" x2="231.6" y2="1046.9" stroke="#008000" stroke-width="1.8" />
<line x1="228.6" y1="1046.9" x2="234.6" y2="1046.9" stroke="#008000" stroke-width="1.8" />
<line x1="231.6" y1="966.9" x2="231.6" y2="1041.6" stroke="#0000ff" stroke-width="1.8" />
<line x1="228.6" y1="966.9" x2="234.6" y2="966.9" stroke="#0000ff" stroke-width="1.8" />
<line x1="228.6" y1="1041.6" x2="234.6" y2="1041.6" stroke="#0000ff" stroke-width="1.8" />
<polyline points="73.1,966.79 112.8,966.79 152.4,966.79 192,966.79 231.6,988.65" stroke="#008000" stroke-width="2.2" fill="none" />
<polyline points="73.1,966.79 112.8,1007.13 152.4,984.65 192,1030.61 231.6,1019.37" stroke="#000" stroke-width="2.2" fill="none" />
<polyline points="73.1,966.79 112.8,989.4 152.4,992.89 192,1030.61 231.6,1009.63" stroke="#0000ff" stroke-width="2.2" fill="none" />
<rect x="69.84" y="963.53" width="6.53" height="6.53" fill="#008000"/>
<rect x="109.54" y="963.53" width="6.53" height="6.53" fill="#008000"/>
<rect x="149.14" y="963.53" width="6.53" height="6.53" fill="#008000"/>
<rect x="188.74" y="963.53" width="6.53" height="6.53" fill="#008000"/>
<rect x="228.34" y="985.38" width="6.53" height="6.53" fill="#008000"/>
<circle cx="73.1" cy="966.79" r="3.63" fill="#000" stroke="none" stroke-width="0"/>
<circle cx="112.8" cy="1007.13" r="3.63" fill="#000" stroke="none" stroke-width="0"/>
<circle cx="152.4" cy="984.65" r="3.63" fill="#000" stroke="none" stroke-width="0"/>
<circle cx="192" cy="1030.61" r="3.63" fill="#000" stroke="none" stroke-width="0"/>
<circle cx="231.6" cy="1019.37" r="3.63" fill="#000" stroke="none" stroke-width="0"/>
<path d="M69.74 963.35L76.46 963.35L73.1 970.13Z" fill="#0000ff" stroke="#0000ff" stroke-width="0.8" stroke-linejoin="round"/>
<path d="M109.44 985.96L116.16 985.96L112.8 992.73Z" fill="#0000ff" stroke="#0000ff" stroke-width="0.8" stroke-linejoin="round"/>
<path d="M149.04 989.46L155.76 989.46L152.4 996.23Z" fill="#0000ff" stroke="#0000ff" stroke-width="0.8" stroke-linejoin="round"/>
<path d="M188.64 1027.18L195.36 1027.18L192 1033.95Z" fill="#0000ff" stroke="#0000ff" stroke-width="0.8" stroke-linejoin="round"/>
<path d="M228.24 1006.19L234.96 1006.19L231.6 1012.97Z" fill="#0000ff" stroke="#0000ff" stroke-width="0.8" stroke-linejoin="round"/>
<polyline points="234.1,1008.6 242.4,1008.6 242.4,1019.4 234.1,1019.4" stroke="#000" stroke-width="2" fill="none" />
<polyline points="258.6,987.5 265.5,987.5 265.5,1019.4 258.6,1019.4" stroke="#000" stroke-width="2" fill="none" />
<text x="251.8" y="1018.6" font-size="12" font-weight="normal" text-anchor="middle" fill="#333" font-family='"Liberation Sans", sans-serif' >ns</text>
<text x="278.8" y="1006.8" font-size="12" font-weight="normal" text-anchor="middle" fill="#333" font-family='"Liberation Sans", sans-serif' >ns</text>
<line x1="57.7" y1="935.6" x2="72" y2="935.6" stroke="#000" stroke-width="2" />
<circle cx="64.85" cy="935.6" r="3.08" fill="#000" stroke="none" stroke-width="0"/>
<text x="80.2" y="939.2" font-size="10.2" font-weight="normal" text-anchor="start" fill="#333" font-family='"Liberation Sans", sans-serif' >3xTg+AAV-CON</text>
<line x1="162.5" y1="935.6" x2="176.8" y2="935.6" stroke="#008000" stroke-width="2" />
<rect x="166.79" y="932.74" width="5.71" height="5.71" fill="#008000"/>
<text x="184.5" y="939.2" font-size="10.2" font-weight="normal" text-anchor="start" fill="#333" font-family='"Liberation Sans", sans-serif' >3xTg+AAV-KD</text>
<line x1="57.7" y1="950.7" x2="72" y2="950.7" stroke="#0000ff" stroke-width="2" />
<path d="M62.06 947.84L67.64 947.84L64.85 953.46Z" fill="#0000ff" stroke="#0000ff" stroke-width="0.8" stroke-linejoin="round"/>
<text x="80.2" y="954.3" font-size="10.2" font-weight="normal" text-anchor="start" fill="#333" font-family='"Liberation Sans", sans-serif' >3xTg+AAV-KD+MF-2.5</text>
<text transform="translate(294.03 906.5) scale(0.92 1)" x="0" y="0" font-size="22.3" font-weight="bold" fill="#000" font-family='"Liberation Sans", sans-serif'>M</text>
<g>
<line x1="371" y1="933.3" x2="433.4" y2="933.3" stroke="#bcbcbc" stroke-width="0.7" stroke-dasharray="1.2 0.9"/>
<line x1="402.2" y1="902.1" x2="402.2" y2="964.5" stroke="#c4c4c4" stroke-width="0.7" stroke-dasharray="1.4 0.8"/>
<circle cx="402.2" cy="933.3" r="32.2" fill="none" stroke="#f06464" stroke-width="0.75"/>
<circle cx="414.2" cy="923.2" r="3.1" fill="none" stroke="#dc4040" stroke-width="0.8"/>
<path d="M402.2 901.55 C403.12 901.62 405.9 901.7 407.72 902 C409.54 902.3 411.39 902.69 413.1 903.34 C414.82 904 416.41 905 418 905.93 C419.59 906.87 421.2 907.8 422.64 908.94 C424.08 910.09 425.45 911.38 426.65 912.78 C427.85 914.18 428.98 915.72 429.85 917.34 C430.72 918.96 431.24 920.77 431.85 922.51 C432.46 924.25 433.16 925.98 433.51 927.78 C433.87 929.58 433.99 931.46 433.98 933.3 C433.96 935.14 433.73 936.99 433.44 938.81 C433.15 940.63 432.86 942.5 432.23 944.23 C431.6 945.96 430.64 947.59 429.68 949.17 C428.72 950.74 427.63 952.23 426.48 953.67 C425.32 955.1 424.13 956.58 422.73 957.77 C421.34 958.96 419.71 959.96 418.09 960.83 C416.47 961.7 414.75 962.41 413.01 963.01 C411.28 963.61 409.49 964.1 407.69 964.44 C405.89 964.77 404.03 965.04 402.2 965.01 C400.37 964.99 398.54 964.62 396.73 964.31 C394.92 964 393.08 963.73 391.33 963.16 C389.59 962.58 387.86 961.8 386.28 960.87 C384.7 959.94 383.26 958.75 381.84 957.57 C380.42 956.39 378.98 955.19 377.77 953.8 C376.55 952.42 375.44 950.88 374.54 949.27 C373.64 947.66 372.98 945.9 372.37 944.16 C371.76 942.42 371.15 940.63 370.87 938.82 C370.59 937.01 370.63 935.13 370.68 933.3 C370.73 931.47 370.94 929.65 371.19 927.83 C371.44 926.01 371.56 924.09 372.16 922.37 C372.77 920.65 373.85 919.06 374.83 917.5 C375.8 915.94 376.87 914.45 378.02 913.01 C379.16 911.57 380.3 910.06 381.68 908.85 C383.06 907.63 384.65 906.58 386.28 905.72 C387.9 904.86 389.68 904.27 391.42 903.68 C393.16 903.08 394.91 902.48 396.71 902.16 C398.51 901.83 401.28 901.79 402.2 901.72" fill="none" stroke="#26268c" stroke-width="0.9" stroke-opacity="0.95"/>
<path d="M431.23 943.87 C430.73 944.82 429.34 947.73 428.23 949.56 C427.12 951.4 426.02 953.34 424.57 954.9 C423.11 956.46 421.28 957.75 419.49 958.94 C417.7 960.12 415.8 961.25 413.81 962.03 C411.82 962.82 409.67 963.33 407.55 963.66 C405.44 964 403.26 964.15 401.13 964.05 C399 963.96 396.88 963.53 394.77 963.1 C392.66 962.67 390.42 962.35 388.45 961.49 C386.48 960.63 384.63 959.3 382.95 957.94 C381.27 956.57 379.68 955 378.36 953.3 C377.04 951.61 375.98 949.67 375.02 947.75 C374.06 945.83 373 942.78 372.59 941.79" fill="none" stroke="#26268c" stroke-width="0.7" stroke-opacity="0.8"/>
<path d="M385 906 C386.17 906.5 389.83 908 392 909 C394.17 910 395.83 911.33 398 912 C400.17 912.67 402.67 912.67 405 913 C407.33 913.33 409.5 913.67 412 914 C414.5 914.33 418.67 914.83 420 915" fill="none" stroke="#4646b4" stroke-width="0.75" stroke-opacity="0.9"/>
<path d="M402.5 957 C401.83 957.17 400.83 958.5 400.5 959.5 C400.17 960.5 400.08 962.17 400.5 963 C400.92 963.83 402.17 964.67 403 964.5 C403.83 964.33 405.25 963 405.5 962 C405.75 961 405 959.33 404.5 958.5 C404 957.67 403.17 956.83 402.5 957Z" fill="none" stroke="#4646b4" stroke-width="0.75" stroke-opacity="0.9"/>
</g>
<text x="400.2" y="985.8" font-size="12.5" font-weight="bold" text-anchor="middle" fill="#111" font-family='"Liberation Serif", serif' >3<tspan stroke="#111" stroke-width="0.9">×</tspan>Tg+AAV-CON</text>
<g>
<line x1="317.2" y1="1030.2" x2="380.8" y2="1030.2" stroke="#bcbcbc" stroke-width="0.7" stroke-dasharray="1.2 0.9"/>
<line x1="349" y1="998.4" x2="349" y2="1062" stroke="#c4c4c4" stroke-width="0.7" stroke-dasharray="1.4 0.8"/>
<circle cx="349" cy="1030.2" r="32.8" fill="none" stroke="#f06464" stroke-width="0.75"/>
<circle cx="360.5" cy="1020.1" r="3.1" fill="none" stroke="#dc4040" stroke-width="0.8"/>
<path d="M349 998.09 C349.93 998.16 352.77 998.15 354.59 998.48 C356.42 998.81 358.22 999.42 359.97 1000.06 C361.72 1000.7 363.48 1001.4 365.1 1002.32 C366.71 1003.24 368.25 1004.37 369.67 1005.57 C371.09 1006.77 372.4 1008.13 373.63 1009.54 C374.86 1010.94 376.1 1012.4 377.05 1014.01 C378 1015.61 378.71 1017.39 379.34 1019.16 C379.96 1020.92 380.49 1022.75 380.8 1024.59 C381.12 1026.43 381.23 1028.33 381.23 1030.2 C381.24 1032.07 381.13 1033.96 380.84 1035.81 C380.55 1037.66 380.16 1039.55 379.5 1041.3 C378.84 1043.05 377.88 1044.72 376.89 1046.3 C375.91 1047.89 374.77 1049.38 373.58 1050.82 C372.39 1052.26 371.17 1053.72 369.76 1054.94 C368.35 1056.16 366.73 1057.17 365.12 1058.12 C363.51 1059.08 361.86 1060.08 360.1 1060.7 C358.34 1061.31 356.42 1061.48 354.57 1061.82 C352.72 1062.15 350.86 1062.71 349 1062.7 C347.14 1062.7 345.28 1062.12 343.43 1061.77 C341.59 1061.41 339.7 1061.18 337.94 1060.58 C336.18 1059.98 334.47 1059.1 332.86 1058.15 C331.25 1057.2 329.76 1056.05 328.3 1054.88 C326.83 1053.7 325.32 1052.51 324.09 1051.1 C322.87 1049.69 321.81 1048.06 320.93 1046.41 C320.05 1044.76 319.43 1042.96 318.81 1041.19 C318.18 1039.42 317.55 1037.64 317.19 1035.81 C316.82 1033.98 316.59 1032.06 316.63 1030.2 C316.67 1028.34 317.06 1026.46 317.42 1024.63 C317.79 1022.8 318.25 1020.99 318.84 1019.22 C319.44 1017.46 320.09 1015.66 320.97 1014.02 C321.86 1012.37 322.95 1010.78 324.16 1009.36 C325.37 1007.93 326.79 1006.65 328.25 1005.47 C329.7 1004.28 331.25 1003.19 332.87 1002.26 C334.48 1001.32 336.19 1000.46 337.95 999.84 C339.71 999.21 341.57 998.86 343.41 998.51 C345.25 998.15 348.07 997.83 349 997.69" fill="none" stroke="#26268c" stroke-width="0.9" stroke-opacity="0.95"/>
<path d="M343.44 1061.73 C342.39 1061.36 339.14 1060.47 337.15 1059.53 C335.16 1058.6 333.32 1057.36 331.51 1056.13 C329.7 1054.89 327.88 1053.64 326.29 1052.13 C324.7 1050.63 323.11 1048.96 321.96 1047.1 C320.8 1045.24 320.05 1043.07 319.39 1040.98 C318.72 1038.89 318.25 1036.72 317.96 1034.56 C317.68 1032.4 317.6 1030.2 317.67 1028.01 C317.75 1025.82 317.86 1023.55 318.41 1021.43 C318.96 1019.31 319.89 1017.21 320.97 1015.3 C322.05 1013.38 323.47 1011.65 324.88 1009.96 C326.3 1008.28 327.76 1006.58 329.45 1005.18 C331.15 1003.78 334.1 1002.17 335.03 1001.57" fill="none" stroke="#26268c" stroke-width="0.7" stroke-opacity="0.8"/>
<path d="M330 1050 C329.83 1048.92 331.83 1047.67 333 1047.5 C334.17 1047.33 335.33 1048.42 337 1049 C338.67 1049.58 341.67 1050.08 343 1051 C344.33 1051.92 345.5 1053.75 345 1054.5 C344.5 1055.25 341.83 1055.58 340 1055.5 C338.17 1055.42 335.67 1054.92 334 1054 C332.33 1053.08 330.17 1051.08 330 1050Z" fill="none" stroke="#4646b4" stroke-width="0.75" stroke-opacity="0.9"/>
<path d="M331 1052 C330.85 1051.32 331.9 1049.73 332.5 1049.5 C333.1 1049.27 334.45 1049.92 334.6 1050.6 C334.75 1051.28 334 1053.37 333.4 1053.6 C332.8 1053.83 331.15 1052.68 331 1052Z" fill="none" stroke="#4646b4" stroke-width="0.75" stroke-opacity="0.9"/>
</g>
<text x="349" y="1081.3" font-size="12.5" font-weight="bold" text-anchor="middle" fill="#111" font-family='"Liberation Serif", serif' >3<tspan stroke="#111" stroke-width="0.9">×</tspan>Tg+AAV-KD</text>
<g>
<line x1="417.2" y1="1029" x2="480.4" y2="1029" stroke="#bcbcbc" stroke-width="0.7" stroke-dasharray="1.2 0.9"/>
<line x1="448.8" y1="997.4" x2="448.8" y2="1060.6" stroke="#c4c4c4" stroke-width="0.7" stroke-dasharray="1.4 0.8"/>
<circle cx="448.8" cy="1029" r="32.6" fill="none" stroke="#f06464" stroke-width="0.75"/>
<circle cx="461.1" cy="1018.7" r="3.1" fill="none" stroke="#dc4040" stroke-width="0.8"/>
<path d="M448.8 996.85 C449.73 996.95 452.56 997.05 454.36 997.44 C456.17 997.83 457.91 998.54 459.65 999.18 C461.39 999.82 463.18 1000.39 464.81 1001.26 C466.45 1002.13 468.02 1003.21 469.44 1004.4 C470.87 1005.58 472.19 1006.95 473.37 1008.38 C474.55 1009.82 475.6 1011.39 476.5 1013.01 C477.39 1014.63 478.13 1016.36 478.73 1018.11 C479.33 1019.85 479.76 1021.66 480.11 1023.48 C480.47 1025.29 480.84 1027.16 480.86 1029 C480.87 1030.84 480.54 1032.71 480.2 1034.54 C479.86 1036.36 479.51 1038.22 478.83 1039.93 C478.15 1041.64 477.13 1043.24 476.14 1044.79 C475.15 1046.34 474.08 1047.82 472.9 1049.23 C471.73 1050.63 470.48 1051.98 469.12 1053.21 C467.75 1054.44 466.3 1055.63 464.73 1056.58 C463.15 1057.53 461.43 1058.34 459.69 1058.92 C457.95 1059.5 456.09 1059.8 454.28 1060.07 C452.46 1060.34 450.64 1060.44 448.8 1060.54 C446.96 1060.64 445.01 1060.98 443.22 1060.65 C441.43 1060.32 439.79 1059.19 438.04 1058.55 C436.3 1057.91 434.38 1057.66 432.74 1056.82 C431.11 1055.98 429.62 1054.74 428.23 1053.51 C426.84 1052.29 425.62 1050.87 424.41 1049.47 C423.19 1048.06 421.87 1046.68 420.94 1045.09 C420 1043.49 419.31 1041.69 418.8 1039.92 C418.29 1038.15 418.23 1036.27 417.88 1034.45 C417.52 1032.63 416.72 1030.83 416.67 1029 C416.62 1027.17 417.24 1025.32 417.56 1023.49 C417.89 1021.66 418.04 1019.77 418.63 1018.02 C419.21 1016.27 420.05 1014.53 421.06 1012.98 C422.07 1011.44 423.41 1010.09 424.67 1008.75 C425.92 1007.41 427.2 1006.09 428.6 1004.93 C430 1003.77 431.55 1002.8 433.09 1001.8 C434.64 1000.8 436.16 999.65 437.85 998.93 C439.54 998.2 441.42 997.72 443.24 997.47 C445.07 997.22 447.87 997.44 448.8 997.43" fill="none" stroke="#26268c" stroke-width="0.8" stroke-opacity="0.9"/>
<path d="M478.03 1029 C477.95 1030.28 477.98 1034.15 477.52 1036.69 C477.06 1039.24 476.48 1041.98 475.28 1044.29 C474.08 1046.6 472.19 1048.66 470.34 1050.54 C468.49 1052.43 466.41 1054.21 464.16 1055.6 C461.9 1056.98 459.36 1058.21 456.8 1058.85 C454.24 1059.5 451.46 1059.53 448.8 1059.49 C446.14 1059.45 443.29 1059.49 440.87 1058.6 C438.45 1057.71 436.38 1055.67 434.28 1054.15 C432.18 1052.64 430.29 1051.16 428.28 1049.52 C426.26 1047.89 423.66 1046.47 422.21 1044.35 C420.77 1042.23 420.12 1039.38 419.61 1036.82 C419.09 1034.26 418.99 1031.57 419.15 1029 C419.3 1026.43 419.87 1023.9 420.53 1021.43 C421.19 1018.95 421.9 1016.4 423.11 1014.17 C424.32 1011.93 426.03 1009.87 427.81 1008.01 C429.6 1006.16 431.6 1004.35 433.81 1003.03 C436.02 1001.72 438.56 1000.7 441.06 1000.12 C443.56 999.55 446.25 999.47 448.8 999.59 C451.35 999.71 453.9 1000.16 456.35 1000.82 C458.8 1001.48 462.31 1003.08 463.51 1003.53" fill="none" stroke="#4646b4" stroke-width="0.65" stroke-opacity="0.85"/>
<path d="M453.16 1024.62 C454.13 1024.14 456.94 1022.32 458.99 1021.7 C461.04 1021.08 463.3 1020.92 465.46 1020.92 C467.62 1020.92 469.89 1021.08 471.93 1021.7 C473.98 1022.32 477.87 1024.05 477.75 1024.64 C477.64 1025.24 473.26 1025.75 471.27 1025.27 C469.27 1024.79 467.34 1023.2 465.78 1021.74 C464.23 1020.27 463.25 1018.21 461.93 1016.48 C460.61 1014.75 459.02 1013.2 457.88 1011.37 C456.73 1009.54 455.98 1007.46 455.06 1005.49 C454.15 1003.52 452.05 999.78 452.38 999.55 C452.71 999.32 455.57 1002.51 457.04 1004.1 C458.52 1005.69 459.6 1007.72 461.24 1009.09 C462.88 1010.46 464.96 1011.36 466.89 1012.35 C468.83 1013.33 472.11 1013.48 472.86 1014.98 C473.61 1016.47 472.06 1019.27 471.39 1021.33 C470.72 1023.39 469.75 1025.36 468.84 1027.33 C467.93 1029.3 466.25 1031.12 465.93 1033.16 C465.61 1035.21 465.75 1038.12 466.91 1039.61 C468.08 1041.1 472.87 1042.24 472.93 1042.11 C473 1041.99 469.21 1039.86 467.28 1038.86 C465.35 1037.87 463.26 1037.18 461.36 1036.14 C459.46 1035.09 457.72 1033.76 455.88 1032.6 C454.04 1031.45 452.18 1030.32 450.3 1029.23 C448.43 1028.13 446.36 1027.3 444.62 1026.02 C442.89 1024.74 440.86 1023.35 439.9 1021.53 C438.93 1019.71 438.6 1017.18 438.82 1015.1 C439.05 1013.02 440.03 1010.77 441.26 1009.05 C442.49 1007.34 444.6 1006.27 446.21 1004.81 C447.82 1003.35 450.14 1001.06 450.93 1000.31" fill="none" stroke="#4646b4" stroke-width="0.65" stroke-opacity="0.85"/>
<path d="M437.07 1027.27 C436.44 1026.39 434.52 1023.75 433.27 1021.97 C432.02 1020.2 429.34 1016.82 429.58 1016.6 C429.81 1016.38 432.76 1019.8 434.68 1020.66 C436.6 1021.53 438.96 1021.81 441.1 1021.79 C443.23 1021.78 445.85 1021.69 447.5 1020.57 C449.15 1019.45 450.15 1017.04 450.99 1015.06 C451.84 1013.09 452.41 1010.88 452.59 1008.74 C452.78 1006.61 452.88 1002.49 452.11 1002.24 C451.34 1002 449.13 1005.45 447.96 1007.27 C446.79 1009.08 445.82 1011.09 445.1 1013.13 C444.39 1015.17 444.14 1017.37 443.67 1019.49 C443.19 1021.61 442.93 1023.8 442.24 1025.85 C441.55 1027.9 440.97 1030.34 439.53 1031.79 C438.1 1033.23 435.7 1034.13 433.62 1034.54 C431.55 1034.95 427.39 1033.58 427.11 1034.26 C426.83 1034.94 430.15 1037.47 431.97 1038.62 C433.78 1039.76 435.89 1040.65 437.98 1041.12 C440.07 1041.6 442.32 1041.36 444.5 1041.44 C446.67 1041.52 448.88 1041.3 451.01 1041.59 C453.15 1041.89 455.38 1042.34 457.33 1043.22 C459.28 1044.1 462.9 1046.41 462.73 1046.88 C462.55 1047.35 458.42 1046.19 456.26 1046.06 C454.09 1045.93 451.89 1045.89 449.74 1046.1 C447.58 1046.31 445.45 1046.84 443.33 1047.31 C441.21 1047.78 438.13 1049.74 437.01 1048.92 C435.9 1048.1 437 1044.54 436.63 1042.41 C436.26 1040.28 435.92 1037.93 434.81 1036.15 C433.7 1034.38 431.87 1032.38 429.98 1031.77 C428.1 1031.16 424.58 1032.38 423.5 1032.5" fill="none" stroke="#4646b4" stroke-width="0.65" stroke-opacity="0.85"/>
<path d="M449.91 1017.48 C449.27 1016.6 447.41 1013.92 446.08 1012.2 C444.76 1010.48 442.49 1006.92 441.96 1007.15 C441.43 1007.38 443.17 1011.51 442.92 1013.6 C442.68 1015.68 441.94 1018.38 440.48 1019.64 C439.01 1020.9 436.17 1021.41 434.14 1021.18 C432.11 1020.95 429.03 1017.68 428.32 1018.24 C427.61 1018.81 429.45 1022.45 429.87 1024.58 C430.28 1026.71 430.69 1028.87 430.8 1031.03 C430.91 1033.19 430.01 1035.53 430.53 1037.54 C431.05 1039.56 432.47 1041.56 433.92 1043.12 C435.37 1044.67 437.26 1046.25 439.23 1046.9 C441.21 1047.55 443.77 1047.61 445.75 1047.01 C447.74 1046.42 449.9 1044.98 451.14 1043.33 C452.37 1041.69 452.88 1039.25 453.15 1037.13 C453.43 1035.01 453.26 1032.71 452.78 1030.62 C452.31 1028.53 450.99 1026.65 450.31 1024.59 C449.63 1022.53 449.86 1019.94 448.69 1018.28 C447.53 1016.61 445.3 1015.12 443.32 1014.58 C441.34 1014.04 438.96 1014.72 436.82 1015.05 C434.68 1015.39 432.6 1016.1 430.48 1016.59 C428.36 1017.08 424.22 1018.29 424.12 1018.01 C424.01 1017.73 427.89 1015.84 429.86 1014.92 C431.83 1014.01 434.14 1013.69 435.92 1012.53 C437.71 1011.36 439.06 1009.52 440.56 1007.94 C442.05 1006.37 444.77 1002.98 444.91 1003.08 C445.04 1003.19 442.53 1006.72 441.37 1008.56 C440.22 1010.41 439.13 1012.29 437.98 1014.13 C436.82 1015.97 435.36 1017.66 434.45 1019.61 C433.54 1021.57 432.83 1024.8 432.5 1025.84" fill="none" stroke="#4646b4" stroke-width="0.65" stroke-opacity="0.85"/>
<path d="M452.83 1042.9 C453.52 1043.74 455.54 1046.3 456.96 1047.95 C458.38 1049.59 461.23 1052.86 461.37 1052.75 C461.51 1052.64 458.38 1049.29 457.8 1047.29 C457.22 1045.3 456.95 1042.43 457.88 1040.77 C458.82 1039.11 461.41 1037.85 463.42 1037.32 C465.42 1036.79 467.98 1036.89 469.93 1037.6 C471.88 1038.31 475.31 1041.08 475.09 1041.58 C474.88 1042.08 470.8 1040.68 468.65 1040.62 C466.49 1040.55 464.23 1040.65 462.15 1041.19 C460.07 1041.72 458.23 1043.12 456.19 1043.82 C454.14 1044.53 452.01 1045.12 449.87 1045.42 C447.73 1045.72 445.52 1045.6 443.35 1045.6 C441.18 1045.6 438.7 1046.2 436.83 1045.42 C434.96 1044.64 433.68 1042.42 432.12 1040.91 C430.56 1039.4 427.32 1037.72 427.45 1036.37 C427.58 1035.01 431.71 1034.44 432.9 1032.79 C434.1 1031.15 433.91 1028.55 434.6 1026.5 C435.3 1024.44 436.31 1022.5 437.07 1020.46 C437.84 1018.43 438.67 1016.4 439.18 1014.29 C439.69 1012.19 439.03 1008.37 440.13 1007.84 C441.22 1007.31 443.74 1010.52 445.77 1011.11 C447.79 1011.7 450.42 1012.11 452.28 1011.39 C454.14 1010.67 455.53 1008.46 456.92 1006.8 C458.3 1005.14 460.43 1001.33 460.59 1001.42 C460.76 1001.51 458.78 1005.37 457.91 1007.36 C457.03 1009.35 456.36 1011.44 455.34 1013.35 C454.32 1015.27 453.09 1017.09 451.81 1018.83 C450.52 1020.58 449.12 1022.27 447.63 1023.84 C446.13 1025.4 443.62 1027.51 442.82 1028.24" fill="none" stroke="#4646b4" stroke-width="0.65" stroke-opacity="0.85"/>
</g>
<text x="451" y="1081.3" font-size="12.5" font-weight="bold" text-anchor="middle" fill="#111" font-family='"Liberation Serif", serif' >3<tspan stroke="#111" stroke-width="0.9">×</tspan>Tg+AAV-KD</text>
<text x="447.6" y="1096.2" font-size="12.5" font-weight="bold" text-anchor="middle" fill="#111" font-family='"Liberation Serif", serif' >+MF-2.5</text>
<text transform="translate(532.83 906.5) scale(0.92 1)" x="0" y="0" font-size="22.3" font-weight="bold" fill="#000" font-family='"Liberation Sans", sans-serif'>N</text>
<text x="656.3" y="917.8" font-size="12.4" font-weight="normal" text-anchor="middle" fill="#333" font-family='"Liberation Sans", sans-serif' textLength="33" lengthAdjust="spacingAndGlyphs">MWM</text>
<text transform="translate(537 1005) rotate(-90)" x="0" y="4.02" font-size="11.48" font-weight="normal" text-anchor="middle" fill="#333" font-family='"Liberation Sans", sans-serif'>Crossing times</text>
<polyline points="579.6,1076 579.6,1018.48 620.9,1018.48 620.9,1076" stroke="#000" stroke-width="2" fill="none" stroke-linejoin="miter"/>
<polyline points="640.3,1076 640.3,1061.04 681.7,1061.04 681.7,1076" stroke="#008000" stroke-width="2" fill="none" stroke-linejoin="miter"/>
<polyline points="702.1,1076 702.1,1047.24 742.9,1047.24 742.9,1076" stroke="#0000ff" stroke-width="2" fill="none" stroke-linejoin="miter"/>
<line x1="600.2" y1="989.72" x2="600.2" y2="1076" stroke="#000" stroke-width="1.9" />
<line x1="590.2" y1="989.72" x2="610.2" y2="989.72" stroke="#000" stroke-width="1.9" />
<line x1="661" y1="1018.48" x2="661" y2="1076" stroke="#008000" stroke-width="1.9" />
<line x1="651.15" y1="1018.48" x2="670.85" y2="1018.48" stroke="#008000" stroke-width="1.9" />
<line x1="722.5" y1="997.49" x2="722.5" y2="1076" stroke="#0000ff" stroke-width="1.9" />
<line x1="712.6" y1="997.49" x2="732.4" y2="997.49" stroke="#0000ff" stroke-width="1.9" />
<line x1="560.2" y1="1076.8" x2="560.2" y2="931.4" stroke="#000" stroke-width="1.6" />
<line x1="556.2" y1="1076" x2="560.2" y2="1076" stroke="#000" stroke-width="1.6" />
<text transform="translate(555.4 1079.58) scale(0.9 1)" x="0" y="0" font-size="11" font-weight="bold" text-anchor="end" fill="#231c1c" font-family='"Liberation Sans", sans-serif'>0</text>
<line x1="556.2" y1="1047.24" x2="560.2" y2="1047.24" stroke="#000" stroke-width="1.6" />
<text transform="translate(555.4 1050.82) scale(0.9 1)" x="0" y="0" font-size="11" font-weight="bold" text-anchor="end" fill="#231c1c" font-family='"Liberation Sans", sans-serif'>1</text>
<line x1="556.2" y1="1018.48" x2="560.2" y2="1018.48" stroke="#000" stroke-width="1.6" />
<text transform="translate(555.4 1022.06) scale(0.9 1)" x="0" y="0" font-size="11" font-weight="bold" text-anchor="end" fill="#231c1c" font-family='"Liberation Sans", sans-serif'>2</text>
<line x1="556.2" y1="989.72" x2="560.2" y2="989.72" stroke="#000" stroke-width="1.6" />
<text transform="translate(555.4 993.3) scale(0.9 1)" x="0" y="0" font-size="11" font-weight="bold" text-anchor="end" fill="#231c1c" font-family='"Liberation Sans", sans-serif'>3</text>
<line x1="556.2" y1="960.96" x2="560.2" y2="960.96" stroke="#000" stroke-width="1.6" />
<text transform="translate(555.4 964.54) scale(0.9 1)" x="0" y="0" font-size="11" font-weight="bold" text-anchor="end" fill="#231c1c" font-family='"Liberation Sans", sans-serif'>4</text>
<line x1="556.2" y1="932.2" x2="560.2" y2="932.2" stroke="#000" stroke-width="1.6" />
<text transform="translate(555.4 935.78) scale(0.9 1)" x="0" y="0" font-size="11" font-weight="bold" text-anchor="end" fill="#231c1c" font-family='"Liberation Sans", sans-serif'>5</text>
<line x1="559.4" y1="1076" x2="763.3" y2="1076" stroke="#000" stroke-width="1.9" />
<line x1="600.2" y1="1076" x2="600.2" y2="1079.5" stroke="#000" stroke-width="1.5" />
<line x1="661" y1="1076" x2="661" y2="1079.5" stroke="#000" stroke-width="1.5" />
<line x1="722.5" y1="1076" x2="722.5" y2="1079.5" stroke="#000" stroke-width="1.5" />
<circle cx="600.2" cy="960.96" r="3.63" fill="#000" stroke="none" stroke-width="0"/>
<circle cx="600.2" cy="989.72" r="3.63" fill="#000" stroke="none" stroke-width="0"/>
<circle cx="595.9" cy="1018.48" r="3.63" fill="#000" stroke="none" stroke-width="0"/>
<circle cx="604.4" cy="1018.48" r="3.63" fill="#000" stroke="none" stroke-width="0"/>
<circle cx="592" cy="1076" r="3.63" fill="#000" stroke="none" stroke-width="0"/>
<circle cx="600.2" cy="1076" r="3.63" fill="#000" stroke="none" stroke-width="0"/>
<circle cx="608.5" cy="1076" r="3.63" fill="#000" stroke="none" stroke-width="0"/>
<rect x="657.53" y="986.25" width="6.94" height="6.94" fill="#008000"/>
<rect x="652.83" y="1015.01" width="6.94" height="6.94" fill="#008000"/>
<rect x="661.93" y="1015.01" width="6.94" height="6.94" fill="#008000"/>
<rect x="657.53" y="1043.77" width="6.94" height="6.94" fill="#008000"/>
<rect x="644.93" y="1072.53" width="6.94" height="6.94" fill="#008000"/>
<rect x="651.73" y="1072.53" width="6.94" height="6.94" fill="#008000"/>
<rect x="657.53" y="1072.53" width="6.94" height="6.94" fill="#008000"/>
<rect x="664.03" y="1072.53" width="6.94" height="6.94" fill="#008000"/>
<rect x="670.43" y="1072.53" width="6.94" height="6.94" fill="#008000"/>
<path d="M715.02 986.17L721.98 986.17L718.5 993.17Z" fill="#0000ff" stroke="#0000ff" stroke-width="0.8" stroke-linejoin="round"/>
<path d="M723.12 986.17L730.08 986.17L726.6 993.17Z" fill="#0000ff" stroke="#0000ff" stroke-width="0.8" stroke-linejoin="round"/>
<path d="M719.02 1014.93L725.98 1014.93L722.5 1021.93Z" fill="#0000ff" stroke="#0000ff" stroke-width="0.8" stroke-linejoin="round"/>
<path d="M715.02 1043.69L721.98 1043.69L718.5 1050.69Z" fill="#0000ff" stroke="#0000ff" stroke-width="0.8" stroke-linejoin="round"/>
<path d="M723.12 1043.69L730.08 1043.69L726.6 1050.69Z" fill="#0000ff" stroke="#0000ff" stroke-width="0.8" stroke-linejoin="round"/>
<path d="M708.82 1072.45L715.78 1072.45L712.3 1079.45Z" fill="#0000ff" stroke="#0000ff" stroke-width="0.8" stroke-linejoin="round"/>
<path d="M715.62 1072.45L722.58 1072.45L719.1 1079.45Z" fill="#0000ff" stroke="#0000ff" stroke-width="0.8" stroke-linejoin="round"/>
<path d="M722.42 1072.45L729.38 1072.45L725.9 1079.45Z" fill="#0000ff" stroke="#0000ff" stroke-width="0.8" stroke-linejoin="round"/>
<path d="M729.22 1072.45L736.18 1072.45L732.7 1079.45Z" fill="#0000ff" stroke="#0000ff" stroke-width="0.8" stroke-linejoin="round"/>
<line x1="600" y1="945.5" x2="656.6" y2="945.5" stroke="#000" stroke-width="1.6" />
<line x1="664.1" y1="944.4" x2="720.2" y2="944.4" stroke="#000" stroke-width="1.6" />
<text x="629.4" y="941.2" font-size="12" font-weight="normal" text-anchor="middle" fill="#333" font-family='"Liberation Sans", sans-serif' >ns</text>
<text x="692.6" y="941.2" font-size="12" font-weight="normal" text-anchor="middle" fill="#333" font-family='"Liberation Sans", sans-serif' >ns</text>
<text transform="translate(600.6 1093.5) scale(1.06 1)" x="0" y="0" font-size="12.3" font-weight="normal" text-anchor="middle" fill="#333" font-family='"Liberation Sans", sans-serif'>3×Tg+</text>
<text transform="translate(600.6 1108.1) scale(1.06 1)" x="0" y="0" font-size="12.3" font-weight="normal" text-anchor="middle" fill="#333" font-family='"Liberation Sans", sans-serif'>AAV-CON</text>
<text transform="translate(664.2 1093.5) scale(1.06 1)" x="0" y="0" font-size="12.3" font-weight="normal" text-anchor="middle" fill="#333" font-family='"Liberation Sans", sans-serif'>3×Tg+</text>
<text transform="translate(664.2 1108.1) scale(1.06 1)" x="0" y="0" font-size="12.3" font-weight="normal" text-anchor="middle" fill="#333" font-family='"Liberation Sans", sans-serif'>AAV-KD</text>
<text transform="translate(726.6 1093.5) scale(1.06 1)" x="0" y="0" font-size="12.3" font-weight="normal" text-anchor="middle" fill="#333" font-family='"Liberation Sans", sans-serif'>3×Tg+</text>
<text transform="translate(726.6 1108.1) scale(1.06 1)" x="0" y="0" font-size="12.3" font-weight="normal" text-anchor="middle" fill="#333" font-family='"Liberation Sans", sans-serif'>AAV-KD</text>
<text transform="translate(726.6 1122.7) scale(1.06 1)" x="0" y="0" font-size="12.3" font-weight="normal" text-anchor="middle" fill="#333" font-family='"Liberation Sans", sans-serif'>+MF-2.5</text>
</svg>
</body></html>
